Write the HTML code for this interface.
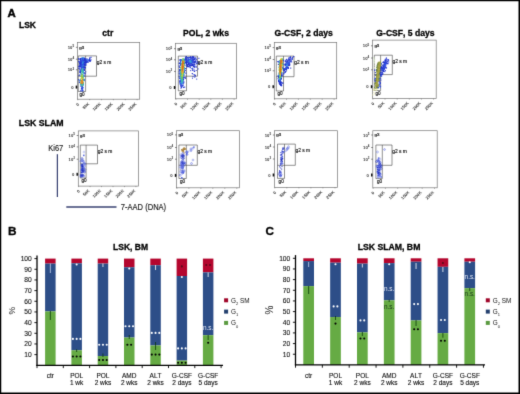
<!DOCTYPE html>
<html><head><meta charset="utf-8"><style>
html,body{margin:0;padding:0;background:#fff;}
svg{display:block;font-family:"Liberation Sans",sans-serif;font-kerning:none;}
#wrap{width:520px;height:394px;overflow:hidden;will-change:transform;}
</style></head><body>
<div id="wrap">
<svg width="520" height="394" viewBox="0 0 520 394" font-family="Liberation Sans, sans-serif">
<defs>
<filter id="all" x="0" y="0" width="520" height="394" filterUnits="userSpaceOnUse" color-interpolation-filters="sRGB"><feConvolveMatrix order="3" kernelMatrix="0.0113 0.0838 0.0113 0.0838 0.6193 0.0838 0.0113 0.0838 0.0113" edgeMode="duplicate" preserveAlpha="true"/></filter></defs>
<g filter="url(#all)">
<rect x="0" y="0" width="520" height="394" fill="#fff"/>
<text x="7.6" y="16.7" font-size="11.4" font-weight="bold" text-anchor="start" fill="#000" stroke="#000" stroke-width="0.45">A</text>
<text x="19" y="28.4" font-size="8.5" font-weight="bold" text-anchor="start" fill="#000" stroke="#000" stroke-width="0.28">LSK</text>
<text x="18.8" y="126.3" font-size="8.75" font-weight="bold" text-anchor="start" fill="#000" stroke="#000" stroke-width="0.28">LSK SLAM</text>
<text x="107.8" y="36.3" font-size="8.6" font-weight="bold" text-anchor="middle" fill="#000" stroke="#000" stroke-width="0.28">ctr</text>
<text x="206" y="36.3" font-size="8.6" font-weight="bold" text-anchor="middle" fill="#000" stroke="#000" stroke-width="0.28">POL, 2 wks</text>
<text x="303.6" y="36.3" font-size="8.6" font-weight="bold" text-anchor="middle" fill="#000" stroke="#000" stroke-width="0.28">G-CSF, 2 days</text>
<text x="405.5" y="36.3" font-size="8.6" font-weight="bold" text-anchor="middle" fill="#000" stroke="#000" stroke-width="0.28">G-CSF, 5 days</text>
<rect x="77.5" y="42.5" width="62.19999999999999" height="56.7" fill="none" stroke="#777" stroke-width="0.7"/>
<path d="M78.3,91.5 V55.9 H96.5 V76.2 H78.3 M85.6,55.9 V91.5 H78.3" fill="none" stroke="#444" stroke-width="0.6"/>
<rect x="86.24" y="60.27" width="1.1" height="1.1" fill="#3050e0"/>
<rect x="88.98" y="60.32" width="1.1" height="1.1" fill="#2233cc"/>
<rect x="88.97" y="60.13" width="1.1" height="1.1" fill="#2233cc"/>
<rect x="86.05" y="59.70" width="1.1" height="1.1" fill="#3050e0"/>
<rect x="87.76" y="60.25" width="1.1" height="1.1" fill="#3050e0"/>
<rect x="89.23" y="58.77" width="1.1" height="1.1" fill="#2233cc"/>
<rect x="87.36" y="59.38" width="1.1" height="1.1" fill="#38a8d8"/>
<rect x="86.48" y="60.32" width="1.1" height="1.1" fill="#3050e0"/>
<rect x="85.43" y="62.20" width="1.1" height="1.1" fill="#2233cc"/>
<rect x="84.26" y="58.33" width="1.1" height="1.1" fill="#2233cc"/>
<rect x="86.06" y="59.28" width="1.1" height="1.1" fill="#3050e0"/>
<rect x="87.58" y="61.77" width="1.1" height="1.1" fill="#2233cc"/>
<rect x="85.71" y="61.40" width="1.1" height="1.1" fill="#2233cc"/>
<rect x="85.66" y="62.16" width="1.1" height="1.1" fill="#2233cc"/>
<rect x="86.85" y="61.54" width="1.1" height="1.1" fill="#2233cc"/>
<rect x="89.04" y="57.62" width="1.1" height="1.1" fill="#2233cc"/>
<rect x="87.74" y="59.35" width="1.1" height="1.1" fill="#3050e0"/>
<rect x="86.80" y="58.53" width="1.1" height="1.1" fill="#3050e0"/>
<rect x="89.63" y="60.03" width="1.1" height="1.1" fill="#2233cc"/>
<rect x="85.55" y="61.72" width="1.1" height="1.1" fill="#2233cc"/>
<rect x="84.81" y="58.60" width="1.1" height="1.1" fill="#3050e0"/>
<rect x="88.88" y="58.83" width="1.1" height="1.1" fill="#2233cc"/>
<rect x="89.64" y="60.38" width="1.1" height="1.1" fill="#2233cc"/>
<rect x="90.46" y="59.32" width="1.1" height="1.1" fill="#2233cc"/>
<rect x="84.51" y="61.01" width="1.1" height="1.1" fill="#2233cc"/>
<rect x="85.57" y="59.68" width="1.1" height="1.1" fill="#3050e0"/>
<rect x="89.94" y="60.44" width="1.1" height="1.1" fill="#2233cc"/>
<rect x="86.78" y="61.04" width="1.1" height="1.1" fill="#3050e0"/>
<rect x="88.66" y="60.30" width="1.1" height="1.1" fill="#2233cc"/>
<rect x="89.50" y="57.47" width="1.1" height="1.1" fill="#2233cc"/>
<rect x="86.38" y="61.08" width="1.1" height="1.1" fill="#2233cc"/>
<rect x="90.51" y="56.77" width="1.1" height="1.1" fill="#2233cc"/>
<rect x="87.40" y="60.49" width="1.1" height="1.1" fill="#3050e0"/>
<rect x="80.86" y="70.54" width="1.1" height="1.1" fill="#38a8d8"/>
<rect x="81.23" y="68.76" width="1.1" height="1.1" fill="#38a8d8"/>
<rect x="83.56" y="72.74" width="1.1" height="1.1" fill="#3050e0"/>
<rect x="81.03" y="74.13" width="1.1" height="1.1" fill="#78c850"/>
<rect x="84.24" y="58.91" width="1.1" height="1.1" fill="#2233cc"/>
<rect x="80.13" y="78.99" width="1.1" height="1.1" fill="#78c850"/>
<rect x="83.25" y="68.22" width="1.1" height="1.1" fill="#2233cc"/>
<rect x="83.39" y="59.27" width="1.1" height="1.1" fill="#3050e0"/>
<rect x="81.71" y="61.83" width="1.1" height="1.1" fill="#3050e0"/>
<rect x="82.42" y="61.53" width="1.1" height="1.1" fill="#3050e0"/>
<rect x="84.93" y="67.27" width="1.1" height="1.1" fill="#2233cc"/>
<rect x="82.49" y="61.46" width="1.1" height="1.1" fill="#3050e0"/>
<rect x="81.31" y="66.83" width="1.1" height="1.1" fill="#38a8d8"/>
<rect x="81.81" y="84.26" width="1.1" height="1.1" fill="#48c0a0"/>
<rect x="82.24" y="70.51" width="1.1" height="1.1" fill="#48c0a0"/>
<rect x="82.27" y="64.60" width="1.1" height="1.1" fill="#38a8d8"/>
<rect x="85.75" y="61.81" width="1.1" height="1.1" fill="#2233cc"/>
<rect x="82.54" y="61.41" width="1.1" height="1.1" fill="#38a8d8"/>
<rect x="78.05" y="58.18" width="1.1" height="1.1" fill="#2233cc"/>
<rect x="80.91" y="76.25" width="1.1" height="1.1" fill="#78c850"/>
<rect x="83.14" y="67.35" width="1.1" height="1.1" fill="#3050e0"/>
<rect x="83.42" y="78.48" width="1.1" height="1.1" fill="#38a8d8"/>
<rect x="83.62" y="63.47" width="1.1" height="1.1" fill="#3050e0"/>
<rect x="78.05" y="79.21" width="1.1" height="1.1" fill="#2233cc"/>
<rect x="81.74" y="77.43" width="1.1" height="1.1" fill="#d8d038"/>
<rect x="83.94" y="58.23" width="1.1" height="1.1" fill="#2233cc"/>
<rect x="81.75" y="64.99" width="1.1" height="1.1" fill="#38a8d8"/>
<rect x="83.74" y="69.53" width="1.1" height="1.1" fill="#3050e0"/>
<rect x="82.50" y="84.13" width="1.1" height="1.1" fill="#3050e0"/>
<rect x="81.51" y="63.57" width="1.1" height="1.1" fill="#3050e0"/>
<rect x="79.58" y="62.97" width="1.1" height="1.1" fill="#2233cc"/>
<rect x="79.76" y="70.40" width="1.1" height="1.1" fill="#2233cc"/>
<rect x="83.11" y="79.04" width="1.1" height="1.1" fill="#48c0a0"/>
<rect x="82.45" y="78.57" width="1.1" height="1.1" fill="#e89a30"/>
<rect x="82.72" y="70.36" width="1.1" height="1.1" fill="#38a8d8"/>
<rect x="83.53" y="79.07" width="1.1" height="1.1" fill="#38a8d8"/>
<rect x="79.23" y="68.14" width="1.1" height="1.1" fill="#2233cc"/>
<rect x="84.15" y="62.04" width="1.1" height="1.1" fill="#2233cc"/>
<rect x="84.31" y="61.53" width="1.1" height="1.1" fill="#2233cc"/>
<rect x="80.11" y="79.77" width="1.1" height="1.1" fill="#d8d038"/>
<rect x="80.61" y="75.20" width="1.1" height="1.1" fill="#48c0a0"/>
<rect x="83.68" y="57.83" width="1.1" height="1.1" fill="#3050e0"/>
<rect x="78.60" y="74.99" width="1.1" height="1.1" fill="#2233cc"/>
<rect x="80.90" y="80.99" width="1.1" height="1.1" fill="#d87020"/>
<rect x="81.92" y="63.15" width="1.1" height="1.1" fill="#38a8d8"/>
<rect x="82.72" y="73.28" width="1.1" height="1.1" fill="#38a8d8"/>
<rect x="83.71" y="68.76" width="1.1" height="1.1" fill="#2233cc"/>
<rect x="83.83" y="69.82" width="1.1" height="1.1" fill="#2233cc"/>
<rect x="78.83" y="81.87" width="1.1" height="1.1" fill="#2233cc"/>
<rect x="83.07" y="71.81" width="1.1" height="1.1" fill="#38a8d8"/>
<rect x="81.18" y="57.96" width="1.1" height="1.1" fill="#3050e0"/>
<rect x="81.77" y="79.03" width="1.1" height="1.1" fill="#d87020"/>
<rect x="81.47" y="70.23" width="1.1" height="1.1" fill="#48c0a0"/>
<rect x="80.05" y="71.45" width="1.1" height="1.1" fill="#3050e0"/>
<rect x="82.78" y="78.63" width="1.1" height="1.1" fill="#78c850"/>
<rect x="83.11" y="64.93" width="1.1" height="1.1" fill="#3050e0"/>
<rect x="79.67" y="71.16" width="1.1" height="1.1" fill="#3050e0"/>
<rect x="80.92" y="69.42" width="1.1" height="1.1" fill="#38a8d8"/>
<rect x="79.71" y="71.10" width="1.1" height="1.1" fill="#2233cc"/>
<rect x="81.53" y="71.85" width="1.1" height="1.1" fill="#48c0a0"/>
<rect x="80.51" y="82.87" width="1.1" height="1.1" fill="#e89a30"/>
<rect x="78.89" y="64.46" width="1.1" height="1.1" fill="#2233cc"/>
<rect x="81.72" y="82.92" width="1.1" height="1.1" fill="#d87020"/>
<rect x="81.16" y="69.39" width="1.1" height="1.1" fill="#38a8d8"/>
<rect x="83.98" y="63.95" width="1.1" height="1.1" fill="#2233cc"/>
<rect x="82.24" y="81.67" width="1.1" height="1.1" fill="#e89a30"/>
<rect x="81.14" y="76.79" width="1.1" height="1.1" fill="#e89a30"/>
<rect x="80.72" y="83.57" width="1.1" height="1.1" fill="#38a8d8"/>
<rect x="80.13" y="83.17" width="1.1" height="1.1" fill="#d8d038"/>
<rect x="82.33" y="79.93" width="1.1" height="1.1" fill="#d8d038"/>
<rect x="80.58" y="69.10" width="1.1" height="1.1" fill="#3050e0"/>
<rect x="81.71" y="66.05" width="1.1" height="1.1" fill="#38a8d8"/>
<rect x="80.52" y="57.98" width="1.1" height="1.1" fill="#2233cc"/>
<rect x="81.29" y="66.40" width="1.1" height="1.1" fill="#38a8d8"/>
<rect x="85.16" y="71.28" width="1.1" height="1.1" fill="#2233cc"/>
<rect x="82.80" y="83.69" width="1.1" height="1.1" fill="#3050e0"/>
<rect x="84.51" y="64.62" width="1.1" height="1.1" fill="#2233cc"/>
<rect x="82.67" y="60.95" width="1.1" height="1.1" fill="#38a8d8"/>
<rect x="81.79" y="82.06" width="1.1" height="1.1" fill="#d87020"/>
<rect x="80.45" y="82.27" width="1.1" height="1.1" fill="#e89a30"/>
<rect x="81.92" y="76.36" width="1.1" height="1.1" fill="#d8d038"/>
<rect x="82.00" y="68.93" width="1.1" height="1.1" fill="#38a8d8"/>
<rect x="79.80" y="82.79" width="1.1" height="1.1" fill="#48c0a0"/>
<rect x="79.67" y="80.57" width="1.1" height="1.1" fill="#38a8d8"/>
<rect x="80.28" y="80.74" width="1.1" height="1.1" fill="#d8d038"/>
<rect x="81.70" y="82.47" width="1.1" height="1.1" fill="#d87020"/>
<rect x="80.88" y="60.94" width="1.1" height="1.1" fill="#3050e0"/>
<rect x="81.79" y="61.81" width="1.1" height="1.1" fill="#3050e0"/>
<rect x="81.44" y="62.90" width="1.1" height="1.1" fill="#38a8d8"/>
<rect x="83.10" y="65.28" width="1.1" height="1.1" fill="#3050e0"/>
<rect x="81.80" y="62.25" width="1.1" height="1.1" fill="#38a8d8"/>
<rect x="82.34" y="57.86" width="1.1" height="1.1" fill="#38a8d8"/>
<rect x="82.21" y="72.33" width="1.1" height="1.1" fill="#78c850"/>
<rect x="83.66" y="60.32" width="1.1" height="1.1" fill="#3050e0"/>
<rect x="79.29" y="69.12" width="1.1" height="1.1" fill="#2233cc"/>
<rect x="81.78" y="71.13" width="1.1" height="1.1" fill="#48c0a0"/>
<rect x="79.96" y="83.98" width="1.1" height="1.1" fill="#38a8d8"/>
<rect x="83.65" y="74.62" width="1.1" height="1.1" fill="#2233cc"/>
<rect x="82.60" y="66.83" width="1.1" height="1.1" fill="#3050e0"/>
<rect x="81.74" y="77.45" width="1.1" height="1.1" fill="#d8d038"/>
<rect x="84.54" y="61.86" width="1.1" height="1.1" fill="#2233cc"/>
<rect x="82.83" y="75.55" width="1.1" height="1.1" fill="#38a8d8"/>
<rect x="81.45" y="63.99" width="1.1" height="1.1" fill="#3050e0"/>
<rect x="83.14" y="69.49" width="1.1" height="1.1" fill="#3050e0"/>
<rect x="82.94" y="83.42" width="1.1" height="1.1" fill="#48c0a0"/>
<rect x="81.05" y="83.52" width="1.1" height="1.1" fill="#48c0a0"/>
<rect x="83.34" y="67.08" width="1.1" height="1.1" fill="#3050e0"/>
<rect x="81.71" y="71.02" width="1.1" height="1.1" fill="#48c0a0"/>
<rect x="82.72" y="71.08" width="1.1" height="1.1" fill="#38a8d8"/>
<rect x="81.82" y="68.24" width="1.1" height="1.1" fill="#38a8d8"/>
<rect x="81.71" y="58.06" width="1.1" height="1.1" fill="#38a8d8"/>
<rect x="82.57" y="71.74" width="1.1" height="1.1" fill="#48c0a0"/>
<rect x="81.01" y="75.20" width="1.1" height="1.1" fill="#78c850"/>
<rect x="78.73" y="66.26" width="1.1" height="1.1" fill="#2233cc"/>
<rect x="81.63" y="61.49" width="1.1" height="1.1" fill="#3050e0"/>
<rect x="79.59" y="80.00" width="1.1" height="1.1" fill="#38a8d8"/>
<rect x="81.36" y="74.39" width="1.1" height="1.1" fill="#78c850"/>
<rect x="79.32" y="71.59" width="1.1" height="1.1" fill="#2233cc"/>
<rect x="82.25" y="79.99" width="1.1" height="1.1" fill="#e89a30"/>
<rect x="79.10" y="81.56" width="1.1" height="1.1" fill="#3050e0"/>
<rect x="81.59" y="76.17" width="1.1" height="1.1" fill="#d8d038"/>
<rect x="82.20" y="67.19" width="1.1" height="1.1" fill="#38a8d8"/>
<rect x="79.73" y="80.02" width="1.1" height="1.1" fill="#48c0a0"/>
<rect x="80.90" y="75.83" width="1.1" height="1.1" fill="#78c850"/>
<rect x="82.87" y="57.54" width="1.1" height="1.1" fill="#38a8d8"/>
<rect x="79.61" y="71.90" width="1.1" height="1.1" fill="#2233cc"/>
<rect x="81.96" y="59.23" width="1.1" height="1.1" fill="#3050e0"/>
<rect x="80.72" y="64.62" width="1.1" height="1.1" fill="#3050e0"/>
<rect x="81.67" y="62.99" width="1.1" height="1.1" fill="#38a8d8"/>
<rect x="78.26" y="67.78" width="1.1" height="1.1" fill="#2233cc"/>
<rect x="81.75" y="75.91" width="1.1" height="1.1" fill="#d8d038"/>
<rect x="79.91" y="59.54" width="1.1" height="1.1" fill="#2233cc"/>
<rect x="81.85" y="64.31" width="1.1" height="1.1" fill="#38a8d8"/>
<rect x="80.78" y="57.79" width="1.1" height="1.1" fill="#3050e0"/>
<rect x="80.77" y="64.71" width="1.1" height="1.1" fill="#3050e0"/>
<rect x="79.78" y="65.30" width="1.1" height="1.1" fill="#2233cc"/>
<rect x="81.10" y="70.00" width="1.1" height="1.1" fill="#48c0a0"/>
<rect x="82.11" y="62.83" width="1.1" height="1.1" fill="#38a8d8"/>
<rect x="82.78" y="82.73" width="1.1" height="1.1" fill="#78c850"/>
<rect x="81.48" y="83.59" width="1.1" height="1.1" fill="#48c0a0"/>
<rect x="82.83" y="64.70" width="1.1" height="1.1" fill="#3050e0"/>
<rect x="84.68" y="73.15" width="1.1" height="1.1" fill="#2233cc"/>
<rect x="82.35" y="71.60" width="1.1" height="1.1" fill="#48c0a0"/>
<rect x="81.50" y="71.19" width="1.1" height="1.1" fill="#78c850"/>
<rect x="81.86" y="76.44" width="1.1" height="1.1" fill="#d8d038"/>
<rect x="85.38" y="58.12" width="1.1" height="1.1" fill="#2233cc"/>
<rect x="80.66" y="70.73" width="1.1" height="1.1" fill="#38a8d8"/>
<rect x="82.23" y="66.74" width="1.1" height="1.1" fill="#38a8d8"/>
<rect x="83.60" y="80.14" width="1.1" height="1.1" fill="#3050e0"/>
<rect x="82.04" y="60.69" width="1.1" height="1.1" fill="#38a8d8"/>
<rect x="82.41" y="76.70" width="1.1" height="1.1" fill="#78c850"/>
<rect x="81.17" y="68.06" width="1.1" height="1.1" fill="#48c0a0"/>
<rect x="80.75" y="73.36" width="1.1" height="1.1" fill="#48c0a0"/>
<rect x="83.33" y="58.75" width="1.1" height="1.1" fill="#3050e0"/>
<rect x="80.76" y="79.99" width="1.1" height="1.1" fill="#e89a30"/>
<rect x="85.43" y="64.62" width="1.1" height="1.1" fill="#2233cc"/>
<rect x="79.24" y="62.58" width="1.1" height="1.1" fill="#2233cc"/>
<rect x="83.77" y="79.37" width="1.1" height="1.1" fill="#3050e0"/>
<rect x="82.90" y="82.11" width="1.1" height="1.1" fill="#48c0a0"/>
<rect x="81.36" y="58.79" width="1.1" height="1.1" fill="#38a8d8"/>
<rect x="81.78" y="69.62" width="1.1" height="1.1" fill="#48c0a0"/>
<rect x="79.84" y="58.77" width="1.1" height="1.1" fill="#2233cc"/>
<rect x="80.61" y="60.89" width="1.1" height="1.1" fill="#3050e0"/>
<rect x="81.72" y="77.40" width="1.1" height="1.1" fill="#e89a30"/>
<rect x="81.17" y="64.47" width="1.1" height="1.1" fill="#38a8d8"/>
<rect x="80.88" y="68.10" width="1.1" height="1.1" fill="#3050e0"/>
<rect x="82.86" y="61.81" width="1.1" height="1.1" fill="#3050e0"/>
<rect x="85.18" y="63.39" width="1.1" height="1.1" fill="#2233cc"/>
<rect x="80.62" y="84.35" width="1.1" height="1.1" fill="#38a8d8"/>
<rect x="82.30" y="59.90" width="1.1" height="1.1" fill="#38a8d8"/>
<rect x="82.12" y="59.91" width="1.1" height="1.1" fill="#38a8d8"/>
<rect x="82.39" y="81.41" width="1.1" height="1.1" fill="#e89a30"/>
<rect x="80.42" y="68.60" width="1.1" height="1.1" fill="#3050e0"/>
<rect x="82.81" y="66.58" width="1.1" height="1.1" fill="#3050e0"/>
<rect x="82.67" y="64.94" width="1.1" height="1.1" fill="#3050e0"/>
<rect x="81.46" y="74.45" width="1.1" height="1.1" fill="#d8d038"/>
<rect x="81.78" y="63.28" width="1.1" height="1.1" fill="#38a8d8"/>
<rect x="82.72" y="69.49" width="1.1" height="1.1" fill="#38a8d8"/>
<rect x="81.61" y="80.36" width="1.1" height="1.1" fill="#d87020"/>
<rect x="81.34" y="76.61" width="1.1" height="1.1" fill="#e89a30"/>
<rect x="81.71" y="70.23" width="1.1" height="1.1" fill="#48c0a0"/>
<rect x="81.35" y="82.47" width="1.1" height="1.1" fill="#d87020"/>
<rect x="82.38" y="80.55" width="1.1" height="1.1" fill="#d8d038"/>
<rect x="81.78" y="61.62" width="1.1" height="1.1" fill="#38a8d8"/>
<rect x="83.50" y="75.87" width="1.1" height="1.1" fill="#3050e0"/>
<rect x="80.74" y="78.10" width="1.1" height="1.1" fill="#d8d038"/>
<rect x="83.86" y="72.34" width="1.1" height="1.1" fill="#2233cc"/>
<rect x="81.92" y="82.29" width="1.1" height="1.1" fill="#d87020"/>
<rect x="82.68" y="65.65" width="1.1" height="1.1" fill="#38a8d8"/>
<rect x="82.26" y="76.31" width="1.1" height="1.1" fill="#78c850"/>
<rect x="80.03" y="59.35" width="1.1" height="1.1" fill="#2233cc"/>
<rect x="81.62" y="63.49" width="1.1" height="1.1" fill="#38a8d8"/>
<rect x="81.55" y="57.73" width="1.1" height="1.1" fill="#38a8d8"/>
<rect x="82.96" y="74.85" width="1.1" height="1.1" fill="#38a8d8"/>
<rect x="81.82" y="70.28" width="1.1" height="1.1" fill="#48c0a0"/>
<rect x="82.51" y="76.48" width="1.1" height="1.1" fill="#48c0a0"/>
<rect x="79.77" y="58.04" width="1.1" height="1.1" fill="#2233cc"/>
<rect x="81.93" y="64.40" width="1.1" height="1.1" fill="#38a8d8"/>
<rect x="81.41" y="82.43" width="1.1" height="1.1" fill="#d87020"/>
<rect x="82.11" y="68.81" width="1.1" height="1.1" fill="#48c0a0"/>
<rect x="82.69" y="62.80" width="1.1" height="1.1" fill="#38a8d8"/>
<rect x="79.51" y="62.99" width="1.1" height="1.1" fill="#2233cc"/>
<rect x="82.34" y="65.87" width="1.1" height="1.1" fill="#38a8d8"/>
<rect x="80.64" y="77.98" width="1.1" height="1.1" fill="#78c850"/>
<rect x="80.50" y="83.15" width="1.1" height="1.1" fill="#e89a30"/>
<rect x="81.79" y="68.71" width="1.1" height="1.1" fill="#48c0a0"/>
<rect x="82.13" y="83.07" width="1.1" height="1.1" fill="#e89a30"/>
<rect x="82.36" y="83.75" width="1.1" height="1.1" fill="#38a8d8"/>
<rect x="83.51" y="58.85" width="1.1" height="1.1" fill="#3050e0"/>
<rect x="81.87" y="81.31" width="1.1" height="1.1" fill="#d87020"/>
<rect x="82.36" y="84.38" width="1.1" height="1.1" fill="#38a8d8"/>
<rect x="80.87" y="82.72" width="1.1" height="1.1" fill="#d87020"/>
<rect x="81.31" y="58.31" width="1.1" height="1.1" fill="#3050e0"/>
<rect x="80.54" y="66.41" width="1.1" height="1.1" fill="#3050e0"/>
<rect x="81.84" y="57.53" width="1.1" height="1.1" fill="#38a8d8"/>
<rect x="83.43" y="60.79" width="1.1" height="1.1" fill="#3050e0"/>
<rect x="80.15" y="63.05" width="1.1" height="1.1" fill="#3050e0"/>
<rect x="83.65" y="69.13" width="1.1" height="1.1" fill="#2233cc"/>
<rect x="79.69" y="70.23" width="1.1" height="1.1" fill="#2233cc"/>
<rect x="84.31" y="67.28" width="1.1" height="1.1" fill="#2233cc"/>
<rect x="79.69" y="58.27" width="1.1" height="1.1" fill="#2233cc"/>
<rect x="83.58" y="58.55" width="1.1" height="1.1" fill="#2233cc"/>
<rect x="83.11" y="59.14" width="1.1" height="1.1" fill="#38a8d8"/>
<rect x="80.90" y="81.71" width="1.1" height="1.1" fill="#d87020"/>
<rect x="83.96" y="64.80" width="1.1" height="1.1" fill="#2233cc"/>
<rect x="81.06" y="76.80" width="1.1" height="1.1" fill="#d8d038"/>
<rect x="84.49" y="64.89" width="1.1" height="1.1" fill="#2233cc"/>
<rect x="81.65" y="74.57" width="1.1" height="1.1" fill="#d8d038"/>
<rect x="82.27" y="58.10" width="1.1" height="1.1" fill="#38a8d8"/>
<rect x="82.81" y="83.21" width="1.1" height="1.1" fill="#48c0a0"/>
<rect x="80.27" y="64.23" width="1.1" height="1.1" fill="#3050e0"/>
<rect x="82.73" y="62.39" width="1.1" height="1.1" fill="#38a8d8"/>
<rect x="82.50" y="77.39" width="1.1" height="1.1" fill="#78c850"/>
<rect x="79.45" y="66.30" width="1.1" height="1.1" fill="#2233cc"/>
<rect x="81.94" y="67.22" width="1.1" height="1.1" fill="#38a8d8"/>
<rect x="80.98" y="77.78" width="1.1" height="1.1" fill="#d8d038"/>
<rect x="83.98" y="59.20" width="1.1" height="1.1" fill="#2233cc"/>
<rect x="81.66" y="83.92" width="1.1" height="1.1" fill="#48c0a0"/>
<rect x="81.26" y="84.12" width="1.1" height="1.1" fill="#48c0a0"/>
<rect x="82.25" y="70.91" width="1.1" height="1.1" fill="#48c0a0"/>
<rect x="81.88" y="69.52" width="1.1" height="1.1" fill="#48c0a0"/>
<rect x="82.91" y="75.65" width="1.1" height="1.1" fill="#48c0a0"/>
<rect x="81.09" y="80.32" width="1.1" height="1.1" fill="#d87020"/>
<rect x="81.20" y="65.38" width="1.1" height="1.1" fill="#38a8d8"/>
<rect x="81.74" y="67.52" width="1.1" height="1.1" fill="#38a8d8"/>
<rect x="80.88" y="64.07" width="1.1" height="1.1" fill="#3050e0"/>
<rect x="80.38" y="81.32" width="1.1" height="1.1" fill="#d8d038"/>
<rect x="80.76" y="84.25" width="1.1" height="1.1" fill="#48c0a0"/>
<rect x="82.73" y="63.70" width="1.1" height="1.1" fill="#38a8d8"/>
<rect x="79.92" y="60.21" width="1.1" height="1.1" fill="#2233cc"/>
<rect x="83.00" y="79.57" width="1.1" height="1.1" fill="#48c0a0"/>
<rect x="78.98" y="65.38" width="1.1" height="1.1" fill="#2233cc"/>
<rect x="83.98" y="62.57" width="1.1" height="1.1" fill="#3050e0"/>
<rect x="81.52" y="67.50" width="1.1" height="1.1" fill="#48c0a0"/>
<rect x="81.61" y="69.58" width="1.1" height="1.1" fill="#48c0a0"/>
<rect x="84.71" y="60.31" width="1.1" height="1.1" fill="#2233cc"/>
<rect x="81.86" y="74.19" width="1.1" height="1.1" fill="#78c850"/>
<rect x="83.40" y="62.96" width="1.1" height="1.1" fill="#3050e0"/>
<rect x="81.12" y="73.63" width="1.1" height="1.1" fill="#48c0a0"/>
<rect x="80.99" y="66.29" width="1.1" height="1.1" fill="#38a8d8"/>
<rect x="81.56" y="62.45" width="1.1" height="1.1" fill="#38a8d8"/>
<rect x="82.48" y="72.25" width="1.1" height="1.1" fill="#38a8d8"/>
<rect x="80.48" y="60.19" width="1.1" height="1.1" fill="#3050e0"/>
<rect x="83.23" y="59.91" width="1.1" height="1.1" fill="#3050e0"/>
<rect x="80.65" y="76.23" width="1.1" height="1.1" fill="#78c850"/>
<rect x="81.91" y="83.19" width="1.1" height="1.1" fill="#d87020"/>
<rect x="80.81" y="72.75" width="1.1" height="1.1" fill="#48c0a0"/>
<rect x="82.36" y="84.36" width="1.1" height="1.1" fill="#38a8d8"/>
<rect x="81.81" y="62.77" width="1.1" height="1.1" fill="#3050e0"/>
<rect x="80.51" y="81.79" width="1.1" height="1.1" fill="#e89a30"/>
<rect x="79.21" y="79.60" width="1.1" height="1.1" fill="#3050e0"/>
<rect x="83.76" y="61.84" width="1.1" height="1.1" fill="#2233cc"/>
<rect x="79.85" y="72.34" width="1.1" height="1.1" fill="#2233cc"/>
<rect x="79.40" y="74.25" width="1.1" height="1.1" fill="#2233cc"/>
<rect x="82.35" y="71.07" width="1.1" height="1.1" fill="#48c0a0"/>
<rect x="82.20" y="82.44" width="1.1" height="1.1" fill="#e89a30"/>
<rect x="82.86" y="70.69" width="1.1" height="1.1" fill="#38a8d8"/>
<rect x="78.20" y="60.87" width="1.1" height="1.1" fill="#2233cc"/>
<rect x="80.89" y="83.79" width="1.1" height="1.1" fill="#48c0a0"/>
<rect x="81.84" y="67.92" width="1.1" height="1.1" fill="#48c0a0"/>
<rect x="81.99" y="88.17" width="1.1" height="1.1" fill="#3050e0"/>
<rect x="81.28" y="85.78" width="1.1" height="1.1" fill="#3050e0"/>
<rect x="82.02" y="89.53" width="1.1" height="1.1" fill="#3050e0"/>
<rect x="81.25" y="86.85" width="1.1" height="1.1" fill="#3050e0"/>
<rect x="82.24" y="86.75" width="1.1" height="1.1" fill="#3050e0"/>
<rect x="82.22" y="89.83" width="1.1" height="1.1" fill="#2233cc"/>
<rect x="81.76" y="87.82" width="1.1" height="1.1" fill="#3050e0"/>
<rect x="81.50" y="85.16" width="1.1" height="1.1" fill="#48c0a0"/>
<rect x="81.21" y="87.75" width="1.1" height="1.1" fill="#3050e0"/>
<rect x="81.20" y="87.95" width="1.1" height="1.1" fill="#3050e0"/>
<rect x="80.84" y="88.40" width="1.1" height="1.1" fill="#2233cc"/>
<rect x="82.07" y="88.16" width="1.1" height="1.1" fill="#3050e0"/>
<rect x="81.88" y="85.86" width="1.1" height="1.1" fill="#3050e0"/>
<rect x="80.19" y="85.53" width="1.1" height="1.1" fill="#2233cc"/>
<rect x="82.41" y="85.09" width="1.1" height="1.1" fill="#38a8d8"/>
<rect x="82.44" y="87.10" width="1.1" height="1.1" fill="#3050e0"/>
<rect x="81.51" y="84.69" width="1.1" height="1.1" fill="#48c0a0"/>
<rect x="81.47" y="89.12" width="1.1" height="1.1" fill="#3050e0"/>
<rect x="80.87" y="84.78" width="1.1" height="1.1" fill="#38a8d8"/>
<rect x="81.73" y="85.27" width="1.1" height="1.1" fill="#78c850"/>
<rect x="81.56" y="90.43" width="1.1" height="1.1" fill="#3050e0"/>
<rect x="80.11" y="90.34" width="1.1" height="1.1" fill="#2233cc"/>
<rect x="82.22" y="90.19" width="1.1" height="1.1" fill="#3050e0"/>
<rect x="81.48" y="90.03" width="1.1" height="1.1" fill="#3050e0"/>
<rect x="81.77" y="86.56" width="1.1" height="1.1" fill="#3050e0"/>
<rect x="81.11" y="60.20" width="1.1" height="1.1" fill="#3050e0"/>
<rect x="78.46" y="58.89" width="1.1" height="1.1" fill="#2233cc"/>
<rect x="82.00" y="60.08" width="1.1" height="1.1" fill="#38a8d8"/>
<rect x="83.04" y="60.64" width="1.1" height="1.1" fill="#3050e0"/>
<rect x="82.28" y="66.81" width="1.1" height="1.1" fill="#38a8d8"/>
<rect x="83.42" y="66.40" width="1.1" height="1.1" fill="#2233cc"/>
<rect x="84.50" y="62.76" width="1.1" height="1.1" fill="#2233cc"/>
<rect x="83.47" y="61.05" width="1.1" height="1.1" fill="#3050e0"/>
<rect x="80.59" y="66.28" width="1.1" height="1.1" fill="#2233cc"/>
<rect x="80.95" y="67.38" width="1.1" height="1.1" fill="#3050e0"/>
<rect x="80.88" y="60.10" width="1.1" height="1.1" fill="#3050e0"/>
<rect x="80.31" y="63.22" width="1.1" height="1.1" fill="#2233cc"/>
<rect x="84.14" y="59.22" width="1.1" height="1.1" fill="#2233cc"/>
<rect x="82.57" y="57.93" width="1.1" height="1.1" fill="#38a8d8"/>
<rect x="80.94" y="67.29" width="1.1" height="1.1" fill="#3050e0"/>
<rect x="82.01" y="64.09" width="1.1" height="1.1" fill="#3050e0"/>
<rect x="82.14" y="58.94" width="1.1" height="1.1" fill="#38a8d8"/>
<rect x="78.66" y="61.77" width="1.1" height="1.1" fill="#2233cc"/>
<rect x="81.78" y="59.72" width="1.1" height="1.1" fill="#38a8d8"/>
<rect x="83.55" y="57.67" width="1.1" height="1.1" fill="#2233cc"/>
<rect x="82.07" y="61.02" width="1.1" height="1.1" fill="#3050e0"/>
<rect x="81.13" y="63.29" width="1.1" height="1.1" fill="#3050e0"/>
<rect x="81.48" y="62.20" width="1.1" height="1.1" fill="#3050e0"/>
<rect x="82.09" y="66.82" width="1.1" height="1.1" fill="#3050e0"/>
<rect x="82.96" y="63.83" width="1.1" height="1.1" fill="#3050e0"/>
<rect x="81.03" y="65.27" width="1.1" height="1.1" fill="#3050e0"/>
<rect x="82.77" y="63.90" width="1.1" height="1.1" fill="#3050e0"/>
<rect x="80.99" y="60.95" width="1.1" height="1.1" fill="#3050e0"/>
<rect x="80.68" y="64.79" width="1.1" height="1.1" fill="#2233cc"/>
<rect x="83.95" y="66.49" width="1.1" height="1.1" fill="#2233cc"/>
<rect x="82.59" y="59.83" width="1.1" height="1.1" fill="#3050e0"/>
<rect x="84.07" y="65.24" width="1.1" height="1.1" fill="#3050e0"/>
<rect x="82.21" y="58.87" width="1.1" height="1.1" fill="#3050e0"/>
<rect x="79.76" y="63.53" width="1.1" height="1.1" fill="#2233cc"/>
<rect x="81.95" y="59.20" width="1.1" height="1.1" fill="#3050e0"/>
<rect x="85.25" y="60.45" width="1.1" height="1.1" fill="#2233cc"/>
<rect x="83.06" y="64.60" width="1.1" height="1.1" fill="#3050e0"/>
<rect x="82.00" y="65.89" width="1.1" height="1.1" fill="#38a8d8"/>
<rect x="80.26" y="61.97" width="1.1" height="1.1" fill="#2233cc"/>
<rect x="82.10" y="58.50" width="1.1" height="1.1" fill="#3050e0"/>
<rect x="82.50" y="64.95" width="1.1" height="1.1" fill="#38a8d8"/>
<rect x="81.75" y="65.90" width="1.1" height="1.1" fill="#38a8d8"/>
<rect x="80.83" y="61.81" width="1.1" height="1.1" fill="#3050e0"/>
<rect x="81.83" y="62.68" width="1.1" height="1.1" fill="#38a8d8"/>
<rect x="84.33" y="59.62" width="1.1" height="1.1" fill="#2233cc"/>
<rect x="81.97" y="57.60" width="1.1" height="1.1" fill="#38a8d8"/>
<rect x="83.22" y="66.90" width="1.1" height="1.1" fill="#3050e0"/>
<rect x="83.09" y="60.72" width="1.1" height="1.1" fill="#3050e0"/>
<rect x="81.07" y="66.53" width="1.1" height="1.1" fill="#3050e0"/>
<rect x="79.79" y="64.38" width="1.1" height="1.1" fill="#2233cc"/>
<rect x="78.22" y="65.85" width="1.1" height="1.1" fill="#2233cc"/>
<rect x="79.68" y="66.03" width="1.1" height="1.1" fill="#2233cc"/>
<rect x="83.04" y="60.53" width="1.1" height="1.1" fill="#3050e0"/>
<rect x="85.16" y="63.68" width="1.1" height="1.1" fill="#2233cc"/>
<rect x="83.70" y="57.72" width="1.1" height="1.1" fill="#2233cc"/>
<rect x="81.55" y="66.74" width="1.1" height="1.1" fill="#3050e0"/>
<rect x="82.78" y="57.87" width="1.1" height="1.1" fill="#3050e0"/>
<rect x="81.20" y="63.79" width="1.1" height="1.1" fill="#3050e0"/>
<rect x="79.58" y="63.35" width="1.1" height="1.1" fill="#2233cc"/>
<rect x="83.48" y="65.63" width="1.1" height="1.1" fill="#2233cc"/>
<rect x="79.00" y="66.13" width="1.1" height="1.1" fill="#2233cc"/>
<rect x="82.90" y="66.89" width="1.1" height="1.1" fill="#3050e0"/>
<rect x="82.73" y="57.79" width="1.1" height="1.1" fill="#38a8d8"/>
<rect x="80.06" y="65.57" width="1.1" height="1.1" fill="#2233cc"/>
<rect x="79.82" y="60.32" width="1.1" height="1.1" fill="#2233cc"/>
<rect x="82.10" y="58.43" width="1.1" height="1.1" fill="#3050e0"/>
<rect x="80.97" y="61.69" width="1.1" height="1.1" fill="#3050e0"/>
<rect x="81.53" y="60.02" width="1.1" height="1.1" fill="#3050e0"/>
<rect x="84.53" y="60.66" width="1.1" height="1.1" fill="#2233cc"/>
<rect x="83.37" y="62.49" width="1.1" height="1.1" fill="#2233cc"/>
<rect x="80.26" y="61.58" width="1.1" height="1.1" fill="#2233cc"/>
<rect x="80.62" y="65.18" width="1.1" height="1.1" fill="#3050e0"/>
<rect x="84.10" y="59.62" width="1.1" height="1.1" fill="#2233cc"/>
<rect x="82.47" y="58.36" width="1.1" height="1.1" fill="#3050e0"/>
<rect x="81.16" y="59.47" width="1.1" height="1.1" fill="#3050e0"/>
<rect x="83.91" y="67.23" width="1.1" height="1.1" fill="#2233cc"/>
<rect x="82.10" y="65.42" width="1.1" height="1.1" fill="#3050e0"/>
<rect x="80.32" y="62.40" width="1.1" height="1.1" fill="#2233cc"/>
<rect x="84.53" y="66.89" width="1.1" height="1.1" fill="#2233cc"/>
<rect x="81.46" y="59.60" width="1.1" height="1.1" fill="#3050e0"/>
<rect x="80.26" y="63.82" width="1.1" height="1.1" fill="#2233cc"/>
<rect x="81.13" y="65.33" width="1.1" height="1.1" fill="#3050e0"/>
<rect x="79.39" y="61.01" width="1.1" height="1.1" fill="#2233cc"/>
<rect x="82.57" y="61.40" width="1.1" height="1.1" fill="#38a8d8"/>
<rect x="81.62" y="57.70" width="1.1" height="1.1" fill="#3050e0"/>
<rect x="83.59" y="60.08" width="1.1" height="1.1" fill="#2233cc"/>
<rect x="80.95" y="66.29" width="1.1" height="1.1" fill="#3050e0"/>
<rect x="79.42" y="62.06" width="1.1" height="1.1" fill="#2233cc"/>
<rect x="81.52" y="63.91" width="1.1" height="1.1" fill="#3050e0"/>
<rect x="83.78" y="60.72" width="1.1" height="1.1" fill="#3050e0"/>
<text x="79.3" y="48.699999999999996" font-size="4.4" text-anchor="start" fill="#111" stroke="#111" stroke-width="0.2">g3</text>
<text x="96.7" y="64.1" font-size="4.9" text-anchor="start" fill="#111" stroke="#111" stroke-width="0.15">g2 s m</text>
<text x="79.39999999999999" y="95.8" font-size="4.6" text-anchor="start" fill="#111" stroke="#111" stroke-width="0.15">g0</text>
<line x1="75.9" y1="47.3" x2="77.5" y2="47.3" stroke="#333" stroke-width="0.6"/>
<text x="74.1" y="48.8" font-size="4.2" font-weight="bold" text-anchor="end" fill="#333" >10<tspan font-size="3.0" dy="-1.7">5</tspan></text>
<line x1="75.9" y1="59.2" x2="77.5" y2="59.2" stroke="#333" stroke-width="0.6"/>
<text x="74.1" y="60.7" font-size="4.2" font-weight="bold" text-anchor="end" fill="#333" >10<tspan font-size="3.0" dy="-1.7">4</tspan></text>
<line x1="75.9" y1="69.8" x2="77.5" y2="69.8" stroke="#333" stroke-width="0.6"/>
<text x="74.1" y="71.3" font-size="4.2" font-weight="bold" text-anchor="end" fill="#333" >10<tspan font-size="3.0" dy="-1.7">3</tspan></text>
<line x1="75.9" y1="87.1" x2="77.5" y2="87.1" stroke="#333" stroke-width="0.6"/>
<text x="73.5" y="88.6" font-size="4.2" font-weight="bold" text-anchor="end" fill="#333" >0</text>
<rect x="75.7" y="85.6" width="1.4" height="3" fill="#111"/>
<line x1="77.8" y1="99.2" x2="77.8" y2="100.2" stroke="#555" stroke-width="0.5"/>
<text transform="translate(79.4,104.6) rotate(-45)" font-size="4.1" font-weight="bold" text-anchor="end" fill="#333">0</text>
<line x1="89.7" y1="99.2" x2="89.7" y2="100.2" stroke="#555" stroke-width="0.5"/>
<text transform="translate(89.5,104.1) rotate(-45)" font-size="4.1" font-weight="bold" text-anchor="end" fill="#333">50K</text>
<line x1="101.5" y1="99.2" x2="101.5" y2="100.2" stroke="#555" stroke-width="0.5"/>
<text transform="translate(101.3,104.1) rotate(-45)" font-size="4.1" font-weight="bold" text-anchor="end" fill="#333">100K</text>
<line x1="113.4" y1="99.2" x2="113.4" y2="100.2" stroke="#555" stroke-width="0.5"/>
<text transform="translate(113.2,104.1) rotate(-45)" font-size="4.1" font-weight="bold" text-anchor="end" fill="#333">150K</text>
<line x1="125.3" y1="99.2" x2="125.3" y2="100.2" stroke="#555" stroke-width="0.5"/>
<text transform="translate(125.1,104.1) rotate(-45)" font-size="4.1" font-weight="bold" text-anchor="end" fill="#333">200K</text>
<line x1="137.1" y1="99.2" x2="137.1" y2="100.2" stroke="#555" stroke-width="0.5"/>
<text transform="translate(136.9,104.1) rotate(-45)" font-size="4.1" font-weight="bold" text-anchor="end" fill="#333">250K</text>
<rect x="175.6" y="43.3" width="61.0" height="55.5" fill="none" stroke="#777" stroke-width="0.7"/>
<path d="M178.3,90.8 V56.1 H197.5 V76.2 H178.3 M186.5,56.1 V90.8 H178.3" fill="none" stroke="#444" stroke-width="0.6"/>
<rect x="195.07" y="61.05" width="1.1" height="1.1" fill="#2233cc"/>
<rect x="187.58" y="61.06" width="1.1" height="1.1" fill="#3050e0"/>
<rect x="191.32" y="60.95" width="1.1" height="1.1" fill="#3050e0"/>
<rect x="191.86" y="59.13" width="1.1" height="1.1" fill="#2233cc"/>
<rect x="191.78" y="59.11" width="1.1" height="1.1" fill="#2233cc"/>
<rect x="193.31" y="60.04" width="1.1" height="1.1" fill="#3050e0"/>
<rect x="191.59" y="60.64" width="1.1" height="1.1" fill="#38a8d8"/>
<rect x="188.09" y="62.95" width="1.1" height="1.1" fill="#3050e0"/>
<rect x="191.65" y="62.23" width="1.1" height="1.1" fill="#3050e0"/>
<rect x="184.34" y="61.62" width="1.1" height="1.1" fill="#2233cc"/>
<rect x="194.22" y="61.89" width="1.1" height="1.1" fill="#2233cc"/>
<rect x="192.90" y="56.55" width="1.1" height="1.1" fill="#2233cc"/>
<rect x="193.22" y="56.61" width="1.1" height="1.1" fill="#2233cc"/>
<rect x="189.64" y="63.29" width="1.1" height="1.1" fill="#3050e0"/>
<rect x="193.25" y="60.59" width="1.1" height="1.1" fill="#2233cc"/>
<rect x="187.12" y="58.46" width="1.1" height="1.1" fill="#3050e0"/>
<rect x="190.81" y="64.64" width="1.1" height="1.1" fill="#2233cc"/>
<rect x="185.64" y="63.08" width="1.1" height="1.1" fill="#2233cc"/>
<rect x="185.55" y="57.71" width="1.1" height="1.1" fill="#2233cc"/>
<rect x="190.49" y="63.35" width="1.1" height="1.1" fill="#3050e0"/>
<rect x="191.70" y="59.84" width="1.1" height="1.1" fill="#3050e0"/>
<rect x="184.99" y="57.21" width="1.1" height="1.1" fill="#2233cc"/>
<rect x="191.38" y="56.91" width="1.1" height="1.1" fill="#2233cc"/>
<rect x="192.40" y="62.74" width="1.1" height="1.1" fill="#3050e0"/>
<rect x="194.17" y="58.32" width="1.1" height="1.1" fill="#2233cc"/>
<rect x="192.19" y="64.63" width="1.1" height="1.1" fill="#2233cc"/>
<rect x="190.66" y="62.20" width="1.1" height="1.1" fill="#3050e0"/>
<rect x="192.29" y="56.15" width="1.1" height="1.1" fill="#2233cc"/>
<rect x="188.27" y="56.81" width="1.1" height="1.1" fill="#2233cc"/>
<rect x="194.06" y="62.21" width="1.1" height="1.1" fill="#2233cc"/>
<rect x="194.65" y="61.23" width="1.1" height="1.1" fill="#2233cc"/>
<rect x="187.92" y="59.84" width="1.1" height="1.1" fill="#3050e0"/>
<rect x="190.57" y="60.33" width="1.1" height="1.1" fill="#3050e0"/>
<rect x="189.98" y="56.49" width="1.1" height="1.1" fill="#2233cc"/>
<rect x="192.17" y="60.67" width="1.1" height="1.1" fill="#3050e0"/>
<rect x="192.06" y="64.38" width="1.1" height="1.1" fill="#2233cc"/>
<rect x="188.12" y="61.49" width="1.1" height="1.1" fill="#3050e0"/>
<rect x="186.43" y="64.03" width="1.1" height="1.1" fill="#2233cc"/>
<rect x="193.92" y="58.73" width="1.1" height="1.1" fill="#2233cc"/>
<rect x="186.79" y="61.58" width="1.1" height="1.1" fill="#3050e0"/>
<rect x="198.31" y="57.77" width="1.1" height="1.1" fill="#2233cc"/>
<rect x="184.84" y="57.69" width="1.1" height="1.1" fill="#2233cc"/>
<rect x="190.22" y="64.83" width="1.1" height="1.1" fill="#2233cc"/>
<rect x="194.21" y="62.50" width="1.1" height="1.1" fill="#2233cc"/>
<rect x="187.49" y="60.38" width="1.1" height="1.1" fill="#3050e0"/>
<rect x="193.23" y="65.91" width="1.1" height="1.1" fill="#2233cc"/>
<rect x="189.74" y="60.74" width="1.1" height="1.1" fill="#3050e0"/>
<rect x="192.53" y="56.96" width="1.1" height="1.1" fill="#2233cc"/>
<rect x="191.75" y="56.24" width="1.1" height="1.1" fill="#2233cc"/>
<rect x="195.59" y="66.61" width="1.1" height="1.1" fill="#2233cc"/>
<rect x="191.89" y="61.21" width="1.1" height="1.1" fill="#3050e0"/>
<rect x="187.82" y="60.12" width="1.1" height="1.1" fill="#3050e0"/>
<rect x="189.21" y="64.91" width="1.1" height="1.1" fill="#2233cc"/>
<rect x="188.17" y="61.89" width="1.1" height="1.1" fill="#3050e0"/>
<rect x="190.77" y="61.22" width="1.1" height="1.1" fill="#3050e0"/>
<rect x="186.56" y="64.87" width="1.1" height="1.1" fill="#2233cc"/>
<rect x="186.24" y="63.61" width="1.1" height="1.1" fill="#2233cc"/>
<rect x="186.71" y="57.18" width="1.1" height="1.1" fill="#2233cc"/>
<rect x="187.74" y="59.14" width="1.1" height="1.1" fill="#3050e0"/>
<rect x="192.30" y="58.62" width="1.1" height="1.1" fill="#2233cc"/>
<rect x="188.75" y="62.87" width="1.1" height="1.1" fill="#2233cc"/>
<rect x="192.69" y="59.24" width="1.1" height="1.1" fill="#2233cc"/>
<rect x="190.04" y="56.84" width="1.1" height="1.1" fill="#2233cc"/>
<rect x="189.70" y="66.56" width="1.1" height="1.1" fill="#2233cc"/>
<rect x="189.92" y="56.46" width="1.1" height="1.1" fill="#2233cc"/>
<rect x="187.72" y="58.20" width="1.1" height="1.1" fill="#3050e0"/>
<rect x="192.16" y="64.79" width="1.1" height="1.1" fill="#2233cc"/>
<rect x="191.86" y="65.01" width="1.1" height="1.1" fill="#2233cc"/>
<rect x="190.48" y="63.24" width="1.1" height="1.1" fill="#3050e0"/>
<rect x="188.38" y="56.99" width="1.1" height="1.1" fill="#3050e0"/>
<rect x="189.39" y="65.42" width="1.1" height="1.1" fill="#2233cc"/>
<rect x="190.79" y="57.51" width="1.1" height="1.1" fill="#2233cc"/>
<rect x="195.39" y="57.46" width="1.1" height="1.1" fill="#2233cc"/>
<rect x="190.31" y="61.52" width="1.1" height="1.1" fill="#3050e0"/>
<rect x="187.53" y="58.92" width="1.1" height="1.1" fill="#3050e0"/>
<rect x="195.80" y="58.75" width="1.1" height="1.1" fill="#2233cc"/>
<rect x="189.59" y="65.09" width="1.1" height="1.1" fill="#2233cc"/>
<rect x="188.87" y="59.27" width="1.1" height="1.1" fill="#3050e0"/>
<rect x="192.24" y="57.14" width="1.1" height="1.1" fill="#2233cc"/>
<rect x="187.16" y="65.21" width="1.1" height="1.1" fill="#2233cc"/>
<rect x="191.01" y="59.83" width="1.1" height="1.1" fill="#3050e0"/>
<rect x="189.34" y="62.62" width="1.1" height="1.1" fill="#3050e0"/>
<rect x="189.74" y="57.15" width="1.1" height="1.1" fill="#3050e0"/>
<rect x="186.51" y="63.94" width="1.1" height="1.1" fill="#2233cc"/>
<rect x="187.14" y="57.09" width="1.1" height="1.1" fill="#2233cc"/>
<rect x="185.90" y="59.41" width="1.1" height="1.1" fill="#2233cc"/>
<rect x="191.16" y="62.36" width="1.1" height="1.1" fill="#3050e0"/>
<rect x="190.93" y="61.82" width="1.1" height="1.1" fill="#3050e0"/>
<rect x="194.29" y="61.98" width="1.1" height="1.1" fill="#2233cc"/>
<rect x="185.40" y="59.23" width="1.1" height="1.1" fill="#2233cc"/>
<rect x="193.02" y="56.95" width="1.1" height="1.1" fill="#2233cc"/>
<rect x="191.71" y="64.60" width="1.1" height="1.1" fill="#2233cc"/>
<rect x="191.13" y="64.91" width="1.1" height="1.1" fill="#2233cc"/>
<rect x="193.86" y="63.96" width="1.1" height="1.1" fill="#2233cc"/>
<rect x="187.84" y="57.35" width="1.1" height="1.1" fill="#3050e0"/>
<rect x="192.61" y="64.40" width="1.1" height="1.1" fill="#2233cc"/>
<rect x="189.18" y="64.16" width="1.1" height="1.1" fill="#2233cc"/>
<rect x="192.57" y="61.23" width="1.1" height="1.1" fill="#2233cc"/>
<rect x="190.14" y="60.06" width="1.1" height="1.1" fill="#38a8d8"/>
<rect x="188.07" y="65.80" width="1.1" height="1.1" fill="#2233cc"/>
<rect x="193.26" y="65.87" width="1.1" height="1.1" fill="#2233cc"/>
<rect x="190.25" y="60.50" width="1.1" height="1.1" fill="#3050e0"/>
<rect x="187.47" y="61.18" width="1.1" height="1.1" fill="#3050e0"/>
<rect x="184.33" y="60.00" width="1.1" height="1.1" fill="#2233cc"/>
<rect x="188.23" y="59.65" width="1.1" height="1.1" fill="#38a8d8"/>
<rect x="186.00" y="60.11" width="1.1" height="1.1" fill="#3050e0"/>
<rect x="198.43" y="61.98" width="1.1" height="1.1" fill="#2233cc"/>
<rect x="189.69" y="61.17" width="1.1" height="1.1" fill="#3050e0"/>
<rect x="188.39" y="60.30" width="1.1" height="1.1" fill="#38a8d8"/>
<rect x="187.62" y="59.39" width="1.1" height="1.1" fill="#3050e0"/>
<rect x="189.75" y="57.71" width="1.1" height="1.1" fill="#3050e0"/>
<rect x="187.99" y="63.88" width="1.1" height="1.1" fill="#2233cc"/>
<rect x="194.45" y="58.42" width="1.1" height="1.1" fill="#2233cc"/>
<rect x="185.87" y="56.22" width="1.1" height="1.1" fill="#2233cc"/>
<rect x="193.58" y="61.87" width="1.1" height="1.1" fill="#2233cc"/>
<rect x="185.36" y="67.99" width="1.1" height="1.1" fill="#2233cc"/>
<rect x="193.06" y="62.26" width="1.1" height="1.1" fill="#2233cc"/>
<rect x="186.95" y="66.16" width="1.1" height="1.1" fill="#2233cc"/>
<rect x="188.74" y="59.39" width="1.1" height="1.1" fill="#38a8d8"/>
<rect x="193.01" y="57.61" width="1.1" height="1.1" fill="#2233cc"/>
<rect x="193.26" y="65.43" width="1.1" height="1.1" fill="#2233cc"/>
<rect x="185.90" y="62.72" width="1.1" height="1.1" fill="#2233cc"/>
<rect x="186.41" y="61.04" width="1.1" height="1.1" fill="#3050e0"/>
<rect x="189.00" y="62.94" width="1.1" height="1.1" fill="#3050e0"/>
<rect x="196.21" y="62.89" width="1.1" height="1.1" fill="#2233cc"/>
<rect x="184.81" y="59.47" width="1.1" height="1.1" fill="#2233cc"/>
<rect x="190.83" y="61.36" width="1.1" height="1.1" fill="#38a8d8"/>
<rect x="187.48" y="62.50" width="1.1" height="1.1" fill="#3050e0"/>
<rect x="188.62" y="59.04" width="1.1" height="1.1" fill="#3050e0"/>
<rect x="186.23" y="60.19" width="1.1" height="1.1" fill="#3050e0"/>
<rect x="195.32" y="59.89" width="1.1" height="1.1" fill="#2233cc"/>
<rect x="190.01" y="61.00" width="1.1" height="1.1" fill="#38a8d8"/>
<rect x="187.20" y="65.54" width="1.1" height="1.1" fill="#2233cc"/>
<rect x="185.38" y="56.19" width="1.1" height="1.1" fill="#2233cc"/>
<rect x="190.31" y="61.40" width="1.1" height="1.1" fill="#38a8d8"/>
<rect x="191.66" y="58.24" width="1.1" height="1.1" fill="#2233cc"/>
<rect x="192.98" y="59.21" width="1.1" height="1.1" fill="#2233cc"/>
<rect x="189.44" y="63.62" width="1.1" height="1.1" fill="#2233cc"/>
<rect x="189.59" y="57.00" width="1.1" height="1.1" fill="#2233cc"/>
<rect x="185.22" y="57.92" width="1.1" height="1.1" fill="#2233cc"/>
<rect x="187.86" y="61.29" width="1.1" height="1.1" fill="#38a8d8"/>
<rect x="189.76" y="63.03" width="1.1" height="1.1" fill="#3050e0"/>
<rect x="186.72" y="59.99" width="1.1" height="1.1" fill="#3050e0"/>
<rect x="195.54" y="66.16" width="1.1" height="1.1" fill="#2233cc"/>
<rect x="187.74" y="62.77" width="1.1" height="1.1" fill="#2233cc"/>
<rect x="189.06" y="61.19" width="1.1" height="1.1" fill="#3050e0"/>
<rect x="191.70" y="64.57" width="1.1" height="1.1" fill="#2233cc"/>
<rect x="191.79" y="61.79" width="1.1" height="1.1" fill="#3050e0"/>
<rect x="188.99" y="59.34" width="1.1" height="1.1" fill="#38a8d8"/>
<rect x="190.68" y="60.56" width="1.1" height="1.1" fill="#38a8d8"/>
<rect x="194.03" y="65.47" width="1.1" height="1.1" fill="#2233cc"/>
<rect x="188.28" y="58.80" width="1.1" height="1.1" fill="#3050e0"/>
<rect x="190.29" y="62.89" width="1.1" height="1.1" fill="#3050e0"/>
<rect x="189.52" y="60.53" width="1.1" height="1.1" fill="#38a8d8"/>
<rect x="192.82" y="65.79" width="1.1" height="1.1" fill="#2233cc"/>
<rect x="185.99" y="61.42" width="1.1" height="1.1" fill="#2233cc"/>
<rect x="184.44" y="61.22" width="1.1" height="1.1" fill="#2233cc"/>
<rect x="189.54" y="60.87" width="1.1" height="1.1" fill="#38a8d8"/>
<rect x="193.99" y="61.12" width="1.1" height="1.1" fill="#2233cc"/>
<rect x="188.05" y="60.43" width="1.1" height="1.1" fill="#3050e0"/>
<rect x="191.40" y="61.92" width="1.1" height="1.1" fill="#3050e0"/>
<rect x="191.84" y="60.63" width="1.1" height="1.1" fill="#3050e0"/>
<rect x="189.16" y="60.89" width="1.1" height="1.1" fill="#38a8d8"/>
<rect x="190.52" y="62.05" width="1.1" height="1.1" fill="#38a8d8"/>
<rect x="197.44" y="62.66" width="1.1" height="1.1" fill="#2233cc"/>
<rect x="188.45" y="66.35" width="1.1" height="1.1" fill="#2233cc"/>
<rect x="194.12" y="58.72" width="1.1" height="1.1" fill="#2233cc"/>
<rect x="186.96" y="61.96" width="1.1" height="1.1" fill="#3050e0"/>
<rect x="186.18" y="61.70" width="1.1" height="1.1" fill="#2233cc"/>
<rect x="191.53" y="59.94" width="1.1" height="1.1" fill="#3050e0"/>
<rect x="185.44" y="61.94" width="1.1" height="1.1" fill="#2233cc"/>
<rect x="187.71" y="61.84" width="1.1" height="1.1" fill="#3050e0"/>
<rect x="191.89" y="59.91" width="1.1" height="1.1" fill="#3050e0"/>
<rect x="191.43" y="58.05" width="1.1" height="1.1" fill="#2233cc"/>
<rect x="196.34" y="62.31" width="1.1" height="1.1" fill="#2233cc"/>
<rect x="189.49" y="59.59" width="1.1" height="1.1" fill="#3050e0"/>
<rect x="187.61" y="59.93" width="1.1" height="1.1" fill="#3050e0"/>
<rect x="197.51" y="68.39" width="1.1" height="1.1" fill="#2233cc"/>
<rect x="189.56" y="59.03" width="1.1" height="1.1" fill="#3050e0"/>
<rect x="196.67" y="60.91" width="1.1" height="1.1" fill="#2233cc"/>
<rect x="186.85" y="65.96" width="1.1" height="1.1" fill="#2233cc"/>
<rect x="190.27" y="60.83" width="1.1" height="1.1" fill="#38a8d8"/>
<rect x="189.81" y="58.71" width="1.1" height="1.1" fill="#3050e0"/>
<rect x="189.29" y="62.46" width="1.1" height="1.1" fill="#3050e0"/>
<rect x="188.40" y="61.79" width="1.1" height="1.1" fill="#3050e0"/>
<rect x="191.28" y="60.31" width="1.1" height="1.1" fill="#3050e0"/>
<rect x="187.46" y="64.05" width="1.1" height="1.1" fill="#2233cc"/>
<rect x="192.08" y="60.56" width="1.1" height="1.1" fill="#3050e0"/>
<rect x="191.93" y="59.38" width="1.1" height="1.1" fill="#3050e0"/>
<rect x="190.85" y="60.42" width="1.1" height="1.1" fill="#38a8d8"/>
<rect x="186.19" y="65.62" width="1.1" height="1.1" fill="#2233cc"/>
<rect x="191.76" y="64.21" width="1.1" height="1.1" fill="#2233cc"/>
<rect x="190.66" y="60.54" width="1.1" height="1.1" fill="#38a8d8"/>
<rect x="191.82" y="59.61" width="1.1" height="1.1" fill="#3050e0"/>
<rect x="191.16" y="60.54" width="1.1" height="1.1" fill="#3050e0"/>
<rect x="189.47" y="57.13" width="1.1" height="1.1" fill="#2233cc"/>
<rect x="191.02" y="59.52" width="1.1" height="1.1" fill="#3050e0"/>
<rect x="194.48" y="57.31" width="1.1" height="1.1" fill="#2233cc"/>
<rect x="193.50" y="66.34" width="1.1" height="1.1" fill="#2233cc"/>
<rect x="189.30" y="60.00" width="1.1" height="1.1" fill="#38a8d8"/>
<rect x="192.40" y="69.80" width="1.0" height="1.0" fill="#2233cc"/>
<rect x="193.75" y="70.89" width="1.0" height="1.0" fill="#2233cc"/>
<rect x="196.19" y="78.61" width="1.0" height="1.0" fill="#2233cc"/>
<rect x="194.27" y="76.73" width="1.0" height="1.0" fill="#2233cc"/>
<rect x="192.80" y="63.83" width="1.0" height="1.0" fill="#2233cc"/>
<rect x="192.05" y="73.22" width="1.0" height="1.0" fill="#2233cc"/>
<rect x="190.18" y="70.14" width="1.0" height="1.0" fill="#2233cc"/>
<rect x="194.13" y="70.97" width="1.0" height="1.0" fill="#2233cc"/>
<rect x="193.50" y="74.03" width="1.0" height="1.0" fill="#2233cc"/>
<rect x="194.53" y="74.84" width="1.0" height="1.0" fill="#2233cc"/>
<rect x="194.58" y="75.58" width="1.0" height="1.0" fill="#2233cc"/>
<rect x="195.71" y="70.00" width="1.0" height="1.0" fill="#2233cc"/>
<rect x="193.84" y="67.15" width="1.0" height="1.0" fill="#2233cc"/>
<rect x="192.18" y="69.73" width="1.0" height="1.0" fill="#2233cc"/>
<rect x="190.71" y="65.36" width="1.0" height="1.0" fill="#2233cc"/>
<rect x="194.34" y="74.45" width="1.0" height="1.0" fill="#2233cc"/>
<rect x="188.34" y="65.56" width="1.0" height="1.0" fill="#2233cc"/>
<rect x="191.96" y="77.67" width="1.0" height="1.0" fill="#2233cc"/>
<rect x="191.28" y="63.26" width="1.0" height="1.0" fill="#2233cc"/>
<rect x="193.83" y="69.55" width="1.0" height="1.0" fill="#2233cc"/>
<rect x="192.35" y="68.54" width="1.0" height="1.0" fill="#2233cc"/>
<rect x="192.49" y="76.11" width="1.0" height="1.0" fill="#2233cc"/>
<rect x="191.84" y="64.01" width="1.0" height="1.0" fill="#2233cc"/>
<rect x="189.80" y="67.23" width="1.0" height="1.0" fill="#2233cc"/>
<rect x="192.15" y="68.52" width="1.0" height="1.0" fill="#2233cc"/>
<rect x="195.50" y="64.33" width="1.0" height="1.0" fill="#2233cc"/>
<rect x="191.31" y="68.14" width="1.0" height="1.0" fill="#2233cc"/>
<rect x="194.92" y="75.28" width="1.0" height="1.0" fill="#2233cc"/>
<rect x="192.00" y="67.75" width="1.0" height="1.0" fill="#3050e0"/>
<rect x="191.69" y="73.09" width="1.0" height="1.0" fill="#2233cc"/>
<rect x="181.37" y="70.11" width="1.1" height="1.1" fill="#d87020"/>
<rect x="182.80" y="62.16" width="1.1" height="1.1" fill="#d87020"/>
<rect x="182.40" y="68.61" width="1.1" height="1.1" fill="#d87020"/>
<rect x="183.59" y="64.54" width="1.1" height="1.1" fill="#78c850"/>
<rect x="182.39" y="73.70" width="1.1" height="1.1" fill="#78c850"/>
<rect x="182.10" y="74.71" width="1.1" height="1.1" fill="#78c850"/>
<rect x="183.49" y="72.15" width="1.1" height="1.1" fill="#3050e0"/>
<rect x="181.43" y="70.17" width="1.1" height="1.1" fill="#e89a30"/>
<rect x="182.68" y="71.26" width="1.1" height="1.1" fill="#d8d038"/>
<rect x="182.75" y="73.09" width="1.1" height="1.1" fill="#78c850"/>
<rect x="182.25" y="64.41" width="1.1" height="1.1" fill="#d87020"/>
<rect x="180.91" y="70.74" width="1.1" height="1.1" fill="#d8d038"/>
<rect x="184.82" y="77.75" width="1.1" height="1.1" fill="#2233cc"/>
<rect x="183.41" y="60.12" width="1.1" height="1.1" fill="#38a8d8"/>
<rect x="180.88" y="68.15" width="1.1" height="1.1" fill="#d8d038"/>
<rect x="182.07" y="76.84" width="1.1" height="1.1" fill="#78c850"/>
<rect x="181.95" y="76.92" width="1.1" height="1.1" fill="#48c0a0"/>
<rect x="180.79" y="66.88" width="1.1" height="1.1" fill="#d8d038"/>
<rect x="182.67" y="79.70" width="1.1" height="1.1" fill="#3050e0"/>
<rect x="181.58" y="71.39" width="1.1" height="1.1" fill="#d87020"/>
<rect x="179.58" y="70.33" width="1.1" height="1.1" fill="#3050e0"/>
<rect x="181.99" y="76.16" width="1.1" height="1.1" fill="#78c850"/>
<rect x="182.14" y="58.56" width="1.1" height="1.1" fill="#78c850"/>
<rect x="178.65" y="73.10" width="1.1" height="1.1" fill="#2233cc"/>
<rect x="181.93" y="68.90" width="1.1" height="1.1" fill="#d87020"/>
<rect x="180.29" y="80.27" width="1.1" height="1.1" fill="#38a8d8"/>
<rect x="181.00" y="69.90" width="1.1" height="1.1" fill="#e89a30"/>
<rect x="180.74" y="65.77" width="1.1" height="1.1" fill="#78c850"/>
<rect x="183.12" y="66.50" width="1.1" height="1.1" fill="#d8d038"/>
<rect x="179.94" y="79.69" width="1.1" height="1.1" fill="#3050e0"/>
<rect x="182.06" y="66.05" width="1.1" height="1.1" fill="#d87020"/>
<rect x="181.20" y="72.84" width="1.1" height="1.1" fill="#e89a30"/>
<rect x="181.74" y="66.55" width="1.1" height="1.1" fill="#d87020"/>
<rect x="182.04" y="79.40" width="1.1" height="1.1" fill="#38a8d8"/>
<rect x="180.94" y="81.21" width="1.1" height="1.1" fill="#38a8d8"/>
<rect x="180.99" y="59.64" width="1.1" height="1.1" fill="#38a8d8"/>
<rect x="180.79" y="77.79" width="1.1" height="1.1" fill="#48c0a0"/>
<rect x="179.57" y="83.41" width="1.1" height="1.1" fill="#3050e0"/>
<rect x="181.75" y="68.19" width="1.1" height="1.1" fill="#d87020"/>
<rect x="179.89" y="73.32" width="1.1" height="1.1" fill="#3050e0"/>
<rect x="184.07" y="71.58" width="1.1" height="1.1" fill="#2233cc"/>
<rect x="180.54" y="67.81" width="1.1" height="1.1" fill="#78c850"/>
<rect x="182.09" y="80.45" width="1.1" height="1.1" fill="#38a8d8"/>
<rect x="180.02" y="70.62" width="1.1" height="1.1" fill="#48c0a0"/>
<rect x="182.69" y="67.03" width="1.1" height="1.1" fill="#e89a30"/>
<rect x="181.79" y="78.85" width="1.1" height="1.1" fill="#78c850"/>
<rect x="182.19" y="79.10" width="1.1" height="1.1" fill="#38a8d8"/>
<rect x="183.97" y="61.21" width="1.1" height="1.1" fill="#48c0a0"/>
<rect x="179.89" y="83.21" width="1.1" height="1.1" fill="#3050e0"/>
<rect x="182.50" y="68.97" width="1.1" height="1.1" fill="#d87020"/>
<rect x="182.68" y="71.07" width="1.1" height="1.1" fill="#d8d038"/>
<rect x="180.98" y="63.01" width="1.1" height="1.1" fill="#78c850"/>
<rect x="179.83" y="83.29" width="1.1" height="1.1" fill="#3050e0"/>
<rect x="180.43" y="59.51" width="1.1" height="1.1" fill="#2233cc"/>
<rect x="182.59" y="75.72" width="1.1" height="1.1" fill="#38a8d8"/>
<rect x="183.03" y="66.06" width="1.1" height="1.1" fill="#e89a30"/>
<rect x="180.71" y="63.37" width="1.1" height="1.1" fill="#48c0a0"/>
<rect x="181.51" y="72.28" width="1.1" height="1.1" fill="#e89a30"/>
<rect x="182.74" y="83.38" width="1.1" height="1.1" fill="#2233cc"/>
<rect x="182.46" y="68.73" width="1.1" height="1.1" fill="#d87020"/>
<rect x="182.90" y="61.12" width="1.1" height="1.1" fill="#e89a30"/>
<rect x="179.77" y="62.71" width="1.1" height="1.1" fill="#3050e0"/>
<rect x="180.99" y="78.62" width="1.1" height="1.1" fill="#48c0a0"/>
<rect x="182.64" y="58.76" width="1.1" height="1.1" fill="#78c850"/>
<rect x="180.80" y="67.30" width="1.1" height="1.1" fill="#d8d038"/>
<rect x="184.48" y="65.12" width="1.1" height="1.1" fill="#3050e0"/>
<rect x="183.70" y="67.17" width="1.1" height="1.1" fill="#48c0a0"/>
<rect x="184.61" y="68.09" width="1.1" height="1.1" fill="#2233cc"/>
<rect x="181.92" y="82.44" width="1.1" height="1.1" fill="#3050e0"/>
<rect x="181.58" y="73.95" width="1.1" height="1.1" fill="#e89a30"/>
<rect x="181.59" y="79.82" width="1.1" height="1.1" fill="#48c0a0"/>
<rect x="181.57" y="80.92" width="1.1" height="1.1" fill="#48c0a0"/>
<rect x="180.14" y="82.45" width="1.1" height="1.1" fill="#3050e0"/>
<rect x="181.14" y="82.19" width="1.1" height="1.1" fill="#38a8d8"/>
<rect x="183.52" y="63.98" width="1.1" height="1.1" fill="#78c850"/>
<rect x="179.08" y="80.33" width="1.1" height="1.1" fill="#2233cc"/>
<rect x="182.48" y="62.79" width="1.1" height="1.1" fill="#d87020"/>
<rect x="183.33" y="63.11" width="1.1" height="1.1" fill="#d8d038"/>
<rect x="182.14" y="61.32" width="1.1" height="1.1" fill="#d87020"/>
<rect x="181.52" y="68.09" width="1.1" height="1.1" fill="#d87020"/>
<rect x="181.52" y="79.10" width="1.1" height="1.1" fill="#48c0a0"/>
<rect x="182.54" y="64.57" width="1.1" height="1.1" fill="#d87020"/>
<rect x="183.49" y="59.32" width="1.1" height="1.1" fill="#48c0a0"/>
<rect x="183.18" y="66.99" width="1.1" height="1.1" fill="#78c850"/>
<rect x="183.86" y="65.19" width="1.1" height="1.1" fill="#48c0a0"/>
<rect x="179.91" y="61.64" width="1.1" height="1.1" fill="#3050e0"/>
<rect x="183.17" y="62.43" width="1.1" height="1.1" fill="#e89a30"/>
<rect x="179.26" y="76.51" width="1.1" height="1.1" fill="#2233cc"/>
<rect x="183.20" y="82.22" width="1.1" height="1.1" fill="#2233cc"/>
<rect x="181.49" y="64.13" width="1.1" height="1.1" fill="#d87020"/>
<rect x="182.33" y="64.97" width="1.1" height="1.1" fill="#d87020"/>
<rect x="181.02" y="73.14" width="1.1" height="1.1" fill="#d8d038"/>
<rect x="182.94" y="63.76" width="1.1" height="1.1" fill="#d87020"/>
<rect x="180.64" y="61.52" width="1.1" height="1.1" fill="#48c0a0"/>
<rect x="181.23" y="77.74" width="1.1" height="1.1" fill="#78c850"/>
<rect x="180.58" y="74.89" width="1.1" height="1.1" fill="#48c0a0"/>
<rect x="181.90" y="60.60" width="1.1" height="1.1" fill="#d87020"/>
<rect x="180.47" y="79.73" width="1.1" height="1.1" fill="#38a8d8"/>
<rect x="183.26" y="72.50" width="1.1" height="1.1" fill="#38a8d8"/>
<rect x="181.61" y="70.96" width="1.1" height="1.1" fill="#e89a30"/>
<rect x="182.65" y="64.11" width="1.1" height="1.1" fill="#d87020"/>
<rect x="181.19" y="76.37" width="1.1" height="1.1" fill="#d8d038"/>
<rect x="182.54" y="77.82" width="1.1" height="1.1" fill="#38a8d8"/>
<rect x="181.87" y="79.98" width="1.1" height="1.1" fill="#38a8d8"/>
<rect x="182.20" y="75.44" width="1.1" height="1.1" fill="#78c850"/>
<rect x="180.29" y="67.24" width="1.1" height="1.1" fill="#48c0a0"/>
<rect x="183.17" y="64.66" width="1.1" height="1.1" fill="#e89a30"/>
<rect x="181.39" y="67.25" width="1.1" height="1.1" fill="#e89a30"/>
<rect x="180.59" y="81.27" width="1.1" height="1.1" fill="#38a8d8"/>
<rect x="181.77" y="76.26" width="1.1" height="1.1" fill="#78c850"/>
<rect x="182.31" y="63.40" width="1.1" height="1.1" fill="#d87020"/>
<rect x="183.07" y="67.97" width="1.1" height="1.1" fill="#d8d038"/>
<rect x="182.52" y="62.94" width="1.1" height="1.1" fill="#d87020"/>
<rect x="181.46" y="72.70" width="1.1" height="1.1" fill="#e89a30"/>
<rect x="180.58" y="75.56" width="1.1" height="1.1" fill="#48c0a0"/>
<rect x="183.69" y="58.47" width="1.1" height="1.1" fill="#38a8d8"/>
<rect x="180.43" y="59.52" width="1.1" height="1.1" fill="#3050e0"/>
<rect x="182.46" y="73.63" width="1.1" height="1.1" fill="#78c850"/>
<rect x="181.59" y="78.24" width="1.1" height="1.1" fill="#48c0a0"/>
<rect x="181.14" y="81.31" width="1.1" height="1.1" fill="#48c0a0"/>
<rect x="181.35" y="68.29" width="1.1" height="1.1" fill="#d87020"/>
<rect x="181.17" y="79.17" width="1.1" height="1.1" fill="#78c850"/>
<rect x="182.45" y="69.05" width="1.1" height="1.1" fill="#d87020"/>
<rect x="181.31" y="75.74" width="1.1" height="1.1" fill="#d8d038"/>
<rect x="179.30" y="69.77" width="1.1" height="1.1" fill="#2233cc"/>
<rect x="180.17" y="75.91" width="1.1" height="1.1" fill="#48c0a0"/>
<rect x="183.02" y="61.64" width="1.1" height="1.1" fill="#d87020"/>
<rect x="181.73" y="59.54" width="1.1" height="1.1" fill="#48c0a0"/>
<rect x="179.61" y="72.11" width="1.1" height="1.1" fill="#3050e0"/>
<rect x="180.68" y="74.39" width="1.1" height="1.1" fill="#48c0a0"/>
<rect x="181.69" y="67.40" width="1.1" height="1.1" fill="#d87020"/>
<rect x="181.94" y="63.49" width="1.1" height="1.1" fill="#d87020"/>
<rect x="182.11" y="75.21" width="1.1" height="1.1" fill="#78c850"/>
<rect x="180.69" y="64.49" width="1.1" height="1.1" fill="#78c850"/>
<rect x="181.84" y="67.24" width="1.1" height="1.1" fill="#d87020"/>
<rect x="182.15" y="80.57" width="1.1" height="1.1" fill="#38a8d8"/>
<rect x="182.49" y="78.83" width="1.1" height="1.1" fill="#38a8d8"/>
<rect x="182.23" y="77.46" width="1.1" height="1.1" fill="#48c0a0"/>
<rect x="183.57" y="69.98" width="1.1" height="1.1" fill="#48c0a0"/>
<rect x="182.01" y="79.23" width="1.1" height="1.1" fill="#38a8d8"/>
<rect x="182.94" y="63.61" width="1.1" height="1.1" fill="#e89a30"/>
<rect x="182.77" y="65.47" width="1.1" height="1.1" fill="#e89a30"/>
<rect x="184.33" y="61.27" width="1.1" height="1.1" fill="#38a8d8"/>
<rect x="181.27" y="70.17" width="1.1" height="1.1" fill="#e89a30"/>
<rect x="183.11" y="58.72" width="1.1" height="1.1" fill="#78c850"/>
<rect x="183.03" y="77.21" width="1.1" height="1.1" fill="#3050e0"/>
<rect x="182.62" y="72.54" width="1.1" height="1.1" fill="#78c850"/>
<rect x="180.97" y="70.67" width="1.1" height="1.1" fill="#d8d038"/>
<rect x="182.85" y="58.66" width="1.1" height="1.1" fill="#78c850"/>
<rect x="179.59" y="74.56" width="1.1" height="1.1" fill="#3050e0"/>
<rect x="179.86" y="64.74" width="1.1" height="1.1" fill="#3050e0"/>
<rect x="184.60" y="61.92" width="1.1" height="1.1" fill="#3050e0"/>
<rect x="182.47" y="65.86" width="1.1" height="1.1" fill="#d87020"/>
<rect x="183.11" y="74.40" width="1.1" height="1.1" fill="#3050e0"/>
<rect x="179.07" y="78.07" width="1.1" height="1.1" fill="#2233cc"/>
<rect x="181.04" y="77.01" width="1.1" height="1.1" fill="#78c850"/>
<rect x="182.79" y="66.45" width="1.1" height="1.1" fill="#e89a30"/>
<rect x="180.14" y="72.23" width="1.1" height="1.1" fill="#38a8d8"/>
<rect x="184.31" y="59.48" width="1.1" height="1.1" fill="#3050e0"/>
<rect x="182.36" y="74.16" width="1.1" height="1.1" fill="#d8d038"/>
<rect x="179.39" y="82.07" width="1.1" height="1.1" fill="#2233cc"/>
<rect x="182.39" y="70.94" width="1.1" height="1.1" fill="#e89a30"/>
<rect x="183.34" y="60.46" width="1.1" height="1.1" fill="#e89a30"/>
<rect x="178.92" y="62.54" width="1.1" height="1.1" fill="#2233cc"/>
<rect x="183.70" y="59.45" width="1.1" height="1.1" fill="#38a8d8"/>
<rect x="182.21" y="63.22" width="1.1" height="1.1" fill="#d87020"/>
<rect x="181.14" y="79.83" width="1.1" height="1.1" fill="#48c0a0"/>
<rect x="181.46" y="69.09" width="1.1" height="1.1" fill="#d87020"/>
<rect x="183.82" y="68.98" width="1.1" height="1.1" fill="#38a8d8"/>
<rect x="180.58" y="69.42" width="1.1" height="1.1" fill="#d8d038"/>
<rect x="180.08" y="62.56" width="1.1" height="1.1" fill="#3050e0"/>
<rect x="180.69" y="69.53" width="1.1" height="1.1" fill="#78c850"/>
<rect x="181.90" y="60.58" width="1.1" height="1.1" fill="#d87020"/>
<rect x="184.73" y="69.96" width="1.1" height="1.1" fill="#2233cc"/>
<rect x="180.58" y="82.81" width="1.1" height="1.1" fill="#38a8d8"/>
<rect x="181.74" y="73.95" width="1.1" height="1.1" fill="#e89a30"/>
<rect x="181.20" y="73.68" width="1.1" height="1.1" fill="#d8d038"/>
<rect x="182.97" y="72.73" width="1.1" height="1.1" fill="#48c0a0"/>
<rect x="181.61" y="65.93" width="1.1" height="1.1" fill="#d87020"/>
<rect x="181.95" y="80.58" width="1.1" height="1.1" fill="#38a8d8"/>
<rect x="181.99" y="69.63" width="1.1" height="1.1" fill="#d87020"/>
<rect x="180.42" y="74.96" width="1.1" height="1.1" fill="#48c0a0"/>
<rect x="182.85" y="71.70" width="1.1" height="1.1" fill="#78c850"/>
<rect x="182.56" y="68.36" width="1.1" height="1.1" fill="#d87020"/>
<rect x="182.19" y="72.15" width="1.1" height="1.1" fill="#d8d038"/>
<rect x="181.20" y="80.00" width="1.1" height="1.1" fill="#48c0a0"/>
<rect x="182.74" y="64.74" width="1.1" height="1.1" fill="#d87020"/>
<rect x="181.91" y="72.30" width="1.1" height="1.1" fill="#e89a30"/>
<rect x="183.48" y="71.28" width="1.1" height="1.1" fill="#38a8d8"/>
<rect x="181.95" y="60.46" width="1.1" height="1.1" fill="#d87020"/>
<rect x="181.47" y="80.04" width="1.1" height="1.1" fill="#48c0a0"/>
<rect x="181.46" y="76.32" width="1.1" height="1.1" fill="#d8d038"/>
<rect x="180.84" y="76.49" width="1.1" height="1.1" fill="#48c0a0"/>
<rect x="180.69" y="79.21" width="1.1" height="1.1" fill="#48c0a0"/>
<rect x="182.13" y="72.53" width="1.1" height="1.1" fill="#e89a30"/>
<rect x="182.38" y="61.87" width="1.1" height="1.1" fill="#d87020"/>
<rect x="181.49" y="67.76" width="1.1" height="1.1" fill="#d87020"/>
<rect x="181.85" y="73.31" width="1.1" height="1.1" fill="#e89a30"/>
<rect x="182.98" y="69.10" width="1.1" height="1.1" fill="#d8d038"/>
<rect x="182.65" y="73.98" width="1.1" height="1.1" fill="#78c850"/>
<rect x="180.09" y="80.22" width="1.1" height="1.1" fill="#3050e0"/>
<rect x="180.28" y="77.09" width="1.1" height="1.1" fill="#48c0a0"/>
<rect x="182.98" y="79.09" width="1.1" height="1.1" fill="#2233cc"/>
<rect x="181.69" y="67.78" width="1.1" height="1.1" fill="#d87020"/>
<rect x="179.17" y="59.54" width="1.1" height="1.1" fill="#2233cc"/>
<rect x="180.04" y="60.94" width="1.1" height="1.1" fill="#3050e0"/>
<rect x="180.47" y="81.58" width="1.1" height="1.1" fill="#38a8d8"/>
<rect x="182.64" y="64.82" width="1.1" height="1.1" fill="#d87020"/>
<rect x="182.86" y="72.98" width="1.1" height="1.1" fill="#48c0a0"/>
<rect x="184.34" y="58.97" width="1.1" height="1.1" fill="#3050e0"/>
<rect x="183.06" y="72.31" width="1.1" height="1.1" fill="#38a8d8"/>
<rect x="180.99" y="75.63" width="1.1" height="1.1" fill="#d8d038"/>
<rect x="182.16" y="71.91" width="1.1" height="1.1" fill="#e89a30"/>
<rect x="181.49" y="78.65" width="1.1" height="1.1" fill="#48c0a0"/>
<rect x="182.21" y="62.22" width="1.1" height="1.1" fill="#d87020"/>
<rect x="181.30" y="80.28" width="1.1" height="1.1" fill="#48c0a0"/>
<rect x="180.98" y="78.91" width="1.1" height="1.1" fill="#48c0a0"/>
<rect x="181.14" y="68.26" width="1.1" height="1.1" fill="#d87020"/>
<rect x="182.04" y="68.29" width="1.1" height="1.1" fill="#d87020"/>
<rect x="182.55" y="73.72" width="1.1" height="1.1" fill="#48c0a0"/>
<rect x="181.66" y="80.80" width="1.1" height="1.1" fill="#38a8d8"/>
<rect x="183.06" y="59.54" width="1.1" height="1.1" fill="#48c0a0"/>
<rect x="182.64" y="72.88" width="1.1" height="1.1" fill="#78c850"/>
<rect x="183.75" y="67.29" width="1.1" height="1.1" fill="#38a8d8"/>
<rect x="182.55" y="58.96" width="1.1" height="1.1" fill="#78c850"/>
<rect x="181.68" y="83.11" width="1.1" height="1.1" fill="#38a8d8"/>
<rect x="182.31" y="65.27" width="1.1" height="1.1" fill="#d87020"/>
<rect x="181.63" y="70.95" width="1.1" height="1.1" fill="#d87020"/>
<rect x="182.63" y="82.37" width="1.1" height="1.1" fill="#3050e0"/>
<rect x="180.31" y="59.30" width="1.1" height="1.1" fill="#3050e0"/>
<rect x="180.58" y="77.81" width="1.1" height="1.1" fill="#48c0a0"/>
<rect x="180.92" y="74.32" width="1.1" height="1.1" fill="#d8d038"/>
<rect x="181.94" y="80.27" width="1.1" height="1.1" fill="#48c0a0"/>
<rect x="180.81" y="75.48" width="1.1" height="1.1" fill="#78c850"/>
<rect x="183.91" y="71.17" width="1.1" height="1.1" fill="#3050e0"/>
<rect x="180.68" y="67.21" width="1.1" height="1.1" fill="#78c850"/>
<rect x="181.57" y="66.88" width="1.1" height="1.1" fill="#d87020"/>
<rect x="179.89" y="83.16" width="1.1" height="1.1" fill="#3050e0"/>
<rect x="182.31" y="64.32" width="1.1" height="1.1" fill="#d87020"/>
<rect x="185.04" y="61.84" width="1.1" height="1.1" fill="#2233cc"/>
<rect x="181.97" y="69.59" width="1.1" height="1.1" fill="#d87020"/>
<rect x="182.30" y="66.01" width="1.1" height="1.1" fill="#d87020"/>
<rect x="182.48" y="66.16" width="1.1" height="1.1" fill="#d87020"/>
<rect x="182.69" y="72.23" width="1.1" height="1.1" fill="#78c850"/>
<rect x="181.22" y="73.03" width="1.1" height="1.1" fill="#d8d038"/>
<rect x="178.75" y="62.92" width="1.1" height="1.1" fill="#2233cc"/>
<rect x="179.63" y="77.81" width="1.1" height="1.1" fill="#3050e0"/>
<rect x="182.47" y="80.16" width="1.1" height="1.1" fill="#38a8d8"/>
<rect x="182.74" y="65.35" width="1.1" height="1.1" fill="#e89a30"/>
<rect x="183.02" y="59.03" width="1.1" height="1.1" fill="#78c850"/>
<rect x="183.10" y="63.91" width="1.1" height="1.1" fill="#e89a30"/>
<rect x="180.06" y="63.46" width="1.1" height="1.1" fill="#3050e0"/>
<rect x="180.59" y="63.37" width="1.1" height="1.1" fill="#48c0a0"/>
<rect x="180.67" y="82.53" width="1.1" height="1.1" fill="#38a8d8"/>
<rect x="180.91" y="80.34" width="1.1" height="1.1" fill="#48c0a0"/>
<rect x="182.94" y="61.87" width="1.1" height="1.1" fill="#d87020"/>
<rect x="182.93" y="74.45" width="1.1" height="1.1" fill="#48c0a0"/>
<rect x="181.15" y="63.76" width="1.1" height="1.1" fill="#e89a30"/>
<rect x="183.89" y="68.58" width="1.1" height="1.1" fill="#38a8d8"/>
<rect x="183.31" y="66.89" width="1.1" height="1.1" fill="#78c850"/>
<rect x="182.01" y="74.11" width="1.1" height="1.1" fill="#d8d038"/>
<rect x="180.92" y="70.81" width="1.1" height="1.1" fill="#d8d038"/>
<rect x="181.89" y="58.79" width="1.1" height="1.1" fill="#78c850"/>
<rect x="182.07" y="72.55" width="1.1" height="1.1" fill="#e89a30"/>
<rect x="181.39" y="76.55" width="1.1" height="1.1" fill="#78c850"/>
<rect x="182.79" y="60.79" width="1.1" height="1.1" fill="#d87020"/>
<rect x="183.00" y="60.70" width="1.1" height="1.1" fill="#d87020"/>
<rect x="180.13" y="69.03" width="1.1" height="1.1" fill="#48c0a0"/>
<rect x="181.14" y="74.88" width="1.1" height="1.1" fill="#d8d038"/>
<rect x="181.96" y="66.72" width="1.1" height="1.1" fill="#d87020"/>
<rect x="180.44" y="77.53" width="1.1" height="1.1" fill="#48c0a0"/>
<rect x="182.57" y="66.18" width="1.1" height="1.1" fill="#d87020"/>
<rect x="178.65" y="65.41" width="1.1" height="1.1" fill="#2233cc"/>
<rect x="181.21" y="81.97" width="1.1" height="1.1" fill="#38a8d8"/>
<rect x="181.65" y="74.83" width="1.1" height="1.1" fill="#d8d038"/>
<rect x="182.94" y="67.51" width="1.1" height="1.1" fill="#e89a30"/>
<rect x="182.31" y="60.70" width="1.1" height="1.1" fill="#d87020"/>
<rect x="183.79" y="61.80" width="1.1" height="1.1" fill="#78c850"/>
<rect x="182.83" y="63.00" width="1.1" height="1.1" fill="#d87020"/>
<rect x="182.46" y="67.59" width="1.1" height="1.1" fill="#d87020"/>
<rect x="181.73" y="81.49" width="1.1" height="1.1" fill="#38a8d8"/>
<rect x="182.64" y="59.18" width="1.1" height="1.1" fill="#d8d038"/>
<rect x="180.77" y="70.92" width="1.1" height="1.1" fill="#d8d038"/>
<rect x="182.46" y="67.06" width="1.1" height="1.1" fill="#d87020"/>
<rect x="179.89" y="81.04" width="1.1" height="1.1" fill="#3050e0"/>
<rect x="182.99" y="76.78" width="1.1" height="1.1" fill="#3050e0"/>
<rect x="181.90" y="80.05" width="1.1" height="1.1" fill="#38a8d8"/>
<rect x="179.39" y="72.56" width="1.1" height="1.1" fill="#3050e0"/>
<rect x="183.01" y="74.13" width="1.1" height="1.1" fill="#38a8d8"/>
<rect x="182.02" y="64.75" width="1.1" height="1.1" fill="#d87020"/>
<rect x="183.64" y="63.53" width="1.1" height="1.1" fill="#78c850"/>
<rect x="180.39" y="74.52" width="1.1" height="1.1" fill="#48c0a0"/>
<rect x="185.34" y="72.69" width="1.1" height="1.1" fill="#2233cc"/>
<rect x="181.86" y="80.03" width="1.1" height="1.1" fill="#48c0a0"/>
<rect x="180.58" y="79.02" width="1.1" height="1.1" fill="#38a8d8"/>
<rect x="179.18" y="66.74" width="1.1" height="1.1" fill="#2233cc"/>
<rect x="181.71" y="75.52" width="1.1" height="1.1" fill="#d8d038"/>
<rect x="179.37" y="69.78" width="1.1" height="1.1" fill="#2233cc"/>
<rect x="180.00" y="80.54" width="1.1" height="1.1" fill="#3050e0"/>
<rect x="181.84" y="77.95" width="1.1" height="1.1" fill="#78c850"/>
<rect x="180.44" y="83.32" width="1.1" height="1.1" fill="#3050e0"/>
<rect x="185.27" y="59.06" width="1.1" height="1.1" fill="#2233cc"/>
<rect x="183.24" y="81.24" width="1.1" height="1.1" fill="#2233cc"/>
<rect x="182.00" y="76.85" width="1.1" height="1.1" fill="#78c850"/>
<rect x="182.85" y="60.71" width="1.1" height="1.1" fill="#d87020"/>
<rect x="180.61" y="81.41" width="1.1" height="1.1" fill="#48c0a0"/>
<rect x="179.73" y="59.27" width="1.1" height="1.1" fill="#2233cc"/>
<rect x="181.20" y="78.25" width="1.1" height="1.1" fill="#78c850"/>
<rect x="181.81" y="64.24" width="1.1" height="1.1" fill="#d87020"/>
<rect x="185.85" y="61.07" width="1.1" height="1.1" fill="#2233cc"/>
<rect x="181.65" y="80.41" width="1.1" height="1.1" fill="#38a8d8"/>
<rect x="182.72" y="70.63" width="1.1" height="1.1" fill="#d8d038"/>
<rect x="182.44" y="75.58" width="1.1" height="1.1" fill="#48c0a0"/>
<rect x="180.82" y="76.91" width="1.1" height="1.1" fill="#48c0a0"/>
<rect x="181.76" y="70.86" width="1.1" height="1.1" fill="#d87020"/>
<rect x="182.75" y="67.19" width="1.1" height="1.1" fill="#d87020"/>
<rect x="184.48" y="76.73" width="1.1" height="1.1" fill="#2233cc"/>
<rect x="182.20" y="62.88" width="1.1" height="1.1" fill="#d87020"/>
<rect x="182.25" y="71.17" width="1.1" height="1.1" fill="#e89a30"/>
<rect x="181.56" y="72.37" width="1.1" height="1.1" fill="#e89a30"/>
<rect x="181.66" y="74.78" width="1.1" height="1.1" fill="#d8d038"/>
<rect x="180.44" y="72.17" width="1.1" height="1.1" fill="#48c0a0"/>
<rect x="178.65" y="76.39" width="1.1" height="1.1" fill="#2233cc"/>
<rect x="178.86" y="66.41" width="1.1" height="1.1" fill="#2233cc"/>
<rect x="183.70" y="68.09" width="1.1" height="1.1" fill="#38a8d8"/>
<rect x="182.43" y="62.03" width="1.1" height="1.1" fill="#d87020"/>
<rect x="181.12" y="81.61" width="1.1" height="1.1" fill="#38a8d8"/>
<rect x="180.96" y="73.72" width="1.1" height="1.1" fill="#78c850"/>
<rect x="183.04" y="61.35" width="1.1" height="1.1" fill="#d87020"/>
<rect x="181.66" y="78.05" width="1.1" height="1.1" fill="#78c850"/>
<rect x="181.79" y="66.56" width="1.1" height="1.1" fill="#d87020"/>
<rect x="180.40" y="72.17" width="1.1" height="1.1" fill="#38a8d8"/>
<rect x="184.33" y="77.11" width="1.1" height="1.1" fill="#2233cc"/>
<rect x="178.65" y="71.20" width="1.1" height="1.1" fill="#2233cc"/>
<rect x="179.44" y="74.19" width="1.1" height="1.1" fill="#3050e0"/>
<rect x="181.62" y="67.92" width="1.1" height="1.1" fill="#d87020"/>
<rect x="180.42" y="73.77" width="1.1" height="1.1" fill="#48c0a0"/>
<rect x="180.86" y="66.50" width="1.1" height="1.1" fill="#d8d038"/>
<rect x="180.50" y="73.76" width="1.1" height="1.1" fill="#48c0a0"/>
<rect x="179.25" y="81.17" width="1.1" height="1.1" fill="#2233cc"/>
<rect x="182.16" y="70.37" width="1.1" height="1.1" fill="#e89a30"/>
<rect x="183.78" y="62.00" width="1.1" height="1.1" fill="#78c850"/>
<rect x="181.07" y="71.64" width="1.1" height="1.1" fill="#e89a30"/>
<rect x="183.33" y="64.42" width="1.1" height="1.1" fill="#d8d038"/>
<rect x="183.52" y="74.46" width="1.1" height="1.1" fill="#3050e0"/>
<rect x="181.41" y="80.80" width="1.1" height="1.1" fill="#48c0a0"/>
<rect x="181.00" y="79.25" width="1.1" height="1.1" fill="#48c0a0"/>
<rect x="182.91" y="61.53" width="1.1" height="1.1" fill="#e89a30"/>
<rect x="182.82" y="67.37" width="1.1" height="1.1" fill="#e89a30"/>
<rect x="181.24" y="71.48" width="1.1" height="1.1" fill="#e89a30"/>
<rect x="181.17" y="83.37" width="1.1" height="1.1" fill="#38a8d8"/>
<rect x="179.44" y="69.68" width="1.1" height="1.1" fill="#3050e0"/>
<rect x="182.61" y="62.20" width="1.1" height="1.1" fill="#d87020"/>
<rect x="180.97" y="67.62" width="1.1" height="1.1" fill="#d8d038"/>
<rect x="181.87" y="66.95" width="1.1" height="1.1" fill="#d87020"/>
<rect x="183.02" y="58.89" width="1.1" height="1.1" fill="#48c0a0"/>
<rect x="183.91" y="62.91" width="1.1" height="1.1" fill="#48c0a0"/>
<rect x="181.65" y="65.31" width="1.1" height="1.1" fill="#d87020"/>
<rect x="183.27" y="60.73" width="1.1" height="1.1" fill="#e89a30"/>
<rect x="181.60" y="79.92" width="1.1" height="1.1" fill="#48c0a0"/>
<rect x="182.78" y="73.90" width="1.1" height="1.1" fill="#48c0a0"/>
<rect x="181.24" y="59.55" width="1.1" height="1.1" fill="#48c0a0"/>
<rect x="182.52" y="65.83" width="1.1" height="1.1" fill="#d87020"/>
<rect x="181.95" y="74.65" width="1.1" height="1.1" fill="#d8d038"/>
<rect x="180.60" y="72.92" width="1.1" height="1.1" fill="#78c850"/>
<rect x="184.32" y="63.24" width="1.1" height="1.1" fill="#3050e0"/>
<rect x="181.17" y="75.09" width="1.1" height="1.1" fill="#d8d038"/>
<rect x="182.45" y="60.22" width="1.1" height="1.1" fill="#78c850"/>
<rect x="180.45" y="70.86" width="1.1" height="1.1" fill="#78c850"/>
<rect x="182.96" y="77.38" width="1.1" height="1.1" fill="#3050e0"/>
<rect x="182.11" y="70.00" width="1.1" height="1.1" fill="#d87020"/>
<rect x="179.09" y="68.82" width="1.1" height="1.1" fill="#2233cc"/>
<rect x="182.24" y="70.73" width="1.1" height="1.1" fill="#e89a30"/>
<rect x="180.33" y="79.07" width="1.1" height="1.1" fill="#38a8d8"/>
<rect x="180.50" y="59.46" width="1.1" height="1.1" fill="#3050e0"/>
<rect x="181.93" y="72.30" width="1.1" height="1.1" fill="#e89a30"/>
<rect x="179.88" y="63.97" width="1.1" height="1.1" fill="#3050e0"/>
<rect x="181.70" y="78.89" width="1.1" height="1.1" fill="#48c0a0"/>
<rect x="181.97" y="72.56" width="1.1" height="1.1" fill="#d8d038"/>
<rect x="181.15" y="75.47" width="1.1" height="1.1" fill="#78c850"/>
<rect x="180.45" y="87.60" width="1.1" height="1.1" fill="#2233cc"/>
<rect x="183.11" y="86.95" width="1.1" height="1.1" fill="#2233cc"/>
<rect x="181.43" y="84.32" width="1.1" height="1.1" fill="#3050e0"/>
<rect x="184.14" y="86.56" width="1.1" height="1.1" fill="#2233cc"/>
<rect x="181.55" y="85.02" width="1.1" height="1.1" fill="#3050e0"/>
<rect x="182.17" y="84.98" width="1.1" height="1.1" fill="#3050e0"/>
<rect x="180.56" y="85.97" width="1.1" height="1.1" fill="#2233cc"/>
<rect x="182.53" y="85.28" width="1.1" height="1.1" fill="#2233cc"/>
<rect x="180.25" y="84.99" width="1.1" height="1.1" fill="#2233cc"/>
<rect x="180.60" y="83.76" width="1.1" height="1.1" fill="#3050e0"/>
<rect x="181.25" y="86.38" width="1.1" height="1.1" fill="#3050e0"/>
<rect x="181.64" y="85.64" width="1.1" height="1.1" fill="#3050e0"/>
<rect x="180.88" y="86.79" width="1.1" height="1.1" fill="#2233cc"/>
<rect x="180.55" y="85.34" width="1.1" height="1.1" fill="#2233cc"/>
<text x="177.4" y="50.1" font-size="4.4" text-anchor="start" fill="#111" stroke="#111" stroke-width="0.2">g3</text>
<text x="197.7" y="64.3" font-size="4.9" text-anchor="start" fill="#111" stroke="#111" stroke-width="0.15">g2 s m</text>
<text x="179.4" y="95.1" font-size="4.6" text-anchor="start" fill="#111" stroke="#111" stroke-width="0.15">g0</text>
<line x1="174.0" y1="48.7" x2="175.6" y2="48.7" stroke="#333" stroke-width="0.6"/>
<text x="172.2" y="50.2" font-size="4.2" font-weight="bold" text-anchor="end" fill="#333" >10<tspan font-size="3.0" dy="-1.7">5</tspan></text>
<line x1="174.0" y1="59.8" x2="175.6" y2="59.8" stroke="#333" stroke-width="0.6"/>
<text x="172.2" y="61.3" font-size="4.2" font-weight="bold" text-anchor="end" fill="#333" >10<tspan font-size="3.0" dy="-1.7">4</tspan></text>
<line x1="174.0" y1="71.4" x2="175.6" y2="71.4" stroke="#333" stroke-width="0.6"/>
<text x="172.2" y="72.9" font-size="4.2" font-weight="bold" text-anchor="end" fill="#333" >10<tspan font-size="3.0" dy="-1.7">3</tspan></text>
<line x1="174.0" y1="87.5" x2="175.6" y2="87.5" stroke="#333" stroke-width="0.6"/>
<text x="171.6" y="89.0" font-size="4.2" font-weight="bold" text-anchor="end" fill="#333" >0</text>
<rect x="173.79999999999998" y="86.0" width="1.4" height="3" fill="#111"/>
<line x1="175.9" y1="98.8" x2="175.9" y2="99.8" stroke="#555" stroke-width="0.5"/>
<text transform="translate(177.5,104.2) rotate(-45)" font-size="4.1" font-weight="bold" text-anchor="end" fill="#333">0</text>
<line x1="187.5" y1="98.8" x2="187.5" y2="99.8" stroke="#555" stroke-width="0.5"/>
<text transform="translate(187.3,103.7) rotate(-45)" font-size="4.1" font-weight="bold" text-anchor="end" fill="#333">50K</text>
<line x1="199.2" y1="98.8" x2="199.2" y2="99.8" stroke="#555" stroke-width="0.5"/>
<text transform="translate(199.0,103.7) rotate(-45)" font-size="4.1" font-weight="bold" text-anchor="end" fill="#333">100K</text>
<line x1="210.8" y1="98.8" x2="210.8" y2="99.8" stroke="#555" stroke-width="0.5"/>
<text transform="translate(210.6,103.7) rotate(-45)" font-size="4.1" font-weight="bold" text-anchor="end" fill="#333">150K</text>
<line x1="222.4" y1="98.8" x2="222.4" y2="99.8" stroke="#555" stroke-width="0.5"/>
<text transform="translate(222.2,103.7) rotate(-45)" font-size="4.1" font-weight="bold" text-anchor="end" fill="#333">200K</text>
<line x1="234.1" y1="98.8" x2="234.1" y2="99.8" stroke="#555" stroke-width="0.5"/>
<text transform="translate(233.9,103.7) rotate(-45)" font-size="4.1" font-weight="bold" text-anchor="end" fill="#333">250K</text>
<rect x="274.3" y="42.6" width="62.39999999999998" height="56.199999999999996" fill="none" stroke="#777" stroke-width="0.7"/>
<path d="M276.3,91 V56.1 H294 V76.7 H276.3 M283.5,56.1 V91 H276.3" fill="none" stroke="#444" stroke-width="0.6"/>
<rect x="286.40" y="63.74" width="1.1" height="1.1" fill="#38a8d8"/>
<rect x="288.81" y="60.20" width="1.1" height="1.1" fill="#3050e0"/>
<rect x="285.38" y="68.91" width="1.1" height="1.1" fill="#3050e0"/>
<rect x="285.83" y="68.29" width="1.1" height="1.1" fill="#3050e0"/>
<rect x="287.93" y="67.80" width="1.1" height="1.1" fill="#2233cc"/>
<rect x="288.52" y="60.30" width="1.1" height="1.1" fill="#3050e0"/>
<rect x="286.02" y="60.67" width="1.1" height="1.1" fill="#2233cc"/>
<rect x="285.20" y="64.52" width="1.1" height="1.1" fill="#3050e0"/>
<rect x="283.49" y="70.12" width="1.1" height="1.1" fill="#2233cc"/>
<rect x="291.77" y="58.77" width="1.1" height="1.1" fill="#2233cc"/>
<rect x="286.08" y="69.18" width="1.1" height="1.1" fill="#2233cc"/>
<rect x="289.52" y="56.84" width="1.1" height="1.1" fill="#2233cc"/>
<rect x="288.90" y="64.68" width="1.1" height="1.1" fill="#2233cc"/>
<rect x="284.74" y="71.06" width="1.1" height="1.1" fill="#2233cc"/>
<rect x="288.35" y="63.16" width="1.1" height="1.1" fill="#3050e0"/>
<rect x="285.09" y="64.48" width="1.1" height="1.1" fill="#3050e0"/>
<rect x="285.83" y="68.99" width="1.1" height="1.1" fill="#2233cc"/>
<rect x="291.67" y="58.13" width="1.1" height="1.1" fill="#2233cc"/>
<rect x="285.70" y="68.45" width="1.1" height="1.1" fill="#2233cc"/>
<rect x="286.63" y="61.53" width="1.1" height="1.1" fill="#2233cc"/>
<rect x="289.50" y="59.17" width="1.1" height="1.1" fill="#2233cc"/>
<rect x="286.62" y="64.01" width="1.1" height="1.1" fill="#38a8d8"/>
<rect x="284.22" y="71.72" width="1.1" height="1.1" fill="#2233cc"/>
<rect x="290.16" y="67.55" width="1.1" height="1.1" fill="#2233cc"/>
<rect x="286.60" y="61.80" width="1.1" height="1.1" fill="#3050e0"/>
<rect x="290.49" y="60.05" width="1.1" height="1.1" fill="#2233cc"/>
<rect x="286.46" y="67.09" width="1.1" height="1.1" fill="#3050e0"/>
<rect x="284.30" y="68.98" width="1.1" height="1.1" fill="#2233cc"/>
<rect x="287.70" y="67.06" width="1.1" height="1.1" fill="#2233cc"/>
<rect x="283.82" y="69.01" width="1.1" height="1.1" fill="#2233cc"/>
<rect x="286.65" y="66.86" width="1.1" height="1.1" fill="#3050e0"/>
<rect x="286.46" y="64.15" width="1.1" height="1.1" fill="#3050e0"/>
<rect x="286.26" y="62.95" width="1.1" height="1.1" fill="#3050e0"/>
<rect x="287.56" y="65.19" width="1.1" height="1.1" fill="#3050e0"/>
<rect x="291.08" y="61.31" width="1.1" height="1.1" fill="#2233cc"/>
<rect x="288.36" y="57.35" width="1.1" height="1.1" fill="#2233cc"/>
<rect x="285.49" y="65.31" width="1.1" height="1.1" fill="#3050e0"/>
<rect x="287.11" y="66.98" width="1.1" height="1.1" fill="#2233cc"/>
<rect x="289.10" y="58.63" width="1.1" height="1.1" fill="#2233cc"/>
<rect x="285.81" y="64.71" width="1.1" height="1.1" fill="#3050e0"/>
<rect x="285.62" y="68.14" width="1.1" height="1.1" fill="#3050e0"/>
<rect x="286.11" y="67.35" width="1.1" height="1.1" fill="#3050e0"/>
<rect x="284.83" y="71.67" width="1.1" height="1.1" fill="#2233cc"/>
<rect x="289.93" y="56.32" width="1.1" height="1.1" fill="#2233cc"/>
<rect x="287.03" y="62.22" width="1.1" height="1.1" fill="#3050e0"/>
<rect x="287.26" y="60.87" width="1.1" height="1.1" fill="#2233cc"/>
<rect x="286.84" y="62.57" width="1.1" height="1.1" fill="#3050e0"/>
<rect x="287.95" y="62.89" width="1.1" height="1.1" fill="#3050e0"/>
<rect x="292.21" y="56.88" width="1.1" height="1.1" fill="#2233cc"/>
<rect x="286.66" y="59.49" width="1.1" height="1.1" fill="#2233cc"/>
<rect x="287.29" y="62.73" width="1.1" height="1.1" fill="#38a8d8"/>
<rect x="285.21" y="67.64" width="1.1" height="1.1" fill="#3050e0"/>
<rect x="288.62" y="58.97" width="1.1" height="1.1" fill="#2233cc"/>
<rect x="288.90" y="62.08" width="1.1" height="1.1" fill="#3050e0"/>
<rect x="286.26" y="65.31" width="1.1" height="1.1" fill="#38a8d8"/>
<rect x="290.43" y="58.78" width="1.1" height="1.1" fill="#2233cc"/>
<rect x="286.05" y="58.83" width="1.1" height="1.1" fill="#2233cc"/>
<rect x="284.25" y="68.77" width="1.1" height="1.1" fill="#3050e0"/>
<rect x="284.76" y="61.01" width="1.1" height="1.1" fill="#2233cc"/>
<rect x="288.34" y="64.63" width="1.1" height="1.1" fill="#2233cc"/>
<rect x="285.97" y="67.10" width="1.1" height="1.1" fill="#3050e0"/>
<rect x="287.97" y="61.82" width="1.1" height="1.1" fill="#3050e0"/>
<rect x="285.61" y="67.02" width="1.1" height="1.1" fill="#3050e0"/>
<rect x="288.28" y="58.39" width="1.1" height="1.1" fill="#2233cc"/>
<rect x="293.15" y="55.99" width="1.1" height="1.1" fill="#2233cc"/>
<rect x="284.08" y="69.12" width="1.1" height="1.1" fill="#3050e0"/>
<rect x="285.64" y="62.03" width="1.1" height="1.1" fill="#2233cc"/>
<rect x="283.39" y="72.66" width="1.1" height="1.1" fill="#2233cc"/>
<rect x="289.22" y="64.50" width="1.1" height="1.1" fill="#2233cc"/>
<rect x="285.55" y="69.00" width="1.1" height="1.1" fill="#3050e0"/>
<rect x="283.66" y="63.87" width="1.1" height="1.1" fill="#2233cc"/>
<rect x="288.87" y="62.83" width="1.1" height="1.1" fill="#3050e0"/>
<rect x="285.36" y="59.66" width="1.1" height="1.1" fill="#2233cc"/>
<rect x="285.71" y="70.47" width="1.1" height="1.1" fill="#2233cc"/>
<rect x="286.05" y="66.28" width="1.1" height="1.1" fill="#3050e0"/>
<rect x="285.34" y="64.26" width="1.1" height="1.1" fill="#3050e0"/>
<rect x="287.45" y="66.76" width="1.1" height="1.1" fill="#2233cc"/>
<rect x="284.79" y="63.24" width="1.1" height="1.1" fill="#2233cc"/>
<rect x="289.81" y="57.21" width="1.1" height="1.1" fill="#2233cc"/>
<rect x="287.57" y="60.06" width="1.1" height="1.1" fill="#2233cc"/>
<rect x="284.17" y="67.95" width="1.1" height="1.1" fill="#2233cc"/>
<rect x="286.71" y="65.62" width="1.1" height="1.1" fill="#38a8d8"/>
<rect x="287.08" y="60.49" width="1.1" height="1.1" fill="#2233cc"/>
<rect x="288.68" y="60.52" width="1.1" height="1.1" fill="#3050e0"/>
<rect x="288.50" y="63.90" width="1.1" height="1.1" fill="#2233cc"/>
<rect x="283.96" y="70.06" width="1.1" height="1.1" fill="#2233cc"/>
<rect x="288.04" y="58.62" width="1.1" height="1.1" fill="#2233cc"/>
<rect x="288.31" y="65.06" width="1.1" height="1.1" fill="#2233cc"/>
<rect x="289.66" y="60.89" width="1.1" height="1.1" fill="#2233cc"/>
<rect x="285.46" y="68.58" width="1.1" height="1.1" fill="#2233cc"/>
<rect x="286.30" y="67.78" width="1.1" height="1.1" fill="#3050e0"/>
<rect x="284.67" y="64.62" width="1.1" height="1.1" fill="#3050e0"/>
<rect x="286.62" y="66.35" width="1.1" height="1.1" fill="#3050e0"/>
<rect x="291.50" y="57.44" width="1.1" height="1.1" fill="#2233cc"/>
<rect x="286.94" y="66.83" width="1.1" height="1.1" fill="#3050e0"/>
<rect x="285.98" y="65.31" width="1.1" height="1.1" fill="#3050e0"/>
<rect x="285.27" y="63.66" width="1.1" height="1.1" fill="#3050e0"/>
<rect x="286.73" y="67.47" width="1.1" height="1.1" fill="#2233cc"/>
<rect x="284.57" y="65.20" width="1.1" height="1.1" fill="#3050e0"/>
<rect x="284.97" y="64.13" width="1.1" height="1.1" fill="#2233cc"/>
<rect x="289.87" y="57.43" width="1.1" height="1.1" fill="#2233cc"/>
<rect x="289.17" y="63.51" width="1.1" height="1.1" fill="#2233cc"/>
<rect x="285.27" y="67.26" width="1.1" height="1.1" fill="#3050e0"/>
<rect x="286.82" y="62.71" width="1.1" height="1.1" fill="#3050e0"/>
<rect x="283.92" y="68.28" width="1.1" height="1.1" fill="#3050e0"/>
<rect x="286.25" y="64.25" width="1.1" height="1.1" fill="#38a8d8"/>
<rect x="288.21" y="63.37" width="1.1" height="1.1" fill="#3050e0"/>
<rect x="286.03" y="64.49" width="1.1" height="1.1" fill="#3050e0"/>
<rect x="286.58" y="64.41" width="1.1" height="1.1" fill="#3050e0"/>
<rect x="283.23" y="69.40" width="1.1" height="1.1" fill="#2233cc"/>
<rect x="284.80" y="60.29" width="1.1" height="1.1" fill="#2233cc"/>
<rect x="290.39" y="60.49" width="1.1" height="1.1" fill="#2233cc"/>
<rect x="283.27" y="73.38" width="1.1" height="1.1" fill="#2233cc"/>
<rect x="286.01" y="65.00" width="1.1" height="1.1" fill="#38a8d8"/>
<rect x="288.47" y="64.05" width="1.1" height="1.1" fill="#2233cc"/>
<rect x="289.36" y="61.71" width="1.1" height="1.1" fill="#3050e0"/>
<rect x="285.87" y="66.62" width="1.1" height="1.1" fill="#3050e0"/>
<rect x="281.08" y="65.30" width="1.1" height="1.1" fill="#e89a30"/>
<rect x="279.66" y="80.69" width="1.1" height="1.1" fill="#3050e0"/>
<rect x="279.08" y="80.16" width="1.1" height="1.1" fill="#3050e0"/>
<rect x="279.72" y="65.83" width="1.1" height="1.1" fill="#d87020"/>
<rect x="280.28" y="67.51" width="1.1" height="1.1" fill="#d87020"/>
<rect x="279.11" y="80.61" width="1.1" height="1.1" fill="#38a8d8"/>
<rect x="280.73" y="68.81" width="1.1" height="1.1" fill="#d87020"/>
<rect x="279.82" y="73.10" width="1.1" height="1.1" fill="#e89a30"/>
<rect x="278.82" y="75.86" width="1.1" height="1.1" fill="#48c0a0"/>
<rect x="278.94" y="71.30" width="1.1" height="1.1" fill="#d8d038"/>
<rect x="278.52" y="66.79" width="1.1" height="1.1" fill="#48c0a0"/>
<rect x="279.50" y="70.62" width="1.1" height="1.1" fill="#d87020"/>
<rect x="280.57" y="76.19" width="1.1" height="1.1" fill="#3050e0"/>
<rect x="278.71" y="77.46" width="1.1" height="1.1" fill="#38a8d8"/>
<rect x="279.88" y="64.56" width="1.1" height="1.1" fill="#d87020"/>
<rect x="278.85" y="60.06" width="1.1" height="1.1" fill="#38a8d8"/>
<rect x="279.50" y="67.94" width="1.1" height="1.1" fill="#d87020"/>
<rect x="279.99" y="61.01" width="1.1" height="1.1" fill="#d87020"/>
<rect x="280.78" y="73.03" width="1.1" height="1.1" fill="#38a8d8"/>
<rect x="277.98" y="76.27" width="1.1" height="1.1" fill="#2233cc"/>
<rect x="281.78" y="66.31" width="1.1" height="1.1" fill="#38a8d8"/>
<rect x="279.12" y="76.98" width="1.1" height="1.1" fill="#78c850"/>
<rect x="280.44" y="70.68" width="1.1" height="1.1" fill="#d87020"/>
<rect x="279.99" y="73.85" width="1.1" height="1.1" fill="#d8d038"/>
<rect x="280.27" y="59.97" width="1.1" height="1.1" fill="#d87020"/>
<rect x="280.89" y="70.00" width="1.1" height="1.1" fill="#d8d038"/>
<rect x="278.76" y="67.73" width="1.1" height="1.1" fill="#78c850"/>
<rect x="281.37" y="64.75" width="1.1" height="1.1" fill="#d8d038"/>
<rect x="278.87" y="61.93" width="1.1" height="1.1" fill="#38a8d8"/>
<rect x="277.80" y="75.79" width="1.1" height="1.1" fill="#2233cc"/>
<rect x="279.52" y="75.54" width="1.1" height="1.1" fill="#d8d038"/>
<rect x="279.98" y="73.37" width="1.1" height="1.1" fill="#e89a30"/>
<rect x="279.29" y="74.64" width="1.1" height="1.1" fill="#d8d038"/>
<rect x="281.64" y="64.78" width="1.1" height="1.1" fill="#78c850"/>
<rect x="280.89" y="64.73" width="1.1" height="1.1" fill="#d87020"/>
<rect x="281.73" y="63.60" width="1.1" height="1.1" fill="#78c850"/>
<rect x="280.10" y="76.90" width="1.1" height="1.1" fill="#38a8d8"/>
<rect x="280.97" y="74.54" width="1.1" height="1.1" fill="#2233cc"/>
<rect x="281.63" y="58.53" width="1.1" height="1.1" fill="#48c0a0"/>
<rect x="280.44" y="61.64" width="1.1" height="1.1" fill="#d87020"/>
<rect x="280.21" y="71.21" width="1.1" height="1.1" fill="#d87020"/>
<rect x="280.91" y="59.36" width="1.1" height="1.1" fill="#d8d038"/>
<rect x="279.36" y="72.93" width="1.1" height="1.1" fill="#e89a30"/>
<rect x="279.49" y="66.06" width="1.1" height="1.1" fill="#d87020"/>
<rect x="280.06" y="63.26" width="1.1" height="1.1" fill="#d87020"/>
<rect x="279.22" y="77.05" width="1.1" height="1.1" fill="#78c850"/>
<rect x="280.61" y="59.10" width="1.1" height="1.1" fill="#d8d038"/>
<rect x="281.47" y="68.20" width="1.1" height="1.1" fill="#48c0a0"/>
<rect x="280.38" y="71.90" width="1.1" height="1.1" fill="#e89a30"/>
<rect x="279.23" y="70.23" width="1.1" height="1.1" fill="#d87020"/>
<rect x="278.81" y="81.35" width="1.1" height="1.1" fill="#3050e0"/>
<rect x="278.05" y="80.56" width="1.1" height="1.1" fill="#2233cc"/>
<rect x="282.78" y="69.44" width="1.1" height="1.1" fill="#2233cc"/>
<rect x="279.28" y="68.89" width="1.1" height="1.1" fill="#d87020"/>
<rect x="278.60" y="66.31" width="1.1" height="1.1" fill="#38a8d8"/>
<rect x="279.92" y="67.72" width="1.1" height="1.1" fill="#d87020"/>
<rect x="280.60" y="70.32" width="1.1" height="1.1" fill="#e89a30"/>
<rect x="280.19" y="63.00" width="1.1" height="1.1" fill="#d87020"/>
<rect x="279.12" y="71.34" width="1.1" height="1.1" fill="#e89a30"/>
<rect x="279.12" y="80.83" width="1.1" height="1.1" fill="#38a8d8"/>
<rect x="277.61" y="75.07" width="1.1" height="1.1" fill="#2233cc"/>
<rect x="280.67" y="59.89" width="1.1" height="1.1" fill="#d87020"/>
<rect x="279.68" y="75.06" width="1.1" height="1.1" fill="#d8d038"/>
<rect x="279.89" y="64.52" width="1.1" height="1.1" fill="#d87020"/>
<rect x="279.50" y="81.25" width="1.1" height="1.1" fill="#3050e0"/>
<rect x="281.12" y="59.47" width="1.1" height="1.1" fill="#d87020"/>
<rect x="280.09" y="76.95" width="1.1" height="1.1" fill="#38a8d8"/>
<rect x="281.05" y="60.80" width="1.1" height="1.1" fill="#d87020"/>
<rect x="280.36" y="69.29" width="1.1" height="1.1" fill="#d87020"/>
<rect x="279.50" y="79.42" width="1.1" height="1.1" fill="#38a8d8"/>
<rect x="279.31" y="61.40" width="1.1" height="1.1" fill="#78c850"/>
<rect x="279.06" y="71.41" width="1.1" height="1.1" fill="#d8d038"/>
<rect x="280.65" y="58.94" width="1.1" height="1.1" fill="#d8d038"/>
<rect x="281.69" y="74.78" width="1.1" height="1.1" fill="#2233cc"/>
<rect x="278.78" y="75.30" width="1.1" height="1.1" fill="#48c0a0"/>
<rect x="279.65" y="77.12" width="1.1" height="1.1" fill="#48c0a0"/>
<rect x="279.88" y="63.37" width="1.1" height="1.1" fill="#d87020"/>
<rect x="282.18" y="67.16" width="1.1" height="1.1" fill="#3050e0"/>
<rect x="280.09" y="69.12" width="1.1" height="1.1" fill="#d87020"/>
<rect x="278.99" y="78.90" width="1.1" height="1.1" fill="#38a8d8"/>
<rect x="279.65" y="72.82" width="1.1" height="1.1" fill="#d87020"/>
<rect x="279.46" y="69.59" width="1.1" height="1.1" fill="#d87020"/>
<rect x="278.84" y="79.28" width="1.1" height="1.1" fill="#38a8d8"/>
<rect x="280.07" y="60.84" width="1.1" height="1.1" fill="#d87020"/>
<rect x="279.68" y="68.95" width="1.1" height="1.1" fill="#d87020"/>
<rect x="279.47" y="73.09" width="1.1" height="1.1" fill="#e89a30"/>
<rect x="278.72" y="75.11" width="1.1" height="1.1" fill="#38a8d8"/>
<rect x="278.63" y="69.28" width="1.1" height="1.1" fill="#78c850"/>
<rect x="281.30" y="63.97" width="1.1" height="1.1" fill="#e89a30"/>
<rect x="279.17" y="74.37" width="1.1" height="1.1" fill="#d8d038"/>
<rect x="279.86" y="72.23" width="1.1" height="1.1" fill="#e89a30"/>
<rect x="281.13" y="63.94" width="1.1" height="1.1" fill="#e89a30"/>
<rect x="279.40" y="76.58" width="1.1" height="1.1" fill="#78c850"/>
<rect x="279.69" y="73.03" width="1.1" height="1.1" fill="#e89a30"/>
<rect x="278.93" y="80.90" width="1.1" height="1.1" fill="#3050e0"/>
<rect x="281.44" y="59.33" width="1.1" height="1.1" fill="#78c850"/>
<rect x="280.61" y="63.50" width="1.1" height="1.1" fill="#d87020"/>
<rect x="278.07" y="79.85" width="1.1" height="1.1" fill="#2233cc"/>
<rect x="278.58" y="61.98" width="1.1" height="1.1" fill="#3050e0"/>
<rect x="281.21" y="75.86" width="1.1" height="1.1" fill="#2233cc"/>
<rect x="282.22" y="62.75" width="1.1" height="1.1" fill="#38a8d8"/>
<rect x="279.94" y="62.19" width="1.1" height="1.1" fill="#d87020"/>
<rect x="279.26" y="78.91" width="1.1" height="1.1" fill="#48c0a0"/>
<rect x="281.55" y="58.50" width="1.1" height="1.1" fill="#78c850"/>
<rect x="278.78" y="70.01" width="1.1" height="1.1" fill="#d8d038"/>
<rect x="279.90" y="72.12" width="1.1" height="1.1" fill="#e89a30"/>
<rect x="279.42" y="71.00" width="1.1" height="1.1" fill="#d87020"/>
<rect x="281.90" y="67.58" width="1.1" height="1.1" fill="#3050e0"/>
<rect x="279.45" y="77.53" width="1.1" height="1.1" fill="#78c850"/>
<rect x="281.13" y="68.98" width="1.1" height="1.1" fill="#78c850"/>
<rect x="281.14" y="68.32" width="1.1" height="1.1" fill="#78c850"/>
<rect x="278.43" y="80.91" width="1.1" height="1.1" fill="#2233cc"/>
<rect x="279.33" y="75.24" width="1.1" height="1.1" fill="#d8d038"/>
<rect x="279.97" y="77.96" width="1.1" height="1.1" fill="#38a8d8"/>
<rect x="279.95" y="75.99" width="1.1" height="1.1" fill="#48c0a0"/>
<rect x="281.61" y="72.40" width="1.1" height="1.1" fill="#2233cc"/>
<rect x="280.35" y="60.17" width="1.1" height="1.1" fill="#d87020"/>
<rect x="278.82" y="74.38" width="1.1" height="1.1" fill="#48c0a0"/>
<rect x="279.29" y="67.82" width="1.1" height="1.1" fill="#d87020"/>
<rect x="280.80" y="73.37" width="1.1" height="1.1" fill="#38a8d8"/>
<rect x="278.60" y="79.45" width="1.1" height="1.1" fill="#38a8d8"/>
<rect x="280.75" y="74.93" width="1.1" height="1.1" fill="#3050e0"/>
<rect x="280.34" y="68.36" width="1.1" height="1.1" fill="#d87020"/>
<rect x="281.54" y="62.59" width="1.1" height="1.1" fill="#d8d038"/>
<rect x="279.90" y="64.26" width="1.1" height="1.1" fill="#d87020"/>
<rect x="279.94" y="66.47" width="1.1" height="1.1" fill="#d87020"/>
<rect x="279.46" y="81.01" width="1.1" height="1.1" fill="#3050e0"/>
<rect x="279.34" y="79.89" width="1.1" height="1.1" fill="#38a8d8"/>
<rect x="277.99" y="75.76" width="1.1" height="1.1" fill="#2233cc"/>
<rect x="280.13" y="64.19" width="1.1" height="1.1" fill="#d87020"/>
<rect x="279.38" y="78.83" width="1.1" height="1.1" fill="#48c0a0"/>
<rect x="280.43" y="66.01" width="1.1" height="1.1" fill="#d87020"/>
<rect x="278.07" y="76.73" width="1.1" height="1.1" fill="#2233cc"/>
<rect x="280.99" y="60.86" width="1.1" height="1.1" fill="#d87020"/>
<rect x="279.28" y="66.89" width="1.1" height="1.1" fill="#e89a30"/>
<rect x="279.69" y="80.66" width="1.1" height="1.1" fill="#3050e0"/>
<rect x="281.00" y="70.83" width="1.1" height="1.1" fill="#d8d038"/>
<rect x="281.51" y="67.82" width="1.1" height="1.1" fill="#48c0a0"/>
<rect x="279.71" y="60.51" width="1.1" height="1.1" fill="#e89a30"/>
<rect x="280.41" y="65.06" width="1.1" height="1.1" fill="#d87020"/>
<rect x="279.49" y="74.91" width="1.1" height="1.1" fill="#e89a30"/>
<rect x="278.89" y="62.50" width="1.1" height="1.1" fill="#48c0a0"/>
<rect x="279.98" y="75.61" width="1.1" height="1.1" fill="#78c850"/>
<rect x="280.31" y="64.17" width="1.1" height="1.1" fill="#d87020"/>
<rect x="280.64" y="63.26" width="1.1" height="1.1" fill="#d87020"/>
<rect x="278.50" y="80.63" width="1.1" height="1.1" fill="#3050e0"/>
<rect x="278.60" y="72.20" width="1.1" height="1.1" fill="#78c850"/>
<rect x="280.61" y="65.44" width="1.1" height="1.1" fill="#d87020"/>
<rect x="280.30" y="66.76" width="1.1" height="1.1" fill="#d87020"/>
<rect x="277.63" y="61.05" width="1.1" height="1.1" fill="#2233cc"/>
<rect x="280.39" y="64.74" width="1.1" height="1.1" fill="#d87020"/>
<rect x="281.19" y="62.54" width="1.1" height="1.1" fill="#e89a30"/>
<rect x="280.01" y="74.31" width="1.1" height="1.1" fill="#d8d038"/>
<rect x="281.08" y="75.20" width="1.1" height="1.1" fill="#2233cc"/>
<rect x="280.42" y="77.59" width="1.1" height="1.1" fill="#2233cc"/>
<rect x="279.62" y="77.51" width="1.1" height="1.1" fill="#48c0a0"/>
<rect x="281.19" y="73.88" width="1.1" height="1.1" fill="#2233cc"/>
<rect x="281.58" y="58.68" width="1.1" height="1.1" fill="#48c0a0"/>
<rect x="281.27" y="73.61" width="1.1" height="1.1" fill="#2233cc"/>
<rect x="279.84" y="73.66" width="1.1" height="1.1" fill="#d8d038"/>
<rect x="279.54" y="81.05" width="1.1" height="1.1" fill="#3050e0"/>
<rect x="279.15" y="73.45" width="1.1" height="1.1" fill="#78c850"/>
<rect x="280.36" y="58.79" width="1.1" height="1.1" fill="#d8d038"/>
<rect x="281.53" y="61.44" width="1.1" height="1.1" fill="#d8d038"/>
<rect x="280.26" y="61.63" width="1.1" height="1.1" fill="#d87020"/>
<rect x="279.42" y="64.24" width="1.1" height="1.1" fill="#d8d038"/>
<rect x="281.32" y="64.16" width="1.1" height="1.1" fill="#e89a30"/>
<rect x="278.89" y="65.01" width="1.1" height="1.1" fill="#48c0a0"/>
<rect x="281.68" y="62.91" width="1.1" height="1.1" fill="#48c0a0"/>
<rect x="279.06" y="67.29" width="1.1" height="1.1" fill="#d8d038"/>
<rect x="280.18" y="78.45" width="1.1" height="1.1" fill="#3050e0"/>
<rect x="279.95" y="73.71" width="1.1" height="1.1" fill="#d8d038"/>
<rect x="279.33" y="68.53" width="1.1" height="1.1" fill="#e89a30"/>
<rect x="279.86" y="69.03" width="1.1" height="1.1" fill="#d87020"/>
<rect x="279.47" y="69.48" width="1.1" height="1.1" fill="#d87020"/>
<rect x="279.83" y="63.76" width="1.1" height="1.1" fill="#d87020"/>
<rect x="280.34" y="66.76" width="1.1" height="1.1" fill="#d87020"/>
<rect x="278.92" y="79.99" width="1.1" height="1.1" fill="#3050e0"/>
<rect x="279.42" y="75.57" width="1.1" height="1.1" fill="#d8d038"/>
<rect x="280.86" y="78.46" width="1.1" height="1.1" fill="#2233cc"/>
<rect x="278.83" y="80.15" width="1.1" height="1.1" fill="#3050e0"/>
<rect x="281.39" y="63.96" width="1.1" height="1.1" fill="#d8d038"/>
<rect x="282.52" y="60.36" width="1.1" height="1.1" fill="#3050e0"/>
<rect x="277.97" y="79.70" width="1.1" height="1.1" fill="#2233cc"/>
<rect x="280.42" y="68.87" width="1.1" height="1.1" fill="#d87020"/>
<rect x="279.85" y="63.17" width="1.1" height="1.1" fill="#d87020"/>
<rect x="278.49" y="81.09" width="1.1" height="1.1" fill="#2233cc"/>
<rect x="282.03" y="62.59" width="1.1" height="1.1" fill="#38a8d8"/>
<rect x="280.79" y="59.01" width="1.1" height="1.1" fill="#d8d038"/>
<rect x="278.96" y="75.48" width="1.1" height="1.1" fill="#48c0a0"/>
<rect x="279.56" y="72.36" width="1.1" height="1.1" fill="#d87020"/>
<rect x="281.36" y="61.79" width="1.1" height="1.1" fill="#e89a30"/>
<rect x="277.52" y="78.17" width="1.1" height="1.1" fill="#2233cc"/>
<rect x="279.51" y="79.21" width="1.1" height="1.1" fill="#38a8d8"/>
<rect x="279.79" y="79.19" width="1.1" height="1.1" fill="#3050e0"/>
<rect x="281.52" y="63.44" width="1.1" height="1.1" fill="#78c850"/>
<rect x="280.68" y="62.86" width="1.1" height="1.1" fill="#d87020"/>
<rect x="280.82" y="71.87" width="1.1" height="1.1" fill="#78c850"/>
<rect x="280.29" y="58.74" width="1.1" height="1.1" fill="#d8d038"/>
<rect x="279.04" y="63.81" width="1.1" height="1.1" fill="#78c850"/>
<rect x="280.12" y="69.77" width="1.1" height="1.1" fill="#d87020"/>
<rect x="280.04" y="72.74" width="1.1" height="1.1" fill="#e89a30"/>
<rect x="280.59" y="81.44" width="1.1" height="1.1" fill="#2233cc"/>
<rect x="281.30" y="63.65" width="1.1" height="1.1" fill="#e89a30"/>
<rect x="279.93" y="66.34" width="1.1" height="1.1" fill="#d87020"/>
<rect x="280.22" y="58.98" width="1.1" height="1.1" fill="#d8d038"/>
<rect x="281.19" y="58.45" width="1.1" height="1.1" fill="#d8d038"/>
<rect x="278.95" y="64.38" width="1.1" height="1.1" fill="#78c850"/>
<rect x="280.90" y="61.62" width="1.1" height="1.1" fill="#d87020"/>
<rect x="281.13" y="61.22" width="1.1" height="1.1" fill="#d87020"/>
<rect x="279.72" y="70.46" width="1.1" height="1.1" fill="#d87020"/>
<rect x="279.84" y="78.84" width="1.1" height="1.1" fill="#3050e0"/>
<rect x="280.06" y="71.92" width="1.1" height="1.1" fill="#d87020"/>
<rect x="281.30" y="67.86" width="1.1" height="1.1" fill="#78c850"/>
<rect x="278.42" y="80.46" width="1.1" height="1.1" fill="#2233cc"/>
<rect x="278.99" y="80.12" width="1.1" height="1.1" fill="#38a8d8"/>
<rect x="280.75" y="60.84" width="1.1" height="1.1" fill="#d87020"/>
<rect x="279.56" y="65.11" width="1.1" height="1.1" fill="#d87020"/>
<rect x="282.83" y="68.11" width="1.1" height="1.1" fill="#2233cc"/>
<rect x="279.76" y="77.97" width="1.1" height="1.1" fill="#48c0a0"/>
<rect x="279.03" y="61.13" width="1.1" height="1.1" fill="#38a8d8"/>
<rect x="278.43" y="73.59" width="1.1" height="1.1" fill="#3050e0"/>
<rect x="278.43" y="80.58" width="1.1" height="1.1" fill="#2233cc"/>
<rect x="281.74" y="60.20" width="1.1" height="1.1" fill="#78c850"/>
<rect x="278.98" y="74.37" width="1.1" height="1.1" fill="#48c0a0"/>
<rect x="279.44" y="63.89" width="1.1" height="1.1" fill="#e89a30"/>
<rect x="281.60" y="60.14" width="1.1" height="1.1" fill="#e89a30"/>
<rect x="278.54" y="72.81" width="1.1" height="1.1" fill="#38a8d8"/>
<rect x="281.00" y="58.67" width="1.1" height="1.1" fill="#d8d038"/>
<rect x="279.34" y="74.04" width="1.1" height="1.1" fill="#d8d038"/>
<rect x="278.06" y="80.50" width="1.1" height="1.1" fill="#2233cc"/>
<rect x="277.84" y="63.81" width="1.1" height="1.1" fill="#2233cc"/>
<rect x="281.23" y="67.86" width="1.1" height="1.1" fill="#d8d038"/>
<rect x="279.41" y="79.15" width="1.1" height="1.1" fill="#38a8d8"/>
<rect x="280.95" y="73.71" width="1.1" height="1.1" fill="#3050e0"/>
<rect x="280.65" y="61.38" width="1.1" height="1.1" fill="#d87020"/>
<rect x="281.42" y="59.27" width="1.1" height="1.1" fill="#48c0a0"/>
<rect x="279.68" y="67.79" width="1.1" height="1.1" fill="#d87020"/>
<rect x="279.36" y="80.12" width="1.1" height="1.1" fill="#38a8d8"/>
<rect x="279.81" y="66.63" width="1.1" height="1.1" fill="#d87020"/>
<rect x="278.81" y="69.53" width="1.1" height="1.1" fill="#78c850"/>
<rect x="280.04" y="74.00" width="1.1" height="1.1" fill="#d8d038"/>
<rect x="280.14" y="76.09" width="1.1" height="1.1" fill="#48c0a0"/>
<rect x="278.86" y="73.22" width="1.1" height="1.1" fill="#78c850"/>
<rect x="279.12" y="62.96" width="1.1" height="1.1" fill="#78c850"/>
<rect x="280.16" y="65.37" width="1.1" height="1.1" fill="#d87020"/>
<rect x="280.84" y="77.99" width="1.1" height="1.1" fill="#2233cc"/>
<rect x="279.83" y="71.99" width="1.1" height="1.1" fill="#d87020"/>
<rect x="279.68" y="75.14" width="1.1" height="1.1" fill="#d8d038"/>
<rect x="281.29" y="60.06" width="1.1" height="1.1" fill="#d87020"/>
<rect x="280.73" y="58.54" width="1.1" height="1.1" fill="#d8d038"/>
<rect x="279.51" y="64.55" width="1.1" height="1.1" fill="#e89a30"/>
<rect x="277.38" y="61.08" width="1.1" height="1.1" fill="#2233cc"/>
<rect x="279.59" y="80.76" width="1.1" height="1.1" fill="#3050e0"/>
<rect x="281.00" y="65.81" width="1.1" height="1.1" fill="#e89a30"/>
<rect x="279.93" y="69.46" width="1.1" height="1.1" fill="#d87020"/>
<rect x="280.83" y="62.19" width="1.1" height="1.1" fill="#d87020"/>
<rect x="279.51" y="72.80" width="1.1" height="1.1" fill="#e89a30"/>
<rect x="278.96" y="75.21" width="1.1" height="1.1" fill="#48c0a0"/>
<rect x="280.88" y="69.76" width="1.1" height="1.1" fill="#d8d038"/>
<rect x="282.98" y="59.63" width="1.1" height="1.1" fill="#2233cc"/>
<rect x="278.65" y="74.38" width="1.1" height="1.1" fill="#38a8d8"/>
<rect x="280.28" y="76.78" width="1.1" height="1.1" fill="#38a8d8"/>
<rect x="279.95" y="60.62" width="1.1" height="1.1" fill="#d87020"/>
<rect x="279.16" y="76.94" width="1.1" height="1.1" fill="#78c850"/>
<rect x="281.70" y="63.77" width="1.1" height="1.1" fill="#48c0a0"/>
<rect x="281.40" y="61.63" width="1.1" height="1.1" fill="#e89a30"/>
<rect x="281.00" y="71.85" width="1.1" height="1.1" fill="#48c0a0"/>
<rect x="281.28" y="64.40" width="1.1" height="1.1" fill="#d8d038"/>
<rect x="279.82" y="70.71" width="1.1" height="1.1" fill="#d87020"/>
<rect x="280.09" y="63.53" width="1.1" height="1.1" fill="#d87020"/>
<rect x="279.29" y="73.17" width="1.1" height="1.1" fill="#e89a30"/>
<rect x="278.97" y="63.16" width="1.1" height="1.1" fill="#48c0a0"/>
<rect x="279.62" y="73.69" width="1.1" height="1.1" fill="#e89a30"/>
<rect x="279.95" y="76.19" width="1.1" height="1.1" fill="#78c850"/>
<rect x="280.94" y="74.92" width="1.1" height="1.1" fill="#2233cc"/>
<rect x="279.71" y="65.71" width="1.1" height="1.1" fill="#d87020"/>
<rect x="280.26" y="59.73" width="1.1" height="1.1" fill="#d87020"/>
<rect x="279.59" y="70.27" width="1.1" height="1.1" fill="#d87020"/>
<rect x="279.86" y="79.88" width="1.1" height="1.1" fill="#3050e0"/>
<rect x="279.43" y="81.93" width="1.1" height="1.1" fill="#2233cc"/>
<rect x="279.22" y="83.54" width="1.1" height="1.1" fill="#2233cc"/>
<rect x="281.01" y="84.55" width="1.1" height="1.1" fill="#2233cc"/>
<rect x="279.35" y="81.73" width="1.1" height="1.1" fill="#2233cc"/>
<rect x="280.65" y="84.12" width="1.1" height="1.1" fill="#2233cc"/>
<rect x="278.80" y="82.72" width="1.1" height="1.1" fill="#2233cc"/>
<rect x="280.23" y="82.94" width="1.1" height="1.1" fill="#2233cc"/>
<rect x="281.07" y="85.16" width="1.1" height="1.1" fill="#2233cc"/>
<rect x="279.60" y="83.27" width="1.1" height="1.1" fill="#2233cc"/>
<rect x="282.24" y="82.56" width="1.1" height="1.1" fill="#2233cc"/>
<rect x="280.57" y="81.97" width="1.1" height="1.1" fill="#2233cc"/>
<rect x="279.96" y="83.93" width="1.1" height="1.1" fill="#2233cc"/>
<rect x="280.34" y="84.53" width="1.1" height="1.1" fill="#2233cc"/>
<rect x="279.77" y="81.79" width="1.1" height="1.1" fill="#3050e0"/>
<rect x="280.27" y="81.65" width="1.1" height="1.1" fill="#2233cc"/>
<rect x="280.30" y="84.52" width="1.1" height="1.1" fill="#2233cc"/>
<rect x="280.33" y="82.11" width="1.1" height="1.1" fill="#2233cc"/>
<rect x="280.29" y="84.78" width="1.1" height="1.1" fill="#2233cc"/>
<rect x="280.48" y="83.15" width="1.1" height="1.1" fill="#2233cc"/>
<rect x="280.15" y="81.94" width="1.1" height="1.1" fill="#2233cc"/>
<rect x="282.18" y="82.49" width="1.1" height="1.1" fill="#2233cc"/>
<rect x="280.80" y="85.02" width="1.1" height="1.1" fill="#2233cc"/>
<rect x="279.54" y="83.87" width="1.1" height="1.1" fill="#2233cc"/>
<rect x="279.77" y="83.31" width="1.1" height="1.1" fill="#2233cc"/>
<rect x="278.78" y="82.22" width="1.1" height="1.1" fill="#2233cc"/>
<text x="276.1" y="49.0" font-size="4.4" text-anchor="start" fill="#111" stroke="#111" stroke-width="0.2">g3</text>
<text x="294.2" y="64.3" font-size="4.9" text-anchor="start" fill="#111" stroke="#111" stroke-width="0.15">g2 s m</text>
<text x="277.40000000000003" y="95.3" font-size="4.6" text-anchor="start" fill="#111" stroke="#111" stroke-width="0.15">g0</text>
<line x1="272.7" y1="47.6" x2="274.3" y2="47.6" stroke="#333" stroke-width="0.6"/>
<text x="270.90000000000003" y="49.1" font-size="4.2" font-weight="bold" text-anchor="end" fill="#333" >10<tspan font-size="3.0" dy="-1.7">5</tspan></text>
<line x1="272.7" y1="59.5" x2="274.3" y2="59.5" stroke="#333" stroke-width="0.6"/>
<text x="270.90000000000003" y="61.0" font-size="4.2" font-weight="bold" text-anchor="end" fill="#333" >10<tspan font-size="3.0" dy="-1.7">4</tspan></text>
<line x1="272.7" y1="70.8" x2="274.3" y2="70.8" stroke="#333" stroke-width="0.6"/>
<text x="270.90000000000003" y="72.3" font-size="4.2" font-weight="bold" text-anchor="end" fill="#333" >10<tspan font-size="3.0" dy="-1.7">3</tspan></text>
<line x1="272.7" y1="86.7" x2="274.3" y2="86.7" stroke="#333" stroke-width="0.6"/>
<text x="270.3" y="88.2" font-size="4.2" font-weight="bold" text-anchor="end" fill="#333" >0</text>
<rect x="272.5" y="85.2" width="1.4" height="3" fill="#111"/>
<line x1="274.6" y1="98.8" x2="274.6" y2="99.8" stroke="#555" stroke-width="0.5"/>
<text transform="translate(276.2,104.2) rotate(-45)" font-size="4.1" font-weight="bold" text-anchor="end" fill="#333">0</text>
<line x1="286.5" y1="98.8" x2="286.5" y2="99.8" stroke="#555" stroke-width="0.5"/>
<text transform="translate(286.3,103.7) rotate(-45)" font-size="4.1" font-weight="bold" text-anchor="end" fill="#333">50K</text>
<line x1="298.4" y1="98.8" x2="298.4" y2="99.8" stroke="#555" stroke-width="0.5"/>
<text transform="translate(298.2,103.7) rotate(-45)" font-size="4.1" font-weight="bold" text-anchor="end" fill="#333">100K</text>
<line x1="310.3" y1="98.8" x2="310.3" y2="99.8" stroke="#555" stroke-width="0.5"/>
<text transform="translate(310.1,103.7) rotate(-45)" font-size="4.1" font-weight="bold" text-anchor="end" fill="#333">150K</text>
<line x1="322.2" y1="98.8" x2="322.2" y2="99.8" stroke="#555" stroke-width="0.5"/>
<text transform="translate(322.0,103.7) rotate(-45)" font-size="4.1" font-weight="bold" text-anchor="end" fill="#333">200K</text>
<line x1="334.1" y1="98.8" x2="334.1" y2="99.8" stroke="#555" stroke-width="0.5"/>
<text transform="translate(333.9,103.7) rotate(-45)" font-size="4.1" font-weight="bold" text-anchor="end" fill="#333">250K</text>
<rect x="372.6" y="40.1" width="63.599999999999966" height="58.49999999999999" fill="none" stroke="#777" stroke-width="0.7"/>
<path d="M374.3,90.5 V55.2 H392.3 V74.6 H374.3 M380.6,55.2 V90.5 H374.3" fill="none" stroke="#444" stroke-width="0.6"/>
<rect x="387.06" y="63.05" width="1.1" height="1.1" fill="#2233cc"/>
<rect x="384.07" y="67.43" width="1.1" height="1.1" fill="#3050e0"/>
<rect x="385.24" y="63.23" width="1.1" height="1.1" fill="#3050e0"/>
<rect x="383.49" y="67.92" width="1.1" height="1.1" fill="#3050e0"/>
<rect x="383.31" y="68.20" width="1.1" height="1.1" fill="#3050e0"/>
<rect x="385.87" y="57.45" width="1.1" height="1.1" fill="#2233cc"/>
<rect x="387.61" y="59.35" width="1.1" height="1.1" fill="#2233cc"/>
<rect x="382.15" y="73.39" width="1.1" height="1.1" fill="#2233cc"/>
<rect x="383.85" y="68.31" width="1.1" height="1.1" fill="#2233cc"/>
<rect x="382.82" y="69.71" width="1.1" height="1.1" fill="#2233cc"/>
<rect x="384.71" y="69.98" width="1.1" height="1.1" fill="#2233cc"/>
<rect x="381.17" y="66.49" width="1.1" height="1.1" fill="#2233cc"/>
<rect x="384.22" y="71.06" width="1.1" height="1.1" fill="#2233cc"/>
<rect x="387.43" y="59.12" width="1.1" height="1.1" fill="#2233cc"/>
<rect x="384.67" y="62.48" width="1.1" height="1.1" fill="#3050e0"/>
<rect x="381.11" y="74.17" width="1.1" height="1.1" fill="#2233cc"/>
<rect x="382.21" y="68.18" width="1.1" height="1.1" fill="#3050e0"/>
<rect x="381.77" y="73.74" width="1.1" height="1.1" fill="#2233cc"/>
<rect x="384.88" y="62.96" width="1.1" height="1.1" fill="#3050e0"/>
<rect x="383.94" y="61.70" width="1.1" height="1.1" fill="#2233cc"/>
<rect x="388.10" y="59.75" width="1.1" height="1.1" fill="#2233cc"/>
<rect x="382.21" y="69.41" width="1.1" height="1.1" fill="#3050e0"/>
<rect x="384.90" y="58.71" width="1.1" height="1.1" fill="#2233cc"/>
<rect x="383.19" y="68.67" width="1.1" height="1.1" fill="#2233cc"/>
<rect x="383.83" y="66.39" width="1.1" height="1.1" fill="#3050e0"/>
<rect x="384.17" y="66.24" width="1.1" height="1.1" fill="#3050e0"/>
<rect x="383.97" y="63.84" width="1.1" height="1.1" fill="#3050e0"/>
<rect x="380.96" y="73.73" width="1.1" height="1.1" fill="#2233cc"/>
<rect x="382.96" y="70.87" width="1.1" height="1.1" fill="#2233cc"/>
<rect x="383.86" y="63.52" width="1.1" height="1.1" fill="#3050e0"/>
<rect x="383.16" y="66.50" width="1.1" height="1.1" fill="#3050e0"/>
<rect x="385.26" y="60.48" width="1.1" height="1.1" fill="#2233cc"/>
<rect x="383.32" y="65.20" width="1.1" height="1.1" fill="#3050e0"/>
<rect x="383.69" y="64.82" width="1.1" height="1.1" fill="#3050e0"/>
<rect x="386.79" y="61.29" width="1.1" height="1.1" fill="#2233cc"/>
<rect x="383.60" y="63.53" width="1.1" height="1.1" fill="#2233cc"/>
<rect x="380.20" y="71.64" width="1.1" height="1.1" fill="#2233cc"/>
<rect x="383.13" y="68.57" width="1.1" height="1.1" fill="#3050e0"/>
<rect x="384.52" y="62.85" width="1.1" height="1.1" fill="#3050e0"/>
<rect x="386.29" y="61.30" width="1.1" height="1.1" fill="#2233cc"/>
<rect x="382.84" y="61.74" width="1.1" height="1.1" fill="#2233cc"/>
<rect x="383.45" y="68.76" width="1.1" height="1.1" fill="#3050e0"/>
<rect x="385.07" y="66.67" width="1.1" height="1.1" fill="#2233cc"/>
<rect x="383.48" y="65.20" width="1.1" height="1.1" fill="#3050e0"/>
<rect x="386.75" y="60.61" width="1.1" height="1.1" fill="#2233cc"/>
<rect x="385.93" y="67.36" width="1.1" height="1.1" fill="#2233cc"/>
<rect x="384.30" y="59.70" width="1.1" height="1.1" fill="#2233cc"/>
<rect x="385.32" y="62.34" width="1.1" height="1.1" fill="#2233cc"/>
<rect x="382.96" y="66.86" width="1.1" height="1.1" fill="#3050e0"/>
<rect x="384.78" y="61.53" width="1.1" height="1.1" fill="#2233cc"/>
<rect x="383.95" y="67.74" width="1.1" height="1.1" fill="#2233cc"/>
<rect x="381.70" y="69.43" width="1.1" height="1.1" fill="#2233cc"/>
<rect x="385.96" y="62.10" width="1.1" height="1.1" fill="#3050e0"/>
<rect x="384.03" y="63.54" width="1.1" height="1.1" fill="#2233cc"/>
<rect x="382.75" y="67.61" width="1.1" height="1.1" fill="#3050e0"/>
<rect x="385.21" y="62.36" width="1.1" height="1.1" fill="#3050e0"/>
<rect x="383.41" y="62.29" width="1.1" height="1.1" fill="#2233cc"/>
<rect x="383.64" y="64.15" width="1.1" height="1.1" fill="#3050e0"/>
<rect x="384.67" y="63.95" width="1.1" height="1.1" fill="#3050e0"/>
<rect x="383.21" y="67.34" width="1.1" height="1.1" fill="#3050e0"/>
<rect x="384.97" y="60.01" width="1.1" height="1.1" fill="#2233cc"/>
<rect x="381.15" y="71.60" width="1.1" height="1.1" fill="#2233cc"/>
<rect x="382.21" y="72.61" width="1.1" height="1.1" fill="#2233cc"/>
<rect x="384.44" y="66.23" width="1.1" height="1.1" fill="#3050e0"/>
<rect x="382.74" y="66.30" width="1.1" height="1.1" fill="#2233cc"/>
<rect x="384.22" y="66.23" width="1.1" height="1.1" fill="#3050e0"/>
<rect x="383.05" y="70.10" width="1.1" height="1.1" fill="#2233cc"/>
<rect x="381.81" y="69.84" width="1.1" height="1.1" fill="#3050e0"/>
<rect x="382.68" y="68.23" width="1.1" height="1.1" fill="#3050e0"/>
<rect x="384.84" y="65.30" width="1.1" height="1.1" fill="#2233cc"/>
<rect x="382.40" y="61.86" width="1.1" height="1.1" fill="#2233cc"/>
<rect x="382.71" y="70.06" width="1.1" height="1.1" fill="#2233cc"/>
<rect x="383.29" y="64.37" width="1.1" height="1.1" fill="#2233cc"/>
<rect x="385.85" y="59.63" width="1.1" height="1.1" fill="#2233cc"/>
<rect x="386.03" y="58.44" width="1.1" height="1.1" fill="#2233cc"/>
<rect x="380.82" y="66.94" width="1.1" height="1.1" fill="#2233cc"/>
<rect x="382.44" y="69.25" width="1.1" height="1.1" fill="#3050e0"/>
<rect x="382.27" y="64.99" width="1.1" height="1.1" fill="#2233cc"/>
<rect x="385.28" y="65.24" width="1.1" height="1.1" fill="#3050e0"/>
<rect x="384.76" y="60.77" width="1.1" height="1.1" fill="#2233cc"/>
<rect x="382.02" y="68.28" width="1.1" height="1.1" fill="#2233cc"/>
<rect x="387.40" y="63.15" width="1.1" height="1.1" fill="#2233cc"/>
<rect x="385.88" y="62.55" width="1.1" height="1.1" fill="#2233cc"/>
<rect x="382.05" y="69.10" width="1.1" height="1.1" fill="#3050e0"/>
<rect x="382.53" y="70.80" width="1.1" height="1.1" fill="#2233cc"/>
<rect x="382.52" y="65.90" width="1.1" height="1.1" fill="#2233cc"/>
<rect x="381.87" y="71.72" width="1.1" height="1.1" fill="#2233cc"/>
<rect x="383.92" y="68.22" width="1.1" height="1.1" fill="#2233cc"/>
<rect x="382.41" y="67.88" width="1.1" height="1.1" fill="#2233cc"/>
<rect x="384.59" y="63.08" width="1.1" height="1.1" fill="#3050e0"/>
<rect x="385.41" y="63.24" width="1.1" height="1.1" fill="#2233cc"/>
<rect x="384.46" y="63.33" width="1.1" height="1.1" fill="#3050e0"/>
<rect x="385.59" y="63.42" width="1.1" height="1.1" fill="#3050e0"/>
<rect x="383.19" y="61.31" width="1.1" height="1.1" fill="#2233cc"/>
<rect x="388.09" y="61.39" width="1.1" height="1.1" fill="#2233cc"/>
<rect x="385.27" y="67.35" width="1.1" height="1.1" fill="#2233cc"/>
<rect x="383.35" y="67.47" width="1.1" height="1.1" fill="#3050e0"/>
<rect x="384.11" y="61.79" width="1.1" height="1.1" fill="#2233cc"/>
<rect x="384.74" y="64.42" width="1.1" height="1.1" fill="#3050e0"/>
<rect x="378.48" y="62.02" width="1.1" height="1.1" fill="#a6a044"/>
<rect x="377.13" y="64.23" width="1.1" height="1.1" fill="#6e8444"/>
<rect x="377.96" y="78.93" width="1.1" height="1.1" fill="#909a40"/>
<rect x="377.77" y="69.91" width="1.1" height="1.1" fill="#b0a848"/>
<rect x="380.45" y="67.50" width="1.1" height="1.1" fill="#2838c8"/>
<rect x="377.88" y="65.75" width="1.1" height="1.1" fill="#b0a848"/>
<rect x="376.40" y="77.73" width="1.1" height="1.1" fill="#a6a044"/>
<rect x="375.61" y="81.81" width="1.1" height="1.1" fill="#88923e"/>
<rect x="378.69" y="73.19" width="1.1" height="1.1" fill="#909a40"/>
<rect x="376.40" y="74.75" width="1.1" height="1.1" fill="#88923e"/>
<rect x="375.64" y="85.24" width="1.1" height="1.1" fill="#b0a848"/>
<rect x="378.25" y="65.52" width="1.1" height="1.1" fill="#a6a044"/>
<rect x="375.31" y="83.41" width="1.1" height="1.1" fill="#909a40"/>
<rect x="378.08" y="80.39" width="1.1" height="1.1" fill="#909a40"/>
<rect x="377.46" y="86.29" width="1.1" height="1.1" fill="#6e8444"/>
<rect x="377.72" y="66.41" width="1.1" height="1.1" fill="#a6a044"/>
<rect x="377.06" y="82.05" width="1.1" height="1.1" fill="#b0a848"/>
<rect x="376.01" y="69.73" width="1.1" height="1.1" fill="#6e8444"/>
<rect x="375.80" y="82.28" width="1.1" height="1.1" fill="#b0a848"/>
<rect x="377.61" y="83.77" width="1.1" height="1.1" fill="#909a40"/>
<rect x="376.19" y="85.64" width="1.1" height="1.1" fill="#909a40"/>
<rect x="375.61" y="85.04" width="1.1" height="1.1" fill="#b0a848"/>
<rect x="378.30" y="79.78" width="1.1" height="1.1" fill="#6e8444"/>
<rect x="378.16" y="68.64" width="1.1" height="1.1" fill="#b0a848"/>
<rect x="377.50" y="72.94" width="1.1" height="1.1" fill="#b0a848"/>
<rect x="377.82" y="63.99" width="1.1" height="1.1" fill="#b0a848"/>
<rect x="377.80" y="67.03" width="1.1" height="1.1" fill="#b0a848"/>
<rect x="375.91" y="81.44" width="1.1" height="1.1" fill="#b0a848"/>
<rect x="378.31" y="73.31" width="1.1" height="1.1" fill="#b0a848"/>
<rect x="375.24" y="86.37" width="1.1" height="1.1" fill="#5e7e48"/>
<rect x="376.10" y="82.54" width="1.1" height="1.1" fill="#a6a044"/>
<rect x="379.33" y="70.59" width="1.1" height="1.1" fill="#88923e"/>
<rect x="376.98" y="68.20" width="1.1" height="1.1" fill="#88923e"/>
<rect x="376.35" y="83.59" width="1.1" height="1.1" fill="#a6a044"/>
<rect x="376.49" y="67.05" width="1.1" height="1.1" fill="#6e8444"/>
<rect x="376.59" y="70.37" width="1.1" height="1.1" fill="#88923e"/>
<rect x="374.95" y="86.33" width="1.1" height="1.1" fill="#6e8444"/>
<rect x="376.47" y="70.19" width="1.1" height="1.1" fill="#5e7e48"/>
<rect x="377.71" y="73.77" width="1.1" height="1.1" fill="#a6a044"/>
<rect x="377.65" y="65.64" width="1.1" height="1.1" fill="#b0a848"/>
<rect x="376.25" y="86.70" width="1.1" height="1.1" fill="#909a40"/>
<rect x="376.77" y="66.97" width="1.1" height="1.1" fill="#6e8444"/>
<rect x="375.78" y="82.40" width="1.1" height="1.1" fill="#b0a848"/>
<rect x="375.85" y="73.95" width="1.1" height="1.1" fill="#5e7e48"/>
<rect x="377.07" y="85.45" width="1.1" height="1.1" fill="#909a40"/>
<rect x="377.70" y="84.58" width="1.1" height="1.1" fill="#909a40"/>
<rect x="378.83" y="73.66" width="1.1" height="1.1" fill="#909a40"/>
<rect x="376.09" y="81.26" width="1.1" height="1.1" fill="#a6a044"/>
<rect x="378.81" y="70.36" width="1.1" height="1.1" fill="#88923e"/>
<rect x="378.06" y="74.42" width="1.1" height="1.1" fill="#b0a848"/>
<rect x="376.88" y="71.46" width="1.1" height="1.1" fill="#88923e"/>
<rect x="377.29" y="73.37" width="1.1" height="1.1" fill="#b0a848"/>
<rect x="374.59" y="77.82" width="1.1" height="1.1" fill="#3050e0"/>
<rect x="376.48" y="73.95" width="1.1" height="1.1" fill="#88923e"/>
<rect x="378.38" y="75.57" width="1.1" height="1.1" fill="#88923e"/>
<rect x="376.80" y="69.26" width="1.1" height="1.1" fill="#88923e"/>
<rect x="375.84" y="79.89" width="1.1" height="1.1" fill="#88923e"/>
<rect x="377.74" y="66.80" width="1.1" height="1.1" fill="#a6a044"/>
<rect x="376.74" y="81.03" width="1.1" height="1.1" fill="#a6a044"/>
<rect x="376.51" y="87.25" width="1.1" height="1.1" fill="#88923e"/>
<rect x="378.61" y="68.38" width="1.1" height="1.1" fill="#a6a044"/>
<rect x="377.33" y="74.84" width="1.1" height="1.1" fill="#a6a044"/>
<rect x="379.11" y="61.79" width="1.1" height="1.1" fill="#a6a044"/>
<rect x="378.98" y="66.92" width="1.1" height="1.1" fill="#b0a848"/>
<rect x="374.35" y="79.00" width="1.1" height="1.1" fill="#3050e0"/>
<rect x="380.45" y="64.32" width="1.1" height="1.1" fill="#6e8444"/>
<rect x="375.41" y="74.82" width="1.1" height="1.1" fill="#5e7e48"/>
<rect x="376.95" y="87.29" width="1.1" height="1.1" fill="#909a40"/>
<rect x="378.25" y="65.64" width="1.1" height="1.1" fill="#b0a848"/>
<rect x="376.81" y="68.08" width="1.1" height="1.1" fill="#5e7e48"/>
<rect x="380.00" y="65.39" width="1.1" height="1.1" fill="#6e8444"/>
<rect x="378.70" y="74.52" width="1.1" height="1.1" fill="#909a40"/>
<rect x="377.53" y="72.18" width="1.1" height="1.1" fill="#b0a848"/>
<rect x="378.47" y="65.10" width="1.1" height="1.1" fill="#a6a044"/>
<rect x="378.59" y="67.74" width="1.1" height="1.1" fill="#b0a848"/>
<rect x="376.45" y="76.76" width="1.1" height="1.1" fill="#b0a848"/>
<rect x="376.94" y="81.34" width="1.1" height="1.1" fill="#b0a848"/>
<rect x="377.60" y="87.13" width="1.1" height="1.1" fill="#5e7e48"/>
<rect x="377.31" y="77.15" width="1.1" height="1.1" fill="#b0a848"/>
<rect x="377.07" y="81.07" width="1.1" height="1.1" fill="#a6a044"/>
<rect x="377.20" y="72.46" width="1.1" height="1.1" fill="#a6a044"/>
<rect x="378.12" y="79.29" width="1.1" height="1.1" fill="#909a40"/>
<rect x="379.43" y="69.88" width="1.1" height="1.1" fill="#5e7e48"/>
<rect x="376.27" y="76.71" width="1.1" height="1.1" fill="#88923e"/>
<rect x="376.72" y="82.74" width="1.1" height="1.1" fill="#a6a044"/>
<rect x="377.77" y="64.11" width="1.1" height="1.1" fill="#a6a044"/>
<rect x="378.22" y="74.73" width="1.1" height="1.1" fill="#b0a848"/>
<rect x="380.10" y="63.83" width="1.1" height="1.1" fill="#88923e"/>
<rect x="376.58" y="79.69" width="1.1" height="1.1" fill="#b0a848"/>
<rect x="375.54" y="87.29" width="1.1" height="1.1" fill="#909a40"/>
<rect x="376.82" y="78.65" width="1.1" height="1.1" fill="#b0a848"/>
<rect x="379.01" y="63.25" width="1.1" height="1.1" fill="#a6a044"/>
<rect x="379.79" y="75.57" width="1.1" height="1.1" fill="#3050e0"/>
<rect x="378.04" y="68.03" width="1.1" height="1.1" fill="#b0a848"/>
<rect x="376.89" y="76.08" width="1.1" height="1.1" fill="#b0a848"/>
<rect x="378.69" y="64.75" width="1.1" height="1.1" fill="#b0a848"/>
<rect x="377.90" y="64.75" width="1.1" height="1.1" fill="#a6a044"/>
<rect x="375.02" y="81.98" width="1.1" height="1.1" fill="#5e7e48"/>
<rect x="378.45" y="64.39" width="1.1" height="1.1" fill="#b0a848"/>
<rect x="378.23" y="70.50" width="1.1" height="1.1" fill="#b0a848"/>
<rect x="378.03" y="72.02" width="1.1" height="1.1" fill="#a6a044"/>
<rect x="378.36" y="61.54" width="1.1" height="1.1" fill="#b0a848"/>
<rect x="375.94" y="83.93" width="1.1" height="1.1" fill="#a6a044"/>
<rect x="378.12" y="64.45" width="1.1" height="1.1" fill="#a6a044"/>
<rect x="379.93" y="61.54" width="1.1" height="1.1" fill="#909a40"/>
<rect x="376.68" y="83.47" width="1.1" height="1.1" fill="#b0a848"/>
<rect x="374.40" y="86.65" width="1.1" height="1.1" fill="#5e7e48"/>
<rect x="375.91" y="69.54" width="1.1" height="1.1" fill="#3050e0"/>
<rect x="377.71" y="64.74" width="1.1" height="1.1" fill="#b0a848"/>
<rect x="378.09" y="78.60" width="1.1" height="1.1" fill="#88923e"/>
<rect x="377.33" y="72.34" width="1.1" height="1.1" fill="#b0a848"/>
<rect x="377.98" y="64.54" width="1.1" height="1.1" fill="#b0a848"/>
<rect x="375.78" y="81.76" width="1.1" height="1.1" fill="#b0a848"/>
<rect x="377.23" y="75.60" width="1.1" height="1.1" fill="#a6a044"/>
<rect x="374.73" y="82.73" width="1.1" height="1.1" fill="#6e8444"/>
<rect x="376.56" y="83.87" width="1.1" height="1.1" fill="#b0a848"/>
<rect x="377.92" y="70.80" width="1.1" height="1.1" fill="#a6a044"/>
<rect x="374.22" y="87.02" width="1.1" height="1.1" fill="#6e8444"/>
<rect x="376.74" y="77.97" width="1.1" height="1.1" fill="#b0a848"/>
<rect x="376.90" y="72.10" width="1.1" height="1.1" fill="#b0a848"/>
<rect x="376.67" y="82.36" width="1.1" height="1.1" fill="#a6a044"/>
<rect x="378.48" y="74.13" width="1.1" height="1.1" fill="#909a40"/>
<rect x="376.83" y="84.75" width="1.1" height="1.1" fill="#b0a848"/>
<rect x="376.51" y="84.01" width="1.1" height="1.1" fill="#b0a848"/>
<rect x="379.37" y="65.49" width="1.1" height="1.1" fill="#b0a848"/>
<rect x="379.40" y="68.75" width="1.1" height="1.1" fill="#88923e"/>
<rect x="379.33" y="70.07" width="1.1" height="1.1" fill="#88923e"/>
<rect x="376.63" y="65.41" width="1.1" height="1.1" fill="#5e7e48"/>
<rect x="378.43" y="64.35" width="1.1" height="1.1" fill="#b0a848"/>
<rect x="377.30" y="87.11" width="1.1" height="1.1" fill="#5e7e48"/>
<rect x="378.87" y="71.31" width="1.1" height="1.1" fill="#909a40"/>
<rect x="378.64" y="64.75" width="1.1" height="1.1" fill="#a6a044"/>
<rect x="377.07" y="66.83" width="1.1" height="1.1" fill="#88923e"/>
<rect x="377.66" y="66.65" width="1.1" height="1.1" fill="#a6a044"/>
<rect x="377.01" y="67.52" width="1.1" height="1.1" fill="#88923e"/>
<rect x="376.50" y="76.31" width="1.1" height="1.1" fill="#a6a044"/>
<rect x="377.97" y="74.71" width="1.1" height="1.1" fill="#b0a848"/>
<rect x="376.74" y="85.24" width="1.1" height="1.1" fill="#a6a044"/>
<rect x="379.41" y="64.47" width="1.1" height="1.1" fill="#a6a044"/>
<rect x="377.88" y="70.12" width="1.1" height="1.1" fill="#a6a044"/>
<rect x="376.50" y="74.96" width="1.1" height="1.1" fill="#909a40"/>
<rect x="377.26" y="73.61" width="1.1" height="1.1" fill="#b0a848"/>
<rect x="377.01" y="73.46" width="1.1" height="1.1" fill="#b0a848"/>
<rect x="376.91" y="75.71" width="1.1" height="1.1" fill="#a6a044"/>
<rect x="376.12" y="86.90" width="1.1" height="1.1" fill="#88923e"/>
<rect x="376.19" y="69.53" width="1.1" height="1.1" fill="#5e7e48"/>
<rect x="379.32" y="63.20" width="1.1" height="1.1" fill="#b0a848"/>
<rect x="377.03" y="74.65" width="1.1" height="1.1" fill="#b0a848"/>
<rect x="378.07" y="74.87" width="1.1" height="1.1" fill="#b0a848"/>
<rect x="378.53" y="64.41" width="1.1" height="1.1" fill="#a6a044"/>
<rect x="376.66" y="67.18" width="1.1" height="1.1" fill="#6e8444"/>
<rect x="379.48" y="68.83" width="1.1" height="1.1" fill="#6e8444"/>
<rect x="374.31" y="83.38" width="1.1" height="1.1" fill="#5e7e48"/>
<rect x="380.33" y="69.99" width="1.1" height="1.1" fill="#6e8444"/>
<rect x="380.45" y="65.65" width="1.1" height="1.1" fill="#2838c8"/>
<rect x="378.79" y="65.66" width="1.1" height="1.1" fill="#b0a848"/>
<rect x="377.83" y="70.83" width="1.1" height="1.1" fill="#a6a044"/>
<rect x="377.13" y="83.08" width="1.1" height="1.1" fill="#a6a044"/>
<rect x="379.39" y="62.20" width="1.1" height="1.1" fill="#a6a044"/>
<rect x="380.21" y="74.37" width="1.1" height="1.1" fill="#2838c8"/>
<rect x="377.95" y="75.53" width="1.1" height="1.1" fill="#a6a044"/>
<rect x="377.13" y="79.71" width="1.1" height="1.1" fill="#b0a848"/>
<rect x="376.37" y="69.00" width="1.1" height="1.1" fill="#5e7e48"/>
<rect x="378.17" y="64.95" width="1.1" height="1.1" fill="#a6a044"/>
<rect x="375.89" y="75.65" width="1.1" height="1.1" fill="#88923e"/>
<rect x="375.66" y="78.92" width="1.1" height="1.1" fill="#909a40"/>
<rect x="377.27" y="76.18" width="1.1" height="1.1" fill="#a6a044"/>
<rect x="375.44" y="82.83" width="1.1" height="1.1" fill="#88923e"/>
<rect x="377.66" y="63.55" width="1.1" height="1.1" fill="#88923e"/>
<rect x="377.11" y="68.41" width="1.1" height="1.1" fill="#88923e"/>
<rect x="376.46" y="85.00" width="1.1" height="1.1" fill="#a6a044"/>
<rect x="377.55" y="72.89" width="1.1" height="1.1" fill="#b0a848"/>
<rect x="377.83" y="75.30" width="1.1" height="1.1" fill="#b0a848"/>
<rect x="376.58" y="77.14" width="1.1" height="1.1" fill="#b0a848"/>
<rect x="380.13" y="63.17" width="1.1" height="1.1" fill="#5e7e48"/>
<rect x="377.52" y="79.68" width="1.1" height="1.1" fill="#b0a848"/>
<rect x="378.03" y="85.37" width="1.1" height="1.1" fill="#6e8444"/>
<rect x="375.90" y="77.13" width="1.1" height="1.1" fill="#88923e"/>
<rect x="376.43" y="82.53" width="1.1" height="1.1" fill="#b0a848"/>
<rect x="376.33" y="77.37" width="1.1" height="1.1" fill="#a6a044"/>
<rect x="376.77" y="71.38" width="1.1" height="1.1" fill="#88923e"/>
<rect x="375.85" y="85.87" width="1.1" height="1.1" fill="#909a40"/>
<rect x="377.12" y="80.82" width="1.1" height="1.1" fill="#b0a848"/>
<rect x="378.08" y="62.64" width="1.1" height="1.1" fill="#b0a848"/>
<rect x="375.20" y="86.26" width="1.1" height="1.1" fill="#88923e"/>
<rect x="378.05" y="77.68" width="1.1" height="1.1" fill="#909a40"/>
<rect x="378.44" y="71.88" width="1.1" height="1.1" fill="#b0a848"/>
<rect x="379.57" y="65.51" width="1.1" height="1.1" fill="#909a40"/>
<rect x="374.91" y="85.33" width="1.1" height="1.1" fill="#88923e"/>
<rect x="377.22" y="78.45" width="1.1" height="1.1" fill="#a6a044"/>
<rect x="377.83" y="68.31" width="1.1" height="1.1" fill="#a6a044"/>
<rect x="378.46" y="69.66" width="1.1" height="1.1" fill="#b0a848"/>
<rect x="378.86" y="68.05" width="1.1" height="1.1" fill="#a6a044"/>
<rect x="375.63" y="79.67" width="1.1" height="1.1" fill="#88923e"/>
<rect x="375.71" y="81.90" width="1.1" height="1.1" fill="#909a40"/>
<rect x="376.56" y="66.37" width="1.1" height="1.1" fill="#6e8444"/>
<rect x="379.20" y="65.93" width="1.1" height="1.1" fill="#b0a848"/>
<rect x="377.20" y="71.54" width="1.1" height="1.1" fill="#a6a044"/>
<rect x="377.14" y="80.22" width="1.1" height="1.1" fill="#a6a044"/>
<rect x="377.08" y="72.88" width="1.1" height="1.1" fill="#a6a044"/>
<rect x="379.56" y="61.88" width="1.1" height="1.1" fill="#a6a044"/>
<rect x="377.02" y="75.44" width="1.1" height="1.1" fill="#b0a848"/>
<rect x="374.90" y="77.84" width="1.1" height="1.1" fill="#3050e0"/>
<rect x="376.38" y="71.11" width="1.1" height="1.1" fill="#5e7e48"/>
<rect x="376.53" y="86.95" width="1.1" height="1.1" fill="#88923e"/>
<rect x="379.55" y="63.01" width="1.1" height="1.1" fill="#a6a044"/>
<rect x="378.59" y="66.58" width="1.1" height="1.1" fill="#b0a848"/>
<rect x="378.29" y="74.17" width="1.1" height="1.1" fill="#909a40"/>
<rect x="376.34" y="85.32" width="1.1" height="1.1" fill="#b0a848"/>
<rect x="379.41" y="64.42" width="1.1" height="1.1" fill="#88923e"/>
<rect x="378.60" y="64.43" width="1.1" height="1.1" fill="#a6a044"/>
<rect x="374.76" y="87.34" width="1.1" height="1.1" fill="#5e7e48"/>
<rect x="376.79" y="69.60" width="1.1" height="1.1" fill="#88923e"/>
<rect x="379.04" y="69.57" width="1.1" height="1.1" fill="#909a40"/>
<rect x="375.76" y="79.05" width="1.1" height="1.1" fill="#909a40"/>
<rect x="377.72" y="66.08" width="1.1" height="1.1" fill="#b0a848"/>
<rect x="379.04" y="66.94" width="1.1" height="1.1" fill="#a6a044"/>
<rect x="376.20" y="87.33" width="1.1" height="1.1" fill="#88923e"/>
<rect x="377.16" y="63.53" width="1.1" height="1.1" fill="#5e7e48"/>
<rect x="379.83" y="68.18" width="1.1" height="1.1" fill="#5e7e48"/>
<rect x="375.85" y="83.37" width="1.1" height="1.1" fill="#a6a044"/>
<rect x="378.63" y="65.16" width="1.1" height="1.1" fill="#a6a044"/>
<rect x="378.15" y="78.55" width="1.1" height="1.1" fill="#88923e"/>
<rect x="378.10" y="70.20" width="1.1" height="1.1" fill="#a6a044"/>
<rect x="378.32" y="68.91" width="1.1" height="1.1" fill="#a6a044"/>
<rect x="377.69" y="64.45" width="1.1" height="1.1" fill="#a6a044"/>
<rect x="375.39" y="87.33" width="1.1" height="1.1" fill="#88923e"/>
<rect x="378.92" y="77.47" width="1.1" height="1.1" fill="#6e8444"/>
<rect x="377.18" y="84.72" width="1.1" height="1.1" fill="#909a40"/>
<rect x="378.63" y="71.41" width="1.1" height="1.1" fill="#a6a044"/>
<rect x="378.20" y="71.33" width="1.1" height="1.1" fill="#b0a848"/>
<rect x="378.97" y="71.67" width="1.1" height="1.1" fill="#909a40"/>
<rect x="375.08" y="83.14" width="1.1" height="1.1" fill="#5e7e48"/>
<rect x="377.66" y="65.44" width="1.1" height="1.1" fill="#b0a848"/>
<rect x="377.33" y="70.85" width="1.1" height="1.1" fill="#b0a848"/>
<rect x="375.85" y="84.78" width="1.1" height="1.1" fill="#a6a044"/>
<rect x="378.87" y="72.27" width="1.1" height="1.1" fill="#909a40"/>
<rect x="376.47" y="85.13" width="1.1" height="1.1" fill="#a6a044"/>
<rect x="378.99" y="64.11" width="1.1" height="1.1" fill="#a6a044"/>
<rect x="375.46" y="82.53" width="1.1" height="1.1" fill="#909a40"/>
<rect x="379.96" y="63.76" width="1.1" height="1.1" fill="#88923e"/>
<rect x="377.51" y="75.82" width="1.1" height="1.1" fill="#a6a044"/>
<rect x="379.03" y="65.01" width="1.1" height="1.1" fill="#a6a044"/>
<rect x="376.98" y="69.58" width="1.1" height="1.1" fill="#88923e"/>
<rect x="376.80" y="75.57" width="1.1" height="1.1" fill="#a6a044"/>
<rect x="377.86" y="64.06" width="1.1" height="1.1" fill="#88923e"/>
<rect x="377.03" y="76.73" width="1.1" height="1.1" fill="#a6a044"/>
<rect x="376.35" y="76.39" width="1.1" height="1.1" fill="#909a40"/>
<rect x="376.93" y="76.68" width="1.1" height="1.1" fill="#a6a044"/>
<rect x="379.50" y="63.90" width="1.1" height="1.1" fill="#b0a848"/>
<rect x="379.24" y="67.40" width="1.1" height="1.1" fill="#909a40"/>
<rect x="378.69" y="71.17" width="1.1" height="1.1" fill="#909a40"/>
<rect x="376.50" y="76.92" width="1.1" height="1.1" fill="#b0a848"/>
<rect x="377.70" y="68.14" width="1.1" height="1.1" fill="#a6a044"/>
<rect x="377.99" y="64.96" width="1.1" height="1.1" fill="#a6a044"/>
<rect x="378.54" y="63.52" width="1.1" height="1.1" fill="#a6a044"/>
<rect x="376.93" y="70.82" width="1.1" height="1.1" fill="#88923e"/>
<rect x="374.46" y="80.00" width="1.1" height="1.1" fill="#2838c8"/>
<rect x="377.55" y="66.25" width="1.1" height="1.1" fill="#88923e"/>
<rect x="375.03" y="86.36" width="1.1" height="1.1" fill="#6e8444"/>
<rect x="377.65" y="66.54" width="1.1" height="1.1" fill="#b0a848"/>
<rect x="376.52" y="71.91" width="1.1" height="1.1" fill="#909a40"/>
<rect x="380.45" y="66.34" width="1.1" height="1.1" fill="#3050e0"/>
<rect x="377.95" y="62.40" width="1.1" height="1.1" fill="#88923e"/>
<rect x="378.74" y="80.04" width="1.1" height="1.1" fill="#6e8444"/>
<rect x="375.49" y="84.64" width="1.1" height="1.1" fill="#b0a848"/>
<rect x="376.68" y="69.57" width="1.1" height="1.1" fill="#88923e"/>
<rect x="379.89" y="65.88" width="1.1" height="1.1" fill="#5e7e48"/>
<rect x="378.40" y="73.89" width="1.1" height="1.1" fill="#88923e"/>
<rect x="375.01" y="86.91" width="1.1" height="1.1" fill="#909a40"/>
<rect x="377.92" y="69.32" width="1.1" height="1.1" fill="#b0a848"/>
<rect x="379.38" y="67.17" width="1.1" height="1.1" fill="#909a40"/>
<rect x="376.35" y="83.85" width="1.1" height="1.1" fill="#a6a044"/>
<rect x="377.76" y="71.93" width="1.1" height="1.1" fill="#a6a044"/>
<rect x="376.14" y="73.46" width="1.1" height="1.1" fill="#6e8444"/>
<rect x="378.88" y="68.91" width="1.1" height="1.1" fill="#b0a848"/>
<rect x="379.30" y="76.37" width="1.1" height="1.1" fill="#5e7e48"/>
<rect x="377.49" y="77.80" width="1.1" height="1.1" fill="#b0a848"/>
<rect x="377.55" y="75.74" width="1.1" height="1.1" fill="#b0a848"/>
<rect x="377.32" y="70.44" width="1.1" height="1.1" fill="#a6a044"/>
<rect x="375.11" y="79.87" width="1.1" height="1.1" fill="#6e8444"/>
<rect x="375.34" y="85.42" width="1.1" height="1.1" fill="#b0a848"/>
<rect x="377.50" y="62.68" width="1.1" height="1.1" fill="#6e8444"/>
<rect x="376.83" y="79.82" width="1.1" height="1.1" fill="#b0a848"/>
<rect x="378.73" y="78.68" width="1.1" height="1.1" fill="#6e8444"/>
<rect x="376.82" y="73.59" width="1.1" height="1.1" fill="#a6a044"/>
<rect x="377.13" y="79.36" width="1.1" height="1.1" fill="#a6a044"/>
<rect x="378.80" y="66.90" width="1.1" height="1.1" fill="#b0a848"/>
<rect x="377.50" y="66.34" width="1.1" height="1.1" fill="#88923e"/>
<rect x="378.59" y="77.87" width="1.1" height="1.1" fill="#5e7e48"/>
<rect x="379.50" y="65.99" width="1.1" height="1.1" fill="#909a40"/>
<rect x="377.28" y="80.77" width="1.1" height="1.1" fill="#a6a044"/>
<rect x="378.83" y="72.20" width="1.1" height="1.1" fill="#88923e"/>
<rect x="376.38" y="70.27" width="1.1" height="1.1" fill="#6e8444"/>
<rect x="376.97" y="71.72" width="1.1" height="1.1" fill="#b0a848"/>
<rect x="377.31" y="66.72" width="1.1" height="1.1" fill="#88923e"/>
<rect x="380.05" y="62.15" width="1.1" height="1.1" fill="#909a40"/>
<rect x="375.06" y="79.59" width="1.1" height="1.1" fill="#5e7e48"/>
<rect x="377.04" y="76.68" width="1.1" height="1.1" fill="#b0a848"/>
<rect x="377.64" y="72.09" width="1.1" height="1.1" fill="#b0a848"/>
<rect x="376.42" y="75.55" width="1.1" height="1.1" fill="#88923e"/>
<rect x="378.36" y="74.40" width="1.1" height="1.1" fill="#88923e"/>
<rect x="376.79" y="64.46" width="1.1" height="1.1" fill="#6e8444"/>
<rect x="377.51" y="62.64" width="1.1" height="1.1" fill="#909a40"/>
<rect x="378.19" y="78.83" width="1.1" height="1.1" fill="#909a40"/>
<rect x="377.24" y="76.45" width="1.1" height="1.1" fill="#b0a848"/>
<rect x="376.78" y="77.79" width="1.1" height="1.1" fill="#a6a044"/>
<rect x="375.95" y="85.59" width="1.1" height="1.1" fill="#88923e"/>
<rect x="378.81" y="72.64" width="1.1" height="1.1" fill="#88923e"/>
<rect x="376.03" y="77.66" width="1.1" height="1.1" fill="#88923e"/>
<rect x="377.01" y="79.78" width="1.1" height="1.1" fill="#a6a044"/>
<rect x="376.60" y="81.34" width="1.1" height="1.1" fill="#a6a044"/>
<rect x="376.63" y="82.26" width="1.1" height="1.1" fill="#b0a848"/>
<rect x="378.18" y="77.43" width="1.1" height="1.1" fill="#88923e"/>
<rect x="377.13" y="67.88" width="1.1" height="1.1" fill="#909a40"/>
<rect x="378.31" y="66.00" width="1.1" height="1.1" fill="#b0a848"/>
<rect x="377.02" y="85.77" width="1.1" height="1.1" fill="#88923e"/>
<rect x="378.56" y="65.69" width="1.1" height="1.1" fill="#b0a848"/>
<rect x="375.69" y="83.17" width="1.1" height="1.1" fill="#a6a044"/>
<rect x="376.82" y="65.50" width="1.1" height="1.1" fill="#6e8444"/>
<rect x="381.17" y="75.59" width="1.0" height="1.0" fill="#3050e0"/>
<rect x="380.39" y="74.69" width="1.0" height="1.0" fill="#2233cc"/>
<rect x="381.96" y="67.14" width="1.0" height="1.0" fill="#2233cc"/>
<rect x="381.03" y="62.91" width="1.0" height="1.0" fill="#3050e0"/>
<rect x="381.41" y="64.04" width="1.0" height="1.0" fill="#3050e0"/>
<rect x="377.64" y="86.92" width="1.0" height="1.0" fill="#2233cc"/>
<rect x="380.29" y="69.65" width="1.0" height="1.0" fill="#2233cc"/>
<rect x="379.42" y="73.15" width="1.0" height="1.0" fill="#2233cc"/>
<rect x="380.76" y="75.61" width="1.0" height="1.0" fill="#2233cc"/>
<rect x="380.41" y="79.56" width="1.0" height="1.0" fill="#2233cc"/>
<rect x="380.97" y="66.74" width="1.0" height="1.0" fill="#2233cc"/>
<rect x="380.82" y="68.83" width="1.0" height="1.0" fill="#3050e0"/>
<rect x="378.56" y="82.47" width="1.0" height="1.0" fill="#3050e0"/>
<rect x="378.80" y="84.38" width="1.0" height="1.0" fill="#2233cc"/>
<rect x="380.12" y="85.75" width="1.0" height="1.0" fill="#2233cc"/>
<rect x="380.91" y="67.92" width="1.0" height="1.0" fill="#3050e0"/>
<rect x="380.17" y="77.77" width="1.0" height="1.0" fill="#2233cc"/>
<rect x="379.64" y="82.01" width="1.0" height="1.0" fill="#3050e0"/>
<rect x="379.91" y="75.32" width="1.0" height="1.0" fill="#3050e0"/>
<rect x="380.05" y="72.38" width="1.0" height="1.0" fill="#2233cc"/>
<rect x="380.73" y="67.07" width="1.0" height="1.0" fill="#2233cc"/>
<rect x="379.65" y="82.18" width="1.0" height="1.0" fill="#2233cc"/>
<rect x="379.45" y="85.46" width="1.0" height="1.0" fill="#3050e0"/>
<rect x="380.58" y="68.17" width="1.0" height="1.0" fill="#2233cc"/>
<rect x="380.64" y="67.52" width="1.0" height="1.0" fill="#2233cc"/>
<rect x="377.81" y="87.26" width="1.0" height="1.0" fill="#3050e0"/>
<rect x="379.63" y="83.23" width="1.0" height="1.0" fill="#2233cc"/>
<rect x="379.57" y="78.05" width="1.0" height="1.0" fill="#3050e0"/>
<rect x="379.37" y="78.66" width="1.0" height="1.0" fill="#3050e0"/>
<rect x="379.79" y="83.09" width="1.0" height="1.0" fill="#2233cc"/>
<rect x="380.49" y="73.93" width="1.0" height="1.0" fill="#2233cc"/>
<rect x="380.03" y="74.51" width="1.0" height="1.0" fill="#2233cc"/>
<rect x="379.78" y="87.26" width="1.0" height="1.0" fill="#3050e0"/>
<rect x="379.16" y="84.28" width="1.0" height="1.0" fill="#3050e0"/>
<rect x="378.74" y="81.07" width="1.0" height="1.0" fill="#2233cc"/>
<rect x="379.53" y="80.50" width="1.0" height="1.0" fill="#2233cc"/>
<rect x="380.84" y="69.56" width="1.0" height="1.0" fill="#2233cc"/>
<rect x="379.32" y="86.07" width="1.0" height="1.0" fill="#3050e0"/>
<rect x="380.51" y="71.62" width="1.0" height="1.0" fill="#2233cc"/>
<rect x="380.77" y="73.13" width="1.0" height="1.0" fill="#3050e0"/>
<rect x="373.29" y="57.09" width="1.0" height="1.0" fill="#d8e8c8"/>
<rect x="373.75" y="67.10" width="1.0" height="1.0" fill="#e0ecd0"/>
<rect x="373.42" y="64.97" width="1.0" height="1.0" fill="#e0ecd0"/>
<rect x="373.68" y="60.41" width="1.0" height="1.0" fill="#e0ecd0"/>
<rect x="373.32" y="60.45" width="1.0" height="1.0" fill="#d8e8c8"/>
<rect x="373.78" y="60.24" width="1.0" height="1.0" fill="#e0ecd0"/>
<rect x="373.79" y="68.44" width="1.0" height="1.0" fill="#e0ecd0"/>
<rect x="374.20" y="59.09" width="1.0" height="1.0" fill="#d8e8c8"/>
<rect x="373.91" y="61.89" width="1.0" height="1.0" fill="#d8e8c8"/>
<rect x="373.48" y="57.87" width="1.0" height="1.0" fill="#e0ecd0"/>
<rect x="373.49" y="63.19" width="1.0" height="1.0" fill="#e0ecd0"/>
<rect x="374.30" y="69.56" width="1.0" height="1.0" fill="#3050e0"/>
<rect x="374.89" y="74.61" width="1.0" height="1.0" fill="#2233cc"/>
<rect x="374.21" y="69.63" width="1.0" height="1.0" fill="#2233cc"/>
<rect x="374.89" y="72.12" width="1.0" height="1.0" fill="#2233cc"/>
<rect x="374.88" y="80.85" width="1.0" height="1.0" fill="#2233cc"/>
<rect x="376.53" y="88.42" width="1.0" height="1.0" fill="#e4e4a0"/>
<rect x="373.30" y="88.18" width="1.0" height="1.0" fill="#eaeab0"/>
<rect x="374.53" y="89.19" width="1.0" height="1.0" fill="#eaeab0"/>
<rect x="375.97" y="89.46" width="1.0" height="1.0" fill="#e4e4a0"/>
<rect x="374.20" y="89.23" width="1.0" height="1.0" fill="#eaeab0"/>
<rect x="373.46" y="92.04" width="1.0" height="1.0" fill="#eaeab0"/>
<rect x="375.58" y="90.19" width="1.0" height="1.0" fill="#eaeab0"/>
<rect x="374.82" y="86.57" width="1.0" height="1.0" fill="#eaeab0"/>
<rect x="373.20" y="90.02" width="1.0" height="1.0" fill="#e4e4a0"/>
<rect x="374.02" y="93.36" width="1.0" height="1.0" fill="#eaeab0"/>
<rect x="373.44" y="89.06" width="1.0" height="1.0" fill="#eaeab0"/>
<rect x="372.38" y="94.46" width="1.0" height="1.0" fill="#e4e4a0"/>
<rect x="373.01" y="88.32" width="1.0" height="1.0" fill="#eaeab0"/>
<text x="374.40000000000003" y="47.199999999999996" font-size="4.4" text-anchor="start" fill="#111" stroke="#111" stroke-width="0.2">g3</text>
<text x="392.5" y="63.400000000000006" font-size="4.9" text-anchor="start" fill="#111" stroke="#111" stroke-width="0.15">g2 s m</text>
<text x="375.40000000000003" y="94.8" font-size="4.6" text-anchor="start" fill="#111" stroke="#111" stroke-width="0.15">g0</text>
<line x1="371.0" y1="45.8" x2="372.6" y2="45.8" stroke="#333" stroke-width="0.6"/>
<text x="369.20000000000005" y="47.3" font-size="4.2" font-weight="bold" text-anchor="end" fill="#333" >10<tspan font-size="3.0" dy="-1.7">5</tspan></text>
<line x1="371.0" y1="58" x2="372.6" y2="58" stroke="#333" stroke-width="0.6"/>
<text x="369.20000000000005" y="59.5" font-size="4.2" font-weight="bold" text-anchor="end" fill="#333" >10<tspan font-size="3.0" dy="-1.7">4</tspan></text>
<line x1="371.0" y1="69.8" x2="372.6" y2="69.8" stroke="#333" stroke-width="0.6"/>
<text x="369.20000000000005" y="71.3" font-size="4.2" font-weight="bold" text-anchor="end" fill="#333" >10<tspan font-size="3.0" dy="-1.7">3</tspan></text>
<line x1="371.0" y1="86.7" x2="372.6" y2="86.7" stroke="#333" stroke-width="0.6"/>
<text x="368.6" y="88.2" font-size="4.2" font-weight="bold" text-anchor="end" fill="#333" >0</text>
<rect x="370.8" y="85.2" width="1.4" height="3" fill="#111"/>
<line x1="372.9" y1="98.6" x2="372.9" y2="99.6" stroke="#555" stroke-width="0.5"/>
<text transform="translate(374.5,104.0) rotate(-45)" font-size="4.1" font-weight="bold" text-anchor="end" fill="#333">0</text>
<line x1="385.0" y1="98.6" x2="385.0" y2="99.6" stroke="#555" stroke-width="0.5"/>
<text transform="translate(384.8,103.5) rotate(-45)" font-size="4.1" font-weight="bold" text-anchor="end" fill="#333">50K</text>
<line x1="397.2" y1="98.6" x2="397.2" y2="99.6" stroke="#555" stroke-width="0.5"/>
<text transform="translate(397.0,103.5) rotate(-45)" font-size="4.1" font-weight="bold" text-anchor="end" fill="#333">100K</text>
<line x1="409.3" y1="98.6" x2="409.3" y2="99.6" stroke="#555" stroke-width="0.5"/>
<text transform="translate(409.1,103.5) rotate(-45)" font-size="4.1" font-weight="bold" text-anchor="end" fill="#333">150K</text>
<line x1="421.4" y1="98.6" x2="421.4" y2="99.6" stroke="#555" stroke-width="0.5"/>
<text transform="translate(421.2,103.5) rotate(-45)" font-size="4.1" font-weight="bold" text-anchor="end" fill="#333">200K</text>
<line x1="433.6" y1="98.6" x2="433.6" y2="99.6" stroke="#555" stroke-width="0.5"/>
<text transform="translate(433.4,103.5) rotate(-45)" font-size="4.1" font-weight="bold" text-anchor="end" fill="#333">250K</text>
<rect x="78.3" y="130.9" width="60.10000000000001" height="55.19999999999999" fill="none" stroke="#777" stroke-width="0.7"/>
<path d="M80.3,178 V145.1 H97.5 V163.8 H80.3 M86.1,145.1 V178 H80.3" fill="none" stroke="#444" stroke-width="0.6"/>
<circle cx="81.89" cy="161.10" r="0.96" fill="none" stroke="#8a96e8" stroke-width="0.45"/>
<circle cx="81.32" cy="169.88" r="0.96" fill="none" stroke="#8a96e8" stroke-width="0.45"/>
<circle cx="82.42" cy="175.84" r="0.96" fill="none" stroke="#2030b8" stroke-width="0.45"/>
<circle cx="82.90" cy="167.77" r="0.96" fill="none" stroke="#3848d8" stroke-width="0.45"/>
<circle cx="82.33" cy="166.56" r="0.96" fill="none" stroke="#3848d8" stroke-width="0.45"/>
<circle cx="81.63" cy="158.37" r="0.96" fill="none" stroke="#8a96e8" stroke-width="0.45"/>
<circle cx="82.13" cy="158.76" r="0.96" fill="none" stroke="#2030b8" stroke-width="0.45"/>
<circle cx="83.08" cy="166.80" r="0.96" fill="none" stroke="#3848d8" stroke-width="0.45"/>
<circle cx="83.46" cy="169.38" r="0.96" fill="none" stroke="#2030b8" stroke-width="0.45"/>
<circle cx="83.90" cy="176.00" r="0.96" fill="none" stroke="#3848d8" stroke-width="0.45"/>
<circle cx="84.95" cy="164.11" r="0.96" fill="none" stroke="#3848d8" stroke-width="0.45"/>
<circle cx="80.80" cy="176.00" r="0.96" fill="none" stroke="#3848d8" stroke-width="0.45"/>
<circle cx="80.80" cy="161.17" r="0.96" fill="none" stroke="#3848d8" stroke-width="0.45"/>
<circle cx="81.62" cy="176.00" r="0.96" fill="none" stroke="#2030b8" stroke-width="0.45"/>
<circle cx="84.89" cy="169.57" r="0.96" fill="none" stroke="#2030b8" stroke-width="0.45"/>
<circle cx="82.67" cy="169.23" r="0.96" fill="none" stroke="#2030b8" stroke-width="0.45"/>
<circle cx="84.36" cy="166.33" r="0.96" fill="none" stroke="#6070e0" stroke-width="0.45"/>
<circle cx="83.43" cy="168.82" r="0.96" fill="none" stroke="#3848d8" stroke-width="0.45"/>
<circle cx="83.11" cy="160.62" r="0.96" fill="none" stroke="#8a96e8" stroke-width="0.45"/>
<circle cx="83.16" cy="161.32" r="0.96" fill="none" stroke="#3848d8" stroke-width="0.45"/>
<circle cx="82.93" cy="175.06" r="0.96" fill="none" stroke="#2030b8" stroke-width="0.45"/>
<circle cx="82.66" cy="160.64" r="0.96" fill="none" stroke="#6070e0" stroke-width="0.45"/>
<circle cx="83.80" cy="168.20" r="0.96" fill="none" stroke="#6070e0" stroke-width="0.45"/>
<circle cx="81.43" cy="176.00" r="0.96" fill="none" stroke="#3848d8" stroke-width="0.45"/>
<circle cx="82.93" cy="164.33" r="0.96" fill="none" stroke="#8a96e8" stroke-width="0.45"/>
<circle cx="84.21" cy="163.14" r="0.96" fill="none" stroke="#6070e0" stroke-width="0.45"/>
<circle cx="82.23" cy="165.42" r="0.96" fill="none" stroke="#8a96e8" stroke-width="0.45"/>
<circle cx="84.46" cy="172.21" r="0.96" fill="none" stroke="#2030b8" stroke-width="0.45"/>
<circle cx="84.19" cy="163.29" r="0.96" fill="none" stroke="#6070e0" stroke-width="0.45"/>
<circle cx="82.07" cy="176.00" r="0.96" fill="none" stroke="#6070e0" stroke-width="0.45"/>
<circle cx="82.31" cy="170.34" r="0.96" fill="none" stroke="#2030b8" stroke-width="0.45"/>
<circle cx="84.04" cy="152.05" r="0.96" fill="none" stroke="#8a96e8" stroke-width="0.45"/>
<circle cx="84.75" cy="171.20" r="0.96" fill="none" stroke="#8a96e8" stroke-width="0.45"/>
<circle cx="82.23" cy="171.62" r="0.96" fill="none" stroke="#3848d8" stroke-width="0.45"/>
<circle cx="81.76" cy="165.10" r="0.96" fill="none" stroke="#6070e0" stroke-width="0.45"/>
<circle cx="82.66" cy="165.41" r="0.96" fill="none" stroke="#3848d8" stroke-width="0.45"/>
<circle cx="84.18" cy="171.27" r="0.96" fill="none" stroke="#2030b8" stroke-width="0.45"/>
<circle cx="81.86" cy="165.13" r="0.96" fill="none" stroke="#3848d8" stroke-width="0.45"/>
<circle cx="84.60" cy="165.14" r="0.96" fill="none" stroke="#8a96e8" stroke-width="0.45"/>
<rect x="82.97" y="154.60" width="1.6" height="1.6" fill="#6070e0"/>
<circle cx="82.12" cy="170.19" r="0.96" fill="none" stroke="#6070e0" stroke-width="0.45"/>
<circle cx="81.22" cy="174.67" r="0.96" fill="none" stroke="#3848d8" stroke-width="0.45"/>
<circle cx="81.57" cy="176.00" r="0.96" fill="none" stroke="#3848d8" stroke-width="0.45"/>
<rect x="81.74" y="168.39" width="1.6" height="1.6" fill="#6070e0"/>
<circle cx="82.02" cy="174.68" r="0.96" fill="none" stroke="#2030b8" stroke-width="0.45"/>
<rect x="81.62" y="169.30" width="1.2" height="1.2" fill="#3848d8"/>
<rect x="81.27" y="167.44" width="1.2" height="1.2" fill="#2030b8"/>
<rect x="80.78" y="169.29" width="1.2" height="1.2" fill="#3848d8"/>
<rect x="82.08" y="171.15" width="1.2" height="1.2" fill="#2030b8"/>
<rect x="81.95" y="165.85" width="1.2" height="1.2" fill="#2030b8"/>
<rect x="81.41" y="166.09" width="1.2" height="1.2" fill="#2030b8"/>
<rect x="81.67" y="168.28" width="1.2" height="1.2" fill="#2030b8"/>
<rect x="82.25" y="171.23" width="1.2" height="1.2" fill="#2030b8"/>
<rect x="81.35" y="164.40" width="1.2" height="1.2" fill="#2030b8"/>
<rect x="82.40" y="169.59" width="1.2" height="1.2" fill="#2030b8"/>
<rect x="80.71" y="171.71" width="1.2" height="1.2" fill="#2030b8"/>
<rect x="81.70" y="170.11" width="1.2" height="1.2" fill="#2030b8"/>
<rect x="82.06" y="171.25" width="1.2" height="1.2" fill="#3848d8"/>
<rect x="81.58" y="164.40" width="1.2" height="1.2" fill="#2030b8"/>
<text x="80.1" y="136.9" font-size="4.4" text-anchor="start" fill="#111" stroke="#111" stroke-width="0.2">g3</text>
<text x="97.7" y="153.29999999999998" font-size="4.9" text-anchor="start" fill="#111" stroke="#111" stroke-width="0.15">g2 s m</text>
<text x="81.39999999999999" y="182.3" font-size="4.6" text-anchor="start" fill="#111" stroke="#111" stroke-width="0.15">g0</text>
<line x1="76.7" y1="135.5" x2="78.3" y2="135.5" stroke="#333" stroke-width="0.6"/>
<text x="74.89999999999999" y="137.0" font-size="4.2" font-weight="bold" text-anchor="end" fill="#333" >10<tspan font-size="3.0" dy="-1.7">5</tspan></text>
<line x1="76.7" y1="146.9" x2="78.3" y2="146.9" stroke="#333" stroke-width="0.6"/>
<text x="74.89999999999999" y="148.4" font-size="4.2" font-weight="bold" text-anchor="end" fill="#333" >10<tspan font-size="3.0" dy="-1.7">4</tspan></text>
<line x1="76.7" y1="159.2" x2="78.3" y2="159.2" stroke="#333" stroke-width="0.6"/>
<text x="74.89999999999999" y="160.7" font-size="4.2" font-weight="bold" text-anchor="end" fill="#333" >10<tspan font-size="3.0" dy="-1.7">3</tspan></text>
<line x1="76.7" y1="174.3" x2="78.3" y2="174.3" stroke="#333" stroke-width="0.6"/>
<text x="74.3" y="175.8" font-size="4.2" font-weight="bold" text-anchor="end" fill="#333" >0</text>
<rect x="76.5" y="172.8" width="1.4" height="3" fill="#111"/>
<line x1="78.6" y1="186.1" x2="78.6" y2="187.1" stroke="#555" stroke-width="0.5"/>
<text transform="translate(80.2,191.5) rotate(-45)" font-size="4.1" font-weight="bold" text-anchor="end" fill="#333">0</text>
<line x1="90.1" y1="186.1" x2="90.1" y2="187.1" stroke="#555" stroke-width="0.5"/>
<text transform="translate(89.9,191.0) rotate(-45)" font-size="4.1" font-weight="bold" text-anchor="end" fill="#333">50K</text>
<line x1="101.5" y1="186.1" x2="101.5" y2="187.1" stroke="#555" stroke-width="0.5"/>
<text transform="translate(101.3,191.0) rotate(-45)" font-size="4.1" font-weight="bold" text-anchor="end" fill="#333">100K</text>
<line x1="113.0" y1="186.1" x2="113.0" y2="187.1" stroke="#555" stroke-width="0.5"/>
<text transform="translate(112.8,191.0) rotate(-45)" font-size="4.1" font-weight="bold" text-anchor="end" fill="#333">150K</text>
<line x1="124.5" y1="186.1" x2="124.5" y2="187.1" stroke="#555" stroke-width="0.5"/>
<text transform="translate(124.3,191.0) rotate(-45)" font-size="4.1" font-weight="bold" text-anchor="end" fill="#333">200K</text>
<line x1="135.9" y1="186.1" x2="135.9" y2="187.1" stroke="#555" stroke-width="0.5"/>
<text transform="translate(135.7,191.0) rotate(-45)" font-size="4.1" font-weight="bold" text-anchor="end" fill="#333">250K</text>
<rect x="176.6" y="130.7" width="62.80000000000001" height="57.10000000000002" fill="none" stroke="#777" stroke-width="0.7"/>
<path d="M178.9,178.5 V145 H197.3 V165.3 H178.9 M186.3,145 V178.5 H178.9" fill="none" stroke="#444" stroke-width="0.6"/>
<circle cx="181.60" cy="163.36" r="0.96" fill="none" stroke="#6070e0" stroke-width="0.45"/>
<circle cx="183.48" cy="170.52" r="0.96" fill="none" stroke="#8a96e8" stroke-width="0.45"/>
<circle cx="183.25" cy="166.63" r="0.96" fill="none" stroke="#2030b8" stroke-width="0.45"/>
<circle cx="182.27" cy="166.98" r="0.96" fill="none" stroke="#3848d8" stroke-width="0.45"/>
<rect x="182.49" y="172.03" width="1.6" height="1.6" fill="#6070e0"/>
<circle cx="181.16" cy="164.78" r="0.96" fill="none" stroke="#3848d8" stroke-width="0.45"/>
<circle cx="181.61" cy="156.03" r="0.96" fill="none" stroke="#8a96e8" stroke-width="0.45"/>
<circle cx="182.38" cy="155.61" r="0.96" fill="none" stroke="#2030b8" stroke-width="0.45"/>
<rect x="182.64" y="154.72" width="1.6" height="1.6" fill="#6070e0"/>
<circle cx="182.87" cy="153.42" r="0.96" fill="none" stroke="#2030b8" stroke-width="0.45"/>
<rect x="184.57" y="148.20" width="1.6" height="1.6" fill="#b08840"/>
<circle cx="183.12" cy="161.25" r="0.96" fill="none" stroke="#6070e0" stroke-width="0.45"/>
<circle cx="182.30" cy="156.59" r="0.96" fill="none" stroke="#3848d8" stroke-width="0.45"/>
<circle cx="182.77" cy="164.51" r="0.96" fill="none" stroke="#8a96e8" stroke-width="0.45"/>
<circle cx="180.82" cy="154.89" r="0.96" fill="none" stroke="#6070e0" stroke-width="0.45"/>
<circle cx="181.70" cy="166.07" r="0.96" fill="none" stroke="#3848d8" stroke-width="0.45"/>
<circle cx="180.26" cy="175.21" r="0.96" fill="none" stroke="#3848d8" stroke-width="0.45"/>
<circle cx="184.43" cy="164.48" r="0.96" fill="none" stroke="#2030b8" stroke-width="0.45"/>
<circle cx="183.12" cy="171.08" r="0.96" fill="none" stroke="#3848d8" stroke-width="0.45"/>
<circle cx="179.97" cy="166.93" r="0.96" fill="none" stroke="#8a96e8" stroke-width="0.45"/>
<circle cx="182.16" cy="162.66" r="0.96" fill="none" stroke="#3848d8" stroke-width="0.45"/>
<rect x="181.43" y="149.85" width="1.6" height="1.6" fill="#a07830"/>
<circle cx="183.37" cy="171.43" r="0.96" fill="none" stroke="#8a96e8" stroke-width="0.45"/>
<circle cx="185.08" cy="163.05" r="0.96" fill="none" stroke="#3848d8" stroke-width="0.45"/>
<circle cx="182.30" cy="155.66" r="0.96" fill="none" stroke="#2030b8" stroke-width="0.45"/>
<circle cx="182.90" cy="172.28" r="0.96" fill="none" stroke="#3848d8" stroke-width="0.45"/>
<circle cx="181.65" cy="161.66" r="0.96" fill="none" stroke="#3848d8" stroke-width="0.45"/>
<circle cx="184.13" cy="157.89" r="0.96" fill="none" stroke="#8a96e8" stroke-width="0.45"/>
<circle cx="182.05" cy="167.57" r="0.96" fill="none" stroke="#3848d8" stroke-width="0.45"/>
<circle cx="183.20" cy="156.32" r="0.96" fill="none" stroke="#2030b8" stroke-width="0.45"/>
<circle cx="182.63" cy="158.57" r="0.96" fill="none" stroke="#2030b8" stroke-width="0.45"/>
<circle cx="184.03" cy="162.69" r="0.96" fill="none" stroke="#3848d8" stroke-width="0.45"/>
<rect x="182.29" y="165.67" width="1.6" height="1.6" fill="#6070e0"/>
<circle cx="183.04" cy="165.65" r="0.96" fill="none" stroke="#6070e0" stroke-width="0.45"/>
<circle cx="181.92" cy="162.23" r="0.96" fill="none" stroke="#2030b8" stroke-width="0.45"/>
<circle cx="183.63" cy="155.53" r="0.96" fill="none" stroke="#2030b8" stroke-width="0.45"/>
<circle cx="181.54" cy="169.91" r="0.96" fill="none" stroke="#2030b8" stroke-width="0.45"/>
<circle cx="184.34" cy="170.96" r="0.96" fill="none" stroke="#6070e0" stroke-width="0.45"/>
<circle cx="183.38" cy="158.32" r="0.96" fill="none" stroke="#2030b8" stroke-width="0.45"/>
<rect x="180.99" y="176.99" width="1.6" height="1.6" fill="#6070e0"/>
<circle cx="183.14" cy="164.34" r="0.96" fill="none" stroke="#3848d8" stroke-width="0.45"/>
<circle cx="181.65" cy="163.78" r="0.96" fill="none" stroke="#3848d8" stroke-width="0.45"/>
<circle cx="182.86" cy="160.24" r="0.96" fill="none" stroke="#6070e0" stroke-width="0.45"/>
<rect x="182.07" y="167.40" width="1.6" height="1.6" fill="#6070e0"/>
<circle cx="183.46" cy="163.06" r="0.96" fill="none" stroke="#2030b8" stroke-width="0.45"/>
<circle cx="181.30" cy="157.54" r="0.96" fill="none" stroke="#3848d8" stroke-width="0.45"/>
<circle cx="181.05" cy="171.74" r="0.96" fill="none" stroke="#3848d8" stroke-width="0.45"/>
<circle cx="182.24" cy="173.23" r="0.96" fill="none" stroke="#3848d8" stroke-width="0.45"/>
<circle cx="181.00" cy="167.65" r="0.96" fill="none" stroke="#6070e0" stroke-width="0.45"/>
<circle cx="183.15" cy="153.00" r="0.96" fill="none" stroke="#8a96e8" stroke-width="0.45"/>
<rect x="183.51" y="147.15" width="1.2" height="1.2" fill="#b08840"/>
<rect x="182.83" y="149.09" width="1.2" height="1.2" fill="#a07830"/>
<rect x="183.33" y="148.53" width="1.2" height="1.2" fill="#a07830"/>
<rect x="183.22" y="150.44" width="1.2" height="1.2" fill="#c09850"/>
<rect x="182.45" y="148.41" width="1.2" height="1.2" fill="#b08840"/>
<rect x="182.53" y="150.27" width="1.2" height="1.2" fill="#b08840"/>
<rect x="182.56" y="150.50" width="1.2" height="1.2" fill="#a07830"/>
<rect x="183.44" y="152.18" width="1.2" height="1.2" fill="#c09850"/>
<rect x="183.17" y="147.89" width="1.2" height="1.2" fill="#b08840"/>
<rect x="182.62" y="148.92" width="1.2" height="1.2" fill="#b08840"/>
<rect x="182.66" y="149.94" width="1.2" height="1.2" fill="#b08840"/>
<rect x="181.22" y="148.95" width="1.2" height="1.2" fill="#a07830"/>
<rect x="183.58" y="148.65" width="1.2" height="1.2" fill="#b08840"/>
<rect x="183.75" y="148.57" width="1.2" height="1.2" fill="#a07830"/>
<circle cx="193.02" cy="148.26" r="0.90" fill="none" stroke="#6070e0" stroke-width="0.45"/>
<circle cx="190.73" cy="148.99" r="0.90" fill="none" stroke="#6070e0" stroke-width="0.45"/>
<circle cx="187.90" cy="151.64" r="0.90" fill="none" stroke="#6070e0" stroke-width="0.45"/>
<circle cx="191.04" cy="150.29" r="0.90" fill="none" stroke="#8a96e8" stroke-width="0.45"/>
<circle cx="190.94" cy="150.70" r="0.90" fill="none" stroke="#6070e0" stroke-width="0.45"/>
<circle cx="186.88" cy="152.12" r="0.90" fill="none" stroke="#8a96e8" stroke-width="0.45"/>
<rect x="186.12" y="153.15" width="1.5" height="1.5" fill="#6070e0"/>
<circle cx="187.09" cy="154.55" r="0.90" fill="none" stroke="#3848d8" stroke-width="0.45"/>
<rect x="193.14" y="146.35" width="1.5" height="1.5" fill="#6070e0"/>
<circle cx="186.55" cy="152.26" r="0.90" fill="none" stroke="#3848d8" stroke-width="0.45"/>
<circle cx="186.75" cy="152.03" r="0.90" fill="none" stroke="#6070e0" stroke-width="0.45"/>
<circle cx="191.62" cy="148.78" r="0.90" fill="none" stroke="#8a96e8" stroke-width="0.45"/>
<circle cx="193.00" cy="160.00" r="0.90" fill="none" stroke="#6070e0" stroke-width="0.45"/>
<circle cx="191.50" cy="163.50" r="0.90" fill="none" stroke="#3848d8" stroke-width="0.45"/>
<text x="178.4" y="136.3" font-size="4.4" text-anchor="start" fill="#111" stroke="#111" stroke-width="0.2">g3</text>
<text x="197.5" y="153.2" font-size="4.9" text-anchor="start" fill="#111" stroke="#111" stroke-width="0.15">g2 s m</text>
<text x="180.0" y="182.8" font-size="4.6" text-anchor="start" fill="#111" stroke="#111" stroke-width="0.15">g0</text>
<line x1="175.0" y1="134.9" x2="176.6" y2="134.9" stroke="#333" stroke-width="0.6"/>
<text x="173.2" y="136.4" font-size="4.2" font-weight="bold" text-anchor="end" fill="#333" >10<tspan font-size="3.0" dy="-1.7">5</tspan></text>
<line x1="175.0" y1="147.5" x2="176.6" y2="147.5" stroke="#333" stroke-width="0.6"/>
<text x="173.2" y="149.0" font-size="4.2" font-weight="bold" text-anchor="end" fill="#333" >10<tspan font-size="3.0" dy="-1.7">4</tspan></text>
<line x1="175.0" y1="159.2" x2="176.6" y2="159.2" stroke="#333" stroke-width="0.6"/>
<text x="173.2" y="160.7" font-size="4.2" font-weight="bold" text-anchor="end" fill="#333" >10<tspan font-size="3.0" dy="-1.7">3</tspan></text>
<line x1="175.0" y1="175.4" x2="176.6" y2="175.4" stroke="#333" stroke-width="0.6"/>
<text x="172.6" y="176.9" font-size="4.2" font-weight="bold" text-anchor="end" fill="#333" >0</text>
<rect x="174.79999999999998" y="173.9" width="1.4" height="3" fill="#111"/>
<line x1="176.9" y1="187.8" x2="176.9" y2="188.8" stroke="#555" stroke-width="0.5"/>
<text transform="translate(178.5,193.2) rotate(-45)" font-size="4.1" font-weight="bold" text-anchor="end" fill="#333">0</text>
<line x1="188.9" y1="187.8" x2="188.9" y2="188.8" stroke="#555" stroke-width="0.5"/>
<text transform="translate(188.7,192.7) rotate(-45)" font-size="4.1" font-weight="bold" text-anchor="end" fill="#333">50K</text>
<line x1="200.9" y1="187.8" x2="200.9" y2="188.8" stroke="#555" stroke-width="0.5"/>
<text transform="translate(200.7,192.7) rotate(-45)" font-size="4.1" font-weight="bold" text-anchor="end" fill="#333">100K</text>
<line x1="212.8" y1="187.8" x2="212.8" y2="188.8" stroke="#555" stroke-width="0.5"/>
<text transform="translate(212.6,192.7) rotate(-45)" font-size="4.1" font-weight="bold" text-anchor="end" fill="#333">150K</text>
<line x1="224.8" y1="187.8" x2="224.8" y2="188.8" stroke="#555" stroke-width="0.5"/>
<text transform="translate(224.6,192.7) rotate(-45)" font-size="4.1" font-weight="bold" text-anchor="end" fill="#333">200K</text>
<line x1="236.8" y1="187.8" x2="236.8" y2="188.8" stroke="#555" stroke-width="0.5"/>
<text transform="translate(236.6,192.7) rotate(-45)" font-size="4.1" font-weight="bold" text-anchor="end" fill="#333">250K</text>
<rect x="274.5" y="130.7" width="63.10000000000002" height="56.70000000000002" fill="none" stroke="#777" stroke-width="0.7"/>
<path d="M277.5,178.4 V144.1 H295.3 V165.3 H277.5 M284.5,144.1 V178.4 H277.5" fill="none" stroke="#444" stroke-width="0.6"/>
<rect x="282.61" y="148.05" width="1.0" height="1.0" fill="#3848d8"/>
<rect x="280.25" y="170.59" width="1.0" height="1.0" fill="#3848d8"/>
<rect x="282.13" y="149.11" width="1.0" height="1.0" fill="#3848d8"/>
<rect x="280.74" y="157.46" width="1.0" height="1.0" fill="#3848d8"/>
<rect x="281.21" y="160.86" width="1.0" height="1.0" fill="#2030b0"/>
<rect x="281.42" y="150.44" width="1.0" height="1.0" fill="#2a38c0"/>
<rect x="281.03" y="157.74" width="1.0" height="1.0" fill="#2030b0"/>
<rect x="280.02" y="163.60" width="1.0" height="1.0" fill="#3848d8"/>
<rect x="283.17" y="151.50" width="1.0" height="1.0" fill="#2030b0"/>
<rect x="282.34" y="153.16" width="1.0" height="1.0" fill="#2a38c0"/>
<rect x="282.70" y="148.67" width="1.0" height="1.0" fill="#2a38c0"/>
<rect x="280.86" y="159.40" width="1.0" height="1.0" fill="#2a38c0"/>
<rect x="281.92" y="151.37" width="1.0" height="1.0" fill="#3848d8"/>
<rect x="281.50" y="166.08" width="1.0" height="1.0" fill="#2030b0"/>
<rect x="282.33" y="147.53" width="1.0" height="1.0" fill="#2a38c0"/>
<rect x="281.70" y="158.45" width="1.0" height="1.0" fill="#2a38c0"/>
<rect x="280.36" y="152.03" width="1.0" height="1.0" fill="#3848d8"/>
<rect x="279.23" y="175.58" width="1.0" height="1.0" fill="#2a38c0"/>
<rect x="279.73" y="175.36" width="1.0" height="1.0" fill="#2030b0"/>
<rect x="278.99" y="170.22" width="1.0" height="1.0" fill="#2a38c0"/>
<rect x="282.03" y="158.05" width="1.0" height="1.0" fill="#2030b0"/>
<rect x="279.84" y="164.89" width="1.0" height="1.0" fill="#3848d8"/>
<rect x="281.01" y="175.35" width="1.0" height="1.0" fill="#3848d8"/>
<rect x="280.77" y="163.51" width="1.0" height="1.0" fill="#2a38c0"/>
<rect x="281.03" y="157.29" width="1.0" height="1.0" fill="#2a38c0"/>
<rect x="279.15" y="166.31" width="1.0" height="1.0" fill="#2a38c0"/>
<rect x="281.54" y="161.10" width="1.0" height="1.0" fill="#2030b0"/>
<rect x="281.38" y="160.48" width="1.0" height="1.0" fill="#2030b0"/>
<rect x="279.16" y="171.81" width="1.0" height="1.0" fill="#2030b0"/>
<rect x="280.46" y="163.14" width="1.0" height="1.0" fill="#2030b0"/>
<rect x="281.01" y="153.80" width="1.0" height="1.0" fill="#2030b0"/>
<rect x="282.24" y="151.16" width="1.0" height="1.0" fill="#2030b0"/>
<rect x="280.36" y="171.70" width="1.0" height="1.0" fill="#2a38c0"/>
<rect x="281.01" y="159.14" width="1.0" height="1.0" fill="#2a38c0"/>
<rect x="280.44" y="162.82" width="1.0" height="1.0" fill="#2030b0"/>
<rect x="281.19" y="168.60" width="1.0" height="1.0" fill="#2030b0"/>
<rect x="280.13" y="167.49" width="1.0" height="1.0" fill="#3848d8"/>
<rect x="280.37" y="159.14" width="1.0" height="1.0" fill="#2030b0"/>
<rect x="280.82" y="156.86" width="1.0" height="1.0" fill="#2030b0"/>
<rect x="279.30" y="171.17" width="1.0" height="1.0" fill="#2a38c0"/>
<circle cx="281.29" cy="154.70" r="0.84" fill="none" stroke="#2030b8" stroke-width="0.45"/>
<circle cx="283.69" cy="148.18" r="0.84" fill="none" stroke="#2030b8" stroke-width="0.45"/>
<circle cx="281.70" cy="159.23" r="0.84" fill="none" stroke="#2030b8" stroke-width="0.45"/>
<circle cx="279.00" cy="174.35" r="0.84" fill="none" stroke="#2030b8" stroke-width="0.45"/>
<circle cx="282.44" cy="152.12" r="0.84" fill="none" stroke="#3848d8" stroke-width="0.45"/>
<circle cx="281.27" cy="161.39" r="0.84" fill="none" stroke="#2030b8" stroke-width="0.45"/>
<circle cx="280.34" cy="176.53" r="0.84" fill="none" stroke="#8a96e8" stroke-width="0.45"/>
<circle cx="281.09" cy="163.51" r="0.84" fill="none" stroke="#2030b8" stroke-width="0.45"/>
<circle cx="282.24" cy="163.51" r="0.84" fill="none" stroke="#3848d8" stroke-width="0.45"/>
<circle cx="282.26" cy="158.46" r="0.84" fill="none" stroke="#3848d8" stroke-width="0.45"/>
<circle cx="280.55" cy="175.46" r="0.84" fill="none" stroke="#3848d8" stroke-width="0.45"/>
<circle cx="281.31" cy="158.04" r="0.84" fill="none" stroke="#2030b8" stroke-width="0.45"/>
<circle cx="281.26" cy="155.38" r="0.84" fill="none" stroke="#3848d8" stroke-width="0.45"/>
<rect x="281.45" y="162.64" width="1.4" height="1.4" fill="#6070e0"/>
<circle cx="281.38" cy="174.68" r="0.84" fill="none" stroke="#6070e0" stroke-width="0.45"/>
<circle cx="280.63" cy="175.78" r="0.84" fill="none" stroke="#8a96e8" stroke-width="0.45"/>
<circle cx="281.55" cy="161.03" r="0.84" fill="none" stroke="#2030b8" stroke-width="0.45"/>
<circle cx="280.65" cy="175.13" r="0.84" fill="none" stroke="#3848d8" stroke-width="0.45"/>
<rect x="280.85" y="161.05" width="1.4" height="1.4" fill="#6070e0"/>
<circle cx="279.67" cy="172.61" r="0.84" fill="none" stroke="#3848d8" stroke-width="0.45"/>
<circle cx="281.42" cy="163.73" r="0.84" fill="none" stroke="#8a96e8" stroke-width="0.45"/>
<rect x="280.86" y="157.26" width="1.4" height="1.4" fill="#6070e0"/>
<rect x="281.72" y="155.88" width="1.4" height="1.4" fill="#6070e0"/>
<rect x="282.99" y="151.12" width="1.4" height="1.4" fill="#6070e0"/>
<circle cx="280.71" cy="172.99" r="0.84" fill="none" stroke="#3848d8" stroke-width="0.45"/>
<circle cx="287.33" cy="148.35" r="0.84" fill="none" stroke="#3848d8" stroke-width="0.45"/>
<circle cx="287.11" cy="149.56" r="0.84" fill="none" stroke="#6070e0" stroke-width="0.45"/>
<circle cx="288.46" cy="146.50" r="0.84" fill="none" stroke="#6070e0" stroke-width="0.45"/>
<circle cx="285.64" cy="150.85" r="0.84" fill="none" stroke="#6070e0" stroke-width="0.45"/>
<circle cx="287.05" cy="149.47" r="0.84" fill="none" stroke="#8a96e8" stroke-width="0.45"/>
<circle cx="288.71" cy="147.77" r="0.84" fill="none" stroke="#8a96e8" stroke-width="0.45"/>
<circle cx="287.60" cy="148.41" r="0.84" fill="none" stroke="#6070e0" stroke-width="0.45"/>
<text x="276.3" y="136.4" font-size="4.4" text-anchor="start" fill="#111" stroke="#111" stroke-width="0.2">g3</text>
<text x="295.5" y="152.29999999999998" font-size="4.9" text-anchor="start" fill="#111" stroke="#111" stroke-width="0.15">g2 s m</text>
<text x="278.6" y="182.70000000000002" font-size="4.6" text-anchor="start" fill="#111" stroke="#111" stroke-width="0.15">g0</text>
<line x1="272.9" y1="135" x2="274.5" y2="135" stroke="#333" stroke-width="0.6"/>
<text x="271.1" y="136.5" font-size="4.2" font-weight="bold" text-anchor="end" fill="#333" >10<tspan font-size="3.0" dy="-1.7">5</tspan></text>
<line x1="272.9" y1="147" x2="274.5" y2="147" stroke="#333" stroke-width="0.6"/>
<text x="271.1" y="148.5" font-size="4.2" font-weight="bold" text-anchor="end" fill="#333" >10<tspan font-size="3.0" dy="-1.7">4</tspan></text>
<line x1="272.9" y1="159" x2="274.5" y2="159" stroke="#333" stroke-width="0.6"/>
<text x="271.1" y="160.5" font-size="4.2" font-weight="bold" text-anchor="end" fill="#333" >10<tspan font-size="3.0" dy="-1.7">3</tspan></text>
<line x1="272.9" y1="175" x2="274.5" y2="175" stroke="#333" stroke-width="0.6"/>
<text x="270.5" y="176.5" font-size="4.2" font-weight="bold" text-anchor="end" fill="#333" >0</text>
<rect x="272.7" y="173.5" width="1.4" height="3" fill="#111"/>
<line x1="274.8" y1="187.4" x2="274.8" y2="188.4" stroke="#555" stroke-width="0.5"/>
<text transform="translate(276.4,192.8) rotate(-45)" font-size="4.1" font-weight="bold" text-anchor="end" fill="#333">0</text>
<line x1="286.8" y1="187.4" x2="286.8" y2="188.4" stroke="#555" stroke-width="0.5"/>
<text transform="translate(286.6,192.3) rotate(-45)" font-size="4.1" font-weight="bold" text-anchor="end" fill="#333">50K</text>
<line x1="298.9" y1="187.4" x2="298.9" y2="188.4" stroke="#555" stroke-width="0.5"/>
<text transform="translate(298.7,192.3) rotate(-45)" font-size="4.1" font-weight="bold" text-anchor="end" fill="#333">100K</text>
<line x1="310.9" y1="187.4" x2="310.9" y2="188.4" stroke="#555" stroke-width="0.5"/>
<text transform="translate(310.7,192.3) rotate(-45)" font-size="4.1" font-weight="bold" text-anchor="end" fill="#333">150K</text>
<line x1="322.9" y1="187.4" x2="322.9" y2="188.4" stroke="#555" stroke-width="0.5"/>
<text transform="translate(322.7,192.3) rotate(-45)" font-size="4.1" font-weight="bold" text-anchor="end" fill="#333">200K</text>
<line x1="335.0" y1="187.4" x2="335.0" y2="188.4" stroke="#555" stroke-width="0.5"/>
<text transform="translate(334.8,192.3) rotate(-45)" font-size="4.1" font-weight="bold" text-anchor="end" fill="#333">250K</text>
<rect x="372.8" y="130.7" width="64.39999999999998" height="57.10000000000002" fill="none" stroke="#777" stroke-width="0.7"/>
<path d="M375.9,178.6 V145 H392 V165.3 H375.9 M382.3,145 V178.6 H375.9" fill="none" stroke="#444" stroke-width="0.6"/>
<circle cx="379.12" cy="174.24" r="0.96" fill="none" stroke="#8a96e8" stroke-width="0.45"/>
<circle cx="378.98" cy="161.50" r="0.96" fill="none" stroke="#3848d8" stroke-width="0.45"/>
<circle cx="379.85" cy="164.33" r="0.96" fill="none" stroke="#3848d8" stroke-width="0.45"/>
<circle cx="378.76" cy="172.40" r="0.96" fill="none" stroke="#6070e0" stroke-width="0.45"/>
<circle cx="380.10" cy="159.07" r="0.96" fill="none" stroke="#8a96e8" stroke-width="0.45"/>
<circle cx="378.41" cy="172.54" r="0.96" fill="none" stroke="#8a96e8" stroke-width="0.45"/>
<rect x="378.44" y="169.47" width="1.6" height="1.6" fill="#6070e0"/>
<circle cx="380.08" cy="174.16" r="0.96" fill="none" stroke="#6070e0" stroke-width="0.45"/>
<circle cx="377.29" cy="167.75" r="0.96" fill="none" stroke="#8a96e8" stroke-width="0.45"/>
<circle cx="377.42" cy="161.74" r="0.96" fill="none" stroke="#8a96e8" stroke-width="0.45"/>
<circle cx="377.46" cy="152.00" r="0.96" fill="none" stroke="#6070e0" stroke-width="0.45"/>
<circle cx="379.06" cy="171.38" r="0.96" fill="none" stroke="#3848d8" stroke-width="0.45"/>
<circle cx="378.41" cy="177.00" r="0.96" fill="none" stroke="#3848d8" stroke-width="0.45"/>
<circle cx="380.81" cy="174.41" r="0.96" fill="none" stroke="#8a96e8" stroke-width="0.45"/>
<circle cx="379.05" cy="165.51" r="0.96" fill="none" stroke="#3848d8" stroke-width="0.45"/>
<circle cx="381.16" cy="168.71" r="0.96" fill="none" stroke="#2030b8" stroke-width="0.45"/>
<rect x="375.83" y="165.79" width="1.6" height="1.6" fill="#6070e0"/>
<circle cx="379.62" cy="175.86" r="0.96" fill="none" stroke="#3848d8" stroke-width="0.45"/>
<rect x="380.33" y="176.20" width="1.6" height="1.6" fill="#6070e0"/>
<circle cx="380.18" cy="162.61" r="0.96" fill="none" stroke="#3848d8" stroke-width="0.45"/>
<circle cx="378.97" cy="171.16" r="0.96" fill="none" stroke="#8a96e8" stroke-width="0.45"/>
<circle cx="380.68" cy="165.31" r="0.96" fill="none" stroke="#2030b8" stroke-width="0.45"/>
<circle cx="381.04" cy="166.15" r="0.96" fill="none" stroke="#3848d8" stroke-width="0.45"/>
<circle cx="378.01" cy="167.20" r="0.96" fill="none" stroke="#6070e0" stroke-width="0.45"/>
<circle cx="379.53" cy="163.42" r="0.96" fill="none" stroke="#2030b8" stroke-width="0.45"/>
<circle cx="377.26" cy="160.16" r="0.96" fill="none" stroke="#8a96e8" stroke-width="0.45"/>
<circle cx="379.71" cy="163.58" r="0.96" fill="none" stroke="#3848d8" stroke-width="0.45"/>
<circle cx="378.85" cy="168.68" r="0.96" fill="none" stroke="#3848d8" stroke-width="0.45"/>
<circle cx="376.85" cy="165.69" r="0.96" fill="none" stroke="#8a96e8" stroke-width="0.45"/>
<circle cx="379.44" cy="166.20" r="0.96" fill="none" stroke="#3848d8" stroke-width="0.45"/>
<rect x="377.88" y="157.34" width="1.6" height="1.6" fill="#6070e0"/>
<circle cx="379.38" cy="173.92" r="0.96" fill="none" stroke="#6070e0" stroke-width="0.45"/>
<rect x="378.64" y="160.85" width="1.6" height="1.6" fill="#6070e0"/>
<rect x="376.52" y="170.85" width="1.6" height="1.6" fill="#6070e0"/>
<circle cx="379.42" cy="173.24" r="0.96" fill="none" stroke="#3848d8" stroke-width="0.45"/>
<circle cx="379.20" cy="174.35" r="0.96" fill="none" stroke="#6070e0" stroke-width="0.45"/>
<circle cx="380.40" cy="167.43" r="0.96" fill="none" stroke="#3848d8" stroke-width="0.45"/>
<circle cx="377.96" cy="177.00" r="0.96" fill="none" stroke="#8a96e8" stroke-width="0.45"/>
<circle cx="379.07" cy="175.32" r="0.96" fill="none" stroke="#6070e0" stroke-width="0.45"/>
<circle cx="378.27" cy="172.85" r="0.96" fill="none" stroke="#3848d8" stroke-width="0.45"/>
<circle cx="379.47" cy="173.30" r="0.96" fill="none" stroke="#2030b8" stroke-width="0.45"/>
<rect x="377.90" y="165.50" width="1.6" height="1.6" fill="#6070e0"/>
<rect x="377.67" y="159.40" width="1.6" height="1.6" fill="#6070e0"/>
<circle cx="379.03" cy="169.74" r="0.96" fill="none" stroke="#3848d8" stroke-width="0.45"/>
<circle cx="378.71" cy="169.33" r="0.96" fill="none" stroke="#6070e0" stroke-width="0.45"/>
<rect x="378.64" y="165.76" width="1.6" height="1.6" fill="#6070e0"/>
<circle cx="378.15" cy="160.59" r="0.96" fill="none" stroke="#3848d8" stroke-width="0.45"/>
<circle cx="379.73" cy="170.12" r="0.96" fill="none" stroke="#6070e0" stroke-width="0.45"/>
<circle cx="376.50" cy="161.63" r="0.96" fill="none" stroke="#2030b8" stroke-width="0.45"/>
<rect x="378.14" y="172.07" width="1.6" height="1.6" fill="#6070e0"/>
<rect x="377.36" y="172.51" width="1.2" height="1.2" fill="#3848d8"/>
<rect x="377.13" y="167.00" width="1.2" height="1.2" fill="#2030b8"/>
<rect x="380.14" y="166.46" width="1.2" height="1.2" fill="#2030b8"/>
<rect x="378.17" y="174.59" width="1.2" height="1.2" fill="#3848d8"/>
<rect x="376.92" y="168.93" width="1.2" height="1.2" fill="#3848d8"/>
<rect x="377.28" y="174.55" width="1.2" height="1.2" fill="#3848d8"/>
<rect x="377.45" y="164.97" width="1.2" height="1.2" fill="#3848d8"/>
<rect x="377.83" y="172.45" width="1.2" height="1.2" fill="#2030b8"/>
<rect x="378.69" y="166.91" width="1.2" height="1.2" fill="#3848d8"/>
<rect x="378.22" y="172.04" width="1.2" height="1.2" fill="#2030b8"/>
<rect x="378.41" y="169.43" width="1.2" height="1.2" fill="#2030b8"/>
<rect x="377.13" y="170.46" width="1.2" height="1.2" fill="#2030b8"/>
<circle cx="384.50" cy="149.50" r="0.84" fill="none" stroke="#3848d8" stroke-width="0.45"/>
<text x="374.6" y="136.4" font-size="4.4" text-anchor="start" fill="#111" stroke="#111" stroke-width="0.2">g3</text>
<text x="392.2" y="153.2" font-size="4.9" text-anchor="start" fill="#111" stroke="#111" stroke-width="0.15">g2 s m</text>
<text x="377.0" y="182.9" font-size="4.6" text-anchor="start" fill="#111" stroke="#111" stroke-width="0.15">g0</text>
<line x1="371.2" y1="135" x2="372.8" y2="135" stroke="#333" stroke-width="0.6"/>
<text x="369.40000000000003" y="136.5" font-size="4.2" font-weight="bold" text-anchor="end" fill="#333" >10<tspan font-size="3.0" dy="-1.7">5</tspan></text>
<line x1="371.2" y1="147.5" x2="372.8" y2="147.5" stroke="#333" stroke-width="0.6"/>
<text x="369.40000000000003" y="149.0" font-size="4.2" font-weight="bold" text-anchor="end" fill="#333" >10<tspan font-size="3.0" dy="-1.7">4</tspan></text>
<line x1="371.2" y1="159.2" x2="372.8" y2="159.2" stroke="#333" stroke-width="0.6"/>
<text x="369.40000000000003" y="160.7" font-size="4.2" font-weight="bold" text-anchor="end" fill="#333" >10<tspan font-size="3.0" dy="-1.7">3</tspan></text>
<line x1="371.2" y1="175" x2="372.8" y2="175" stroke="#333" stroke-width="0.6"/>
<text x="368.8" y="176.5" font-size="4.2" font-weight="bold" text-anchor="end" fill="#333" >0</text>
<rect x="371.0" y="173.5" width="1.4" height="3" fill="#111"/>
<line x1="373.1" y1="187.8" x2="373.1" y2="188.8" stroke="#555" stroke-width="0.5"/>
<text transform="translate(374.7,193.2) rotate(-45)" font-size="4.1" font-weight="bold" text-anchor="end" fill="#333">0</text>
<line x1="385.4" y1="187.8" x2="385.4" y2="188.8" stroke="#555" stroke-width="0.5"/>
<text transform="translate(385.2,192.7) rotate(-45)" font-size="4.1" font-weight="bold" text-anchor="end" fill="#333">50K</text>
<line x1="397.7" y1="187.8" x2="397.7" y2="188.8" stroke="#555" stroke-width="0.5"/>
<text transform="translate(397.5,192.7) rotate(-45)" font-size="4.1" font-weight="bold" text-anchor="end" fill="#333">100K</text>
<line x1="409.9" y1="187.8" x2="409.9" y2="188.8" stroke="#555" stroke-width="0.5"/>
<text transform="translate(409.7,192.7) rotate(-45)" font-size="4.1" font-weight="bold" text-anchor="end" fill="#333">150K</text>
<line x1="422.2" y1="187.8" x2="422.2" y2="188.8" stroke="#555" stroke-width="0.5"/>
<text transform="translate(422.0,192.7) rotate(-45)" font-size="4.1" font-weight="bold" text-anchor="end" fill="#333">200K</text>
<line x1="434.5" y1="187.8" x2="434.5" y2="188.8" stroke="#555" stroke-width="0.5"/>
<text transform="translate(434.3,192.7) rotate(-45)" font-size="4.1" font-weight="bold" text-anchor="end" fill="#333">250K</text>
<line x1="57.4" y1="154.2" x2="57.4" y2="197" stroke="#394272" stroke-width="1.25"/>
<text x="48.3" y="151.1" font-size="9.6" fill="#111" stroke="#111" stroke-width="0.12" transform="translate(48.3,0) scale(0.78,1) translate(-48.3,0)">Ki67</text>
<line x1="66.3" y1="207.0" x2="116.5" y2="207.0" stroke="#394272" stroke-width="1.4"/>
<text x="120.8" y="209.6" font-size="8.7" fill="#111" stroke="#111" stroke-width="0.12" transform="translate(120.8,0) scale(0.87,1) translate(-120.8,0)">7-AAD (DNA)</text>
<rect x="45.10" y="258.60" width="10.5" height="5.01" fill="#b4062e"/>
<rect x="45.10" y="263.61" width="10.5" height="47.80" fill="#2d4e88"/>
<rect x="45.10" y="311.42" width="10.5" height="53.88" fill="#66ab44"/>
<line x1="50.35" y1="263.5" x2="50.35" y2="273" stroke="#c8d4f0" stroke-width="0.8"/>
<line x1="50.35" y1="311" x2="50.35" y2="320" stroke="#0a3a0a" stroke-width="0.8"/>
<rect x="71.40" y="258.60" width="10.5" height="4.69" fill="#b4062e"/>
<rect x="71.40" y="263.29" width="10.5" height="86.96" fill="#2d4e88"/>
<rect x="71.40" y="350.26" width="10.5" height="15.04" fill="#66ab44"/>
<circle cx="76.65" cy="264.50" r="1.05" fill="#fff"/>
<circle cx="72.90" cy="338.90" r="1.05" fill="#fff"/>
<circle cx="76.65" cy="338.90" r="1.05" fill="#fff"/>
<circle cx="80.40" cy="338.90" r="1.05" fill="#fff"/>
<line x1="76.65" y1="349.3" x2="76.65" y2="352" stroke="#0a3a0a" stroke-width="0.8"/>
<circle cx="72.90" cy="356.50" r="1.05" fill="#000"/>
<circle cx="76.65" cy="356.50" r="1.05" fill="#000"/>
<circle cx="80.40" cy="356.50" r="1.05" fill="#000"/>
<rect x="97.70" y="258.60" width="10.5" height="5.01" fill="#b4062e"/>
<rect x="97.70" y="263.61" width="10.5" height="92.40" fill="#2d4e88"/>
<rect x="97.70" y="356.02" width="10.5" height="9.28" fill="#66ab44"/>
<line x1="102.95" y1="263.5" x2="102.95" y2="267" stroke="#fff" stroke-width="0.8"/>
<circle cx="99.20" cy="344.80" r="1.05" fill="#fff"/>
<circle cx="102.95" cy="344.80" r="1.05" fill="#fff"/>
<circle cx="106.70" cy="344.80" r="1.05" fill="#fff"/>
<line x1="102.95" y1="353.5" x2="102.95" y2="357" stroke="#0a3a0a" stroke-width="0.8"/>
<circle cx="99.20" cy="360.00" r="1.05" fill="#000"/>
<circle cx="102.95" cy="360.00" r="1.05" fill="#000"/>
<circle cx="106.70" cy="360.00" r="1.05" fill="#000"/>
<rect x="124.00" y="258.60" width="10.5" height="8.64" fill="#b4062e"/>
<rect x="124.00" y="267.24" width="10.5" height="70.32" fill="#2d4e88"/>
<rect x="124.00" y="337.56" width="10.5" height="27.74" fill="#66ab44"/>
<circle cx="129.25" cy="268.50" r="1.05" fill="#fff"/>
<circle cx="125.50" cy="326.30" r="1.05" fill="#fff"/>
<circle cx="129.25" cy="326.30" r="1.05" fill="#fff"/>
<circle cx="133.00" cy="326.30" r="1.05" fill="#fff"/>
<line x1="129.25" y1="335" x2="129.25" y2="339" stroke="#0a3a0a" stroke-width="0.8"/>
<circle cx="127.38" cy="344.80" r="1.05" fill="#000"/>
<circle cx="131.12" cy="344.80" r="1.05" fill="#000"/>
<rect x="150.30" y="258.60" width="10.5" height="6.62" fill="#b4062e"/>
<rect x="150.30" y="265.22" width="10.5" height="80.24" fill="#2d4e88"/>
<rect x="150.30" y="345.45" width="10.5" height="19.85" fill="#66ab44"/>
<line x1="155.55" y1="265" x2="155.55" y2="270" stroke="#fff" stroke-width="0.8"/>
<circle cx="151.80" cy="332.90" r="1.05" fill="#fff"/>
<circle cx="155.55" cy="332.90" r="1.05" fill="#fff"/>
<circle cx="159.30" cy="332.90" r="1.05" fill="#fff"/>
<line x1="155.55" y1="342" x2="155.55" y2="350" stroke="#0a3a0a" stroke-width="0.8"/>
<circle cx="151.80" cy="354.60" r="1.05" fill="#000"/>
<circle cx="155.55" cy="354.60" r="1.05" fill="#000"/>
<circle cx="159.30" cy="354.60" r="1.05" fill="#000"/>
<rect x="176.60" y="258.60" width="10.5" height="17.39" fill="#b4062e"/>
<rect x="176.60" y="275.99" width="10.5" height="84.61" fill="#2d4e88"/>
<rect x="176.60" y="360.61" width="10.5" height="4.69" fill="#66ab44"/>
<circle cx="181.85" cy="266.40" r="1.05" fill="#5a0a1a"/>
<circle cx="181.85" cy="277.00" r="1.05" fill="#fff"/>
<circle cx="178.10" cy="348.40" r="1.05" fill="#fff"/>
<circle cx="181.85" cy="348.40" r="1.05" fill="#fff"/>
<circle cx="185.60" cy="348.40" r="1.05" fill="#fff"/>
<circle cx="178.10" cy="362.80" r="1.05" fill="#000"/>
<circle cx="181.85" cy="362.80" r="1.05" fill="#000"/>
<circle cx="185.60" cy="362.80" r="1.05" fill="#000"/>
<rect x="202.90" y="258.60" width="10.5" height="13.76" fill="#b4062e"/>
<rect x="202.90" y="272.36" width="10.5" height="62.85" fill="#2d4e88"/>
<rect x="202.90" y="335.21" width="10.5" height="30.09" fill="#66ab44"/>
<circle cx="206.28" cy="265.00" r="1.05" fill="#5a0a1a"/>
<circle cx="210.03" cy="265.00" r="1.05" fill="#5a0a1a"/>
<line x1="208.15" y1="272.5" x2="208.15" y2="277" stroke="#fff" stroke-width="0.8"/>
<text x="208.15" y="329.70000000000005" font-size="6.4" text-anchor="middle" fill="#e4e8f4">n.s.</text>
<line x1="208.15" y1="335" x2="208.15" y2="340" stroke="#0a3a0a" stroke-width="0.8"/>
<circle cx="208.15" cy="342.70" r="1.05" fill="#000"/>
<line x1="37" y1="255.40000000000003" x2="37" y2="365.90000000000003" stroke="#000" stroke-width="1.3"/>
<line x1="36.4" y1="365.3" x2="223" y2="365.3" stroke="#000" stroke-width="1.3"/>
<line x1="34.4" y1="354.63" x2="37" y2="354.63" stroke="#000" stroke-width="0.9"/>
<text x="31.8" y="357.03" font-size="6.7" text-anchor="end" fill="#111" stroke="#111" stroke-width="0.1">10</text>
<line x1="34.4" y1="343.96" x2="37" y2="343.96" stroke="#000" stroke-width="0.9"/>
<text x="31.8" y="346.36" font-size="6.7" text-anchor="end" fill="#111" stroke="#111" stroke-width="0.1">20</text>
<line x1="34.4" y1="333.29" x2="37" y2="333.29" stroke="#000" stroke-width="0.9"/>
<text x="31.8" y="335.69" font-size="6.7" text-anchor="end" fill="#111" stroke="#111" stroke-width="0.1">30</text>
<line x1="34.4" y1="322.62" x2="37" y2="322.62" stroke="#000" stroke-width="0.9"/>
<text x="31.8" y="325.02" font-size="6.7" text-anchor="end" fill="#111" stroke="#111" stroke-width="0.1">40</text>
<line x1="34.4" y1="311.95" x2="37" y2="311.95" stroke="#000" stroke-width="0.9"/>
<text x="31.8" y="314.35" font-size="6.7" text-anchor="end" fill="#111" stroke="#111" stroke-width="0.1">50</text>
<line x1="34.4" y1="301.28" x2="37" y2="301.28" stroke="#000" stroke-width="0.9"/>
<text x="31.8" y="303.68" font-size="6.7" text-anchor="end" fill="#111" stroke="#111" stroke-width="0.1">60</text>
<line x1="34.4" y1="290.61" x2="37" y2="290.61" stroke="#000" stroke-width="0.9"/>
<text x="31.8" y="293.01" font-size="6.7" text-anchor="end" fill="#111" stroke="#111" stroke-width="0.1">70</text>
<line x1="34.4" y1="279.94" x2="37" y2="279.94" stroke="#000" stroke-width="0.9"/>
<text x="31.8" y="282.34" font-size="6.7" text-anchor="end" fill="#111" stroke="#111" stroke-width="0.1">80</text>
<line x1="34.4" y1="269.27" x2="37" y2="269.27" stroke="#000" stroke-width="0.9"/>
<text x="31.8" y="271.66999999999996" font-size="6.7" text-anchor="end" fill="#111" stroke="#111" stroke-width="0.1">90</text>
<line x1="34.4" y1="258.60" x2="37" y2="258.60" stroke="#000" stroke-width="0.9"/>
<text x="31.8" y="261.0" font-size="6.7" text-anchor="end" fill="#111" stroke="#111" stroke-width="0.1">100</text>
<line x1="37.00" y1="365.3" x2="37.00" y2="368.1" stroke="#000" stroke-width="0.9"/>
<line x1="63.30" y1="365.3" x2="63.30" y2="368.1" stroke="#000" stroke-width="0.9"/>
<line x1="89.60" y1="365.3" x2="89.60" y2="368.1" stroke="#000" stroke-width="0.9"/>
<line x1="115.90" y1="365.3" x2="115.90" y2="368.1" stroke="#000" stroke-width="0.9"/>
<line x1="142.20" y1="365.3" x2="142.20" y2="368.1" stroke="#000" stroke-width="0.9"/>
<line x1="168.50" y1="365.3" x2="168.50" y2="368.1" stroke="#000" stroke-width="0.9"/>
<line x1="194.80" y1="365.3" x2="194.80" y2="368.1" stroke="#000" stroke-width="0.9"/>
<line x1="221.10" y1="365.3" x2="221.10" y2="368.1" stroke="#000" stroke-width="0.9"/>
<text x="50.35" y="377.8" font-size="6.5" text-anchor="middle" fill="#111" stroke="#111" stroke-width="0.12">ctr</text>
<text x="76.65" y="377.8" font-size="6.5" text-anchor="middle" fill="#111" stroke="#111" stroke-width="0.12">POL</text>
<text x="76.65" y="385.3" font-size="6.5" text-anchor="middle" fill="#111" stroke="#111" stroke-width="0.12">1 wk</text>
<text x="102.95" y="377.8" font-size="6.5" text-anchor="middle" fill="#111" stroke="#111" stroke-width="0.12">POL</text>
<text x="102.95" y="385.3" font-size="6.5" text-anchor="middle" fill="#111" stroke="#111" stroke-width="0.12">2 wks</text>
<text x="129.25" y="377.8" font-size="6.5" text-anchor="middle" fill="#111" stroke="#111" stroke-width="0.12">AMD</text>
<text x="129.25" y="385.3" font-size="6.5" text-anchor="middle" fill="#111" stroke="#111" stroke-width="0.12">2 wks</text>
<text x="155.55" y="377.8" font-size="6.5" text-anchor="middle" fill="#111" stroke="#111" stroke-width="0.12">ALT</text>
<text x="155.55" y="385.3" font-size="6.5" text-anchor="middle" fill="#111" stroke="#111" stroke-width="0.12">2 wks</text>
<text x="181.85" y="377.8" font-size="6.5" text-anchor="middle" fill="#111" stroke="#111" stroke-width="0.12">G-CSF</text>
<text x="181.85" y="385.3" font-size="6.5" text-anchor="middle" fill="#111" stroke="#111" stroke-width="0.12">2 days</text>
<text x="208.15" y="377.8" font-size="6.5" text-anchor="middle" fill="#111" stroke="#111" stroke-width="0.12">G-CSF</text>
<text x="208.15" y="385.3" font-size="6.5" text-anchor="middle" fill="#111" stroke="#111" stroke-width="0.12">5 days</text>
<text x="130.5" y="250.2" font-size="8.5" font-weight="bold" text-anchor="middle" fill="#000" stroke="#000" stroke-width="0.28">LSK, BM</text>
<text transform="translate(14.6,310.6) rotate(-90)" font-size="8.6" text-anchor="middle" fill="#222">%</text>
<rect x="224.1" y="298.3" width="4.0" height="4.0" fill="#a0062a"/>
<text x="231.1" y="302.6" font-size="6.4" text-anchor="start" fill="#111" >G<tspan font-size="4" dy="2.3">2</tspan><tspan dy="-2.3"> SM</tspan></text>
<rect x="224.1" y="309.6" width="4.0" height="4.0" fill="#24406e"/>
<text x="231.1" y="313.90000000000003" font-size="6.4" text-anchor="start" fill="#111" >G<tspan font-size="4" dy="2.3">1</tspan></text>
<rect x="224.1" y="320.90000000000003" width="4.0" height="4.0" fill="#5a9a40"/>
<text x="231.1" y="325.20000000000005" font-size="6.4" text-anchor="start" fill="#111" >G<tspan font-size="4" dy="2.3">0</tspan></text>
<rect x="303.30" y="258.30" width="10.7" height="2.77" fill="#b4062e"/>
<rect x="303.30" y="261.07" width="10.7" height="25.05" fill="#2d4e88"/>
<rect x="303.30" y="286.12" width="10.7" height="78.78" fill="#66ab44"/>
<line x1="308.65" y1="262" x2="308.65" y2="267" stroke="#c8d4f0" stroke-width="0.8"/>
<line x1="308.65" y1="286" x2="308.65" y2="294" stroke="#0a3a0a" stroke-width="0.8"/>
<rect x="330.15" y="258.30" width="10.7" height="4.37" fill="#b4062e"/>
<rect x="330.15" y="262.67" width="10.7" height="54.37" fill="#2d4e88"/>
<rect x="330.15" y="317.04" width="10.7" height="47.86" fill="#66ab44"/>
<circle cx="335.50" cy="264.30" r="1.05" fill="#fff"/>
<circle cx="333.63" cy="306.40" r="1.05" fill="#fff"/>
<circle cx="337.38" cy="306.40" r="1.05" fill="#fff"/>
<line x1="335.50" y1="316" x2="335.50" y2="320" stroke="#0a3a0a" stroke-width="0.8"/>
<circle cx="335.50" cy="323.60" r="1.05" fill="#000"/>
<rect x="357.00" y="258.30" width="10.7" height="5.33" fill="#b4062e"/>
<rect x="357.00" y="263.63" width="10.7" height="68.76" fill="#2d4e88"/>
<rect x="357.00" y="332.39" width="10.7" height="32.51" fill="#66ab44"/>
<line x1="362.35" y1="264" x2="362.35" y2="267.5" stroke="#fff" stroke-width="0.8"/>
<circle cx="360.48" cy="320.40" r="1.05" fill="#fff"/>
<circle cx="364.23" cy="320.40" r="1.05" fill="#fff"/>
<line x1="362.35" y1="332" x2="362.35" y2="336" stroke="#0a3a0a" stroke-width="0.8"/>
<circle cx="360.48" cy="338.50" r="1.05" fill="#000"/>
<circle cx="364.23" cy="338.50" r="1.05" fill="#000"/>
<rect x="383.85" y="258.30" width="10.7" height="4.80" fill="#b4062e"/>
<rect x="383.85" y="263.10" width="10.7" height="37.20" fill="#2d4e88"/>
<rect x="383.85" y="300.30" width="10.7" height="64.60" fill="#66ab44"/>
<circle cx="389.20" cy="264.30" r="1.05" fill="#fff"/>
<text x="389.20" y="291.40000000000003" font-size="6.4" text-anchor="middle" fill="#e4e8f4">n.s.</text>
<line x1="389.20" y1="299.6" x2="389.20" y2="302" stroke="#0a3a0a" stroke-width="0.8"/>
<text x="389.20" y="308.5" font-size="6.4" text-anchor="middle" fill="#1a3a1a">n.s.</text>
<rect x="410.70" y="258.30" width="10.7" height="3.41" fill="#b4062e"/>
<rect x="410.70" y="261.71" width="10.7" height="58.74" fill="#2d4e88"/>
<rect x="410.70" y="320.45" width="10.7" height="44.45" fill="#66ab44"/>
<line x1="416.05" y1="263" x2="416.05" y2="269" stroke="#fff" stroke-width="0.8"/>
<circle cx="414.18" cy="304.10" r="1.05" fill="#fff"/>
<circle cx="417.93" cy="304.10" r="1.05" fill="#fff"/>
<line x1="416.05" y1="320" x2="416.05" y2="326" stroke="#0a3a0a" stroke-width="0.8"/>
<circle cx="414.18" cy="329.30" r="1.05" fill="#000"/>
<circle cx="417.93" cy="329.30" r="1.05" fill="#000"/>
<rect x="437.55" y="258.30" width="10.7" height="8.53" fill="#b4062e"/>
<rect x="437.55" y="266.83" width="10.7" height="66.31" fill="#2d4e88"/>
<rect x="437.55" y="333.13" width="10.7" height="31.77" fill="#66ab44"/>
<circle cx="442.90" cy="263.00" r="1.05" fill="#5a0a1a"/>
<line x1="442.90" y1="267" x2="442.90" y2="272" stroke="#fff" stroke-width="0.8"/>
<circle cx="441.03" cy="320.00" r="1.05" fill="#fff"/>
<circle cx="444.78" cy="320.00" r="1.05" fill="#fff"/>
<line x1="442.90" y1="333" x2="442.90" y2="337.7" stroke="#0a3a0a" stroke-width="0.8"/>
<circle cx="441.03" cy="340.70" r="1.05" fill="#000"/>
<circle cx="444.78" cy="340.70" r="1.05" fill="#000"/>
<rect x="464.40" y="258.30" width="10.7" height="3.41" fill="#b4062e"/>
<rect x="464.40" y="261.71" width="10.7" height="26.44" fill="#2d4e88"/>
<rect x="464.40" y="288.15" width="10.7" height="76.75" fill="#66ab44"/>
<circle cx="469.75" cy="262.20" r="1.05" fill="#fff"/>
<text x="469.75" y="279.3" font-size="6.4" text-anchor="middle" fill="#e4e8f4">n.s.</text>
<line x1="469.75" y1="288" x2="469.75" y2="291" stroke="#0a3a0a" stroke-width="0.8"/>
<text x="469.75" y="296.40000000000003" font-size="6.4" text-anchor="middle" fill="#1a3a1a">n.s.</text>
<line x1="295.5" y1="255.10000000000002" x2="295.5" y2="365.5" stroke="#000" stroke-width="1.3"/>
<line x1="294.9" y1="364.9" x2="485" y2="364.9" stroke="#000" stroke-width="1.3"/>
<line x1="292.9" y1="354.24" x2="295.5" y2="354.24" stroke="#000" stroke-width="0.9"/>
<text x="290.3" y="356.64" font-size="6.7" text-anchor="end" fill="#111" stroke="#111" stroke-width="0.1">10</text>
<line x1="292.9" y1="343.58" x2="295.5" y2="343.58" stroke="#000" stroke-width="0.9"/>
<text x="290.3" y="345.97999999999996" font-size="6.7" text-anchor="end" fill="#111" stroke="#111" stroke-width="0.1">20</text>
<line x1="292.9" y1="332.92" x2="295.5" y2="332.92" stroke="#000" stroke-width="0.9"/>
<text x="290.3" y="335.31999999999994" font-size="6.7" text-anchor="end" fill="#111" stroke="#111" stroke-width="0.1">30</text>
<line x1="292.9" y1="322.26" x2="295.5" y2="322.26" stroke="#000" stroke-width="0.9"/>
<text x="290.3" y="324.65999999999997" font-size="6.7" text-anchor="end" fill="#111" stroke="#111" stroke-width="0.1">40</text>
<line x1="292.9" y1="311.60" x2="295.5" y2="311.60" stroke="#000" stroke-width="0.9"/>
<text x="290.3" y="314.0" font-size="6.7" text-anchor="end" fill="#111" stroke="#111" stroke-width="0.1">50</text>
<line x1="292.9" y1="300.94" x2="295.5" y2="300.94" stroke="#000" stroke-width="0.9"/>
<text x="290.3" y="303.34" font-size="6.7" text-anchor="end" fill="#111" stroke="#111" stroke-width="0.1">60</text>
<line x1="292.9" y1="290.28" x2="295.5" y2="290.28" stroke="#000" stroke-width="0.9"/>
<text x="290.3" y="292.67999999999995" font-size="6.7" text-anchor="end" fill="#111" stroke="#111" stroke-width="0.1">70</text>
<line x1="292.9" y1="279.62" x2="295.5" y2="279.62" stroke="#000" stroke-width="0.9"/>
<text x="290.3" y="282.02" font-size="6.7" text-anchor="end" fill="#111" stroke="#111" stroke-width="0.1">80</text>
<line x1="292.9" y1="268.96" x2="295.5" y2="268.96" stroke="#000" stroke-width="0.9"/>
<text x="290.3" y="271.36" font-size="6.7" text-anchor="end" fill="#111" stroke="#111" stroke-width="0.1">90</text>
<line x1="292.9" y1="258.30" x2="295.5" y2="258.30" stroke="#000" stroke-width="0.9"/>
<text x="290.3" y="260.7" font-size="6.7" text-anchor="end" fill="#111" stroke="#111" stroke-width="0.1">100</text>
<line x1="295.50" y1="364.9" x2="295.50" y2="367.7" stroke="#000" stroke-width="0.9"/>
<line x1="322.35" y1="364.9" x2="322.35" y2="367.7" stroke="#000" stroke-width="0.9"/>
<line x1="349.20" y1="364.9" x2="349.20" y2="367.7" stroke="#000" stroke-width="0.9"/>
<line x1="376.05" y1="364.9" x2="376.05" y2="367.7" stroke="#000" stroke-width="0.9"/>
<line x1="402.90" y1="364.9" x2="402.90" y2="367.7" stroke="#000" stroke-width="0.9"/>
<line x1="429.75" y1="364.9" x2="429.75" y2="367.7" stroke="#000" stroke-width="0.9"/>
<line x1="456.60" y1="364.9" x2="456.60" y2="367.7" stroke="#000" stroke-width="0.9"/>
<line x1="483.45" y1="364.9" x2="483.45" y2="367.7" stroke="#000" stroke-width="0.9"/>
<text x="308.65" y="377.8" font-size="6.5" text-anchor="middle" fill="#111" stroke="#111" stroke-width="0.12">ctr</text>
<text x="335.50" y="377.8" font-size="6.5" text-anchor="middle" fill="#111" stroke="#111" stroke-width="0.12">POL</text>
<text x="335.50" y="385.3" font-size="6.5" text-anchor="middle" fill="#111" stroke="#111" stroke-width="0.12">1 wk</text>
<text x="362.35" y="377.8" font-size="6.5" text-anchor="middle" fill="#111" stroke="#111" stroke-width="0.12">POL</text>
<text x="362.35" y="385.3" font-size="6.5" text-anchor="middle" fill="#111" stroke="#111" stroke-width="0.12">2 wks</text>
<text x="389.20" y="377.8" font-size="6.5" text-anchor="middle" fill="#111" stroke="#111" stroke-width="0.12">AMD</text>
<text x="389.20" y="385.3" font-size="6.5" text-anchor="middle" fill="#111" stroke="#111" stroke-width="0.12">2 wks</text>
<text x="416.05" y="377.8" font-size="6.5" text-anchor="middle" fill="#111" stroke="#111" stroke-width="0.12">ALT</text>
<text x="416.05" y="385.3" font-size="6.5" text-anchor="middle" fill="#111" stroke="#111" stroke-width="0.12">2 wks</text>
<text x="442.90" y="377.8" font-size="6.5" text-anchor="middle" fill="#111" stroke="#111" stroke-width="0.12">G-CSF</text>
<text x="442.90" y="385.3" font-size="6.5" text-anchor="middle" fill="#111" stroke="#111" stroke-width="0.12">2 days</text>
<text x="469.75" y="377.8" font-size="6.5" text-anchor="middle" fill="#111" stroke="#111" stroke-width="0.12">G-CSF</text>
<text x="469.75" y="385.3" font-size="6.5" text-anchor="middle" fill="#111" stroke="#111" stroke-width="0.12">5 days</text>
<text x="389" y="250.2" font-size="8.7" font-weight="bold" text-anchor="middle" fill="#000" stroke="#000" stroke-width="0.28">LSK SLAM, BM</text>
<text transform="translate(272.6,310.0) rotate(-90)" font-size="10" text-anchor="middle" fill="#222">%</text>
<rect x="485.8" y="298.3" width="4.0" height="4.0" fill="#a0062a"/>
<text x="492.8" y="302.6" font-size="6.4" text-anchor="start" fill="#111" >G<tspan font-size="4" dy="2.3">2</tspan><tspan dy="-2.3"> SM</tspan></text>
<rect x="485.8" y="309.6" width="4.0" height="4.0" fill="#24406e"/>
<text x="492.8" y="313.90000000000003" font-size="6.4" text-anchor="start" fill="#111" >G<tspan font-size="4" dy="2.3">1</tspan></text>
<rect x="485.8" y="320.90000000000003" width="4.0" height="4.0" fill="#5a9a40"/>
<text x="492.8" y="325.20000000000005" font-size="6.4" text-anchor="start" fill="#111" >G<tspan font-size="4" dy="2.3">0</tspan></text>
<text x="8.0" y="235.4" font-size="11.8" font-weight="bold" text-anchor="start" fill="#000" stroke="#000" stroke-width="0.3">B</text>
<text x="265.6" y="235.3" font-size="11.7" font-weight="bold" text-anchor="start" fill="#000" stroke="#000" stroke-width="0.35">C</text>
<rect x="0" y="0" width="520" height="1" fill="#000"/>
<rect x="0" y="1" width="520" height="1" fill="#000" opacity="0.25"/>
<rect x="0" y="0" width="1" height="394" fill="#000"/>
<rect x="1" y="0" width="1" height="394" fill="#000" opacity="0.25"/>
<rect x="519" y="0" width="1" height="394" fill="#000"/>
<rect x="518" y="0" width="1" height="394" fill="#000" opacity="0.5"/>
<rect x="0" y="393" width="520" height="1" fill="#000"/>
<rect x="0" y="392" width="520" height="1" fill="#000" opacity="0.5"/>
</g>
</svg>
</div>
</body></html>
